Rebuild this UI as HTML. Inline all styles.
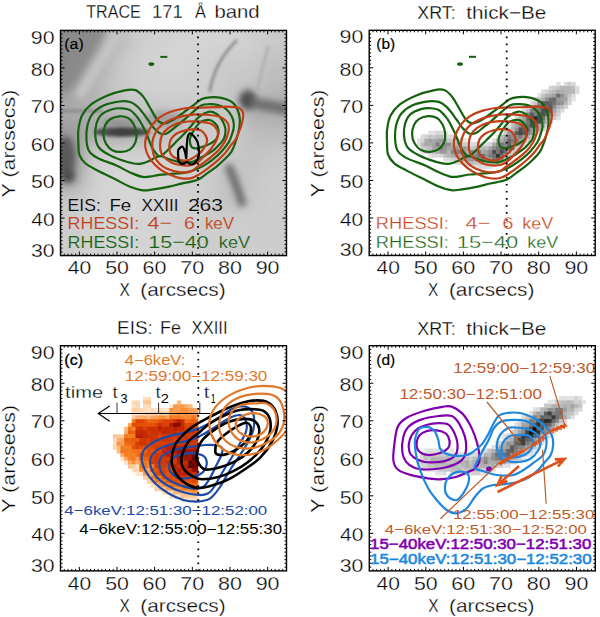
<!DOCTYPE html><html><head><meta charset="utf-8"><style>html,body{margin:0;padding:0;background:#fff;}svg{display:block;}text{font-family:"Liberation Sans",sans-serif;}</style></head><body>
<svg width="600" height="617" viewBox="0 0 600 617">
<defs><filter id="b1" x="-50%" y="-50%" width="200%" height="200%"><feGaussianBlur stdDeviation="1.5"/></filter><filter id="b3" x="-50%" y="-50%" width="200%" height="200%"><feGaussianBlur stdDeviation="3"/></filter><filter id="b6" x="-50%" y="-50%" width="200%" height="200%"><feGaussianBlur stdDeviation="6"/></filter><filter id="b12" x="-50%" y="-50%" width="200%" height="200%"><feGaussianBlur stdDeviation="12"/></filter></defs>
<defs><filter id="bgA" filterUnits="userSpaceOnUse" x="0" y="0" width="600" height="617"><feGaussianBlur stdDeviation="9"/></filter><filter id="fA3" filterUnits="userSpaceOnUse" x="0" y="0" width="600" height="617"><feGaussianBlur stdDeviation="3"/></filter><filter id="fA1" filterUnits="userSpaceOnUse" x="0" y="0" width="600" height="617"><feGaussianBlur stdDeviation="1.5"/></filter></defs>
<rect width="600" height="617" fill="#fff"/>
<text x="86.30" y="18.00" font-size="18.6" textLength="54.41" lengthAdjust="spacingAndGlyphs" fill="#000"  stroke="#fff" stroke-width="0.3">TRACE</text>
<text x="151.92" y="18.00" font-size="18.6" textLength="30.77" lengthAdjust="spacingAndGlyphs" fill="#000"  stroke="#fff" stroke-width="0.3">171</text>
<text x="194.92" y="18.00" font-size="18.6" textLength="10.92" lengthAdjust="spacingAndGlyphs" fill="#000"  stroke="#fff" stroke-width="0.3">Å</text>
<text x="214.48" y="18.00" font-size="18.6" textLength="45.13" lengthAdjust="spacingAndGlyphs" fill="#000"  stroke="#fff" stroke-width="0.3">band</text>
<text x="417.25" y="18.50" font-size="18.6" textLength="38.43" lengthAdjust="spacingAndGlyphs" fill="#000"  stroke="#fff" stroke-width="0.3">XRT:</text>
<text x="466.39" y="18.50" font-size="18.6" textLength="79.91" lengthAdjust="spacingAndGlyphs" fill="#000"  stroke="#fff" stroke-width="0.3">thick−Be</text>
<text x="117.09" y="334.00" font-size="18.6" textLength="35.70" lengthAdjust="spacingAndGlyphs" fill="#000"  stroke="#fff" stroke-width="0.3">EIS:</text>
<text x="159.97" y="334.00" font-size="18.6" textLength="20.87" lengthAdjust="spacingAndGlyphs" fill="#000"  stroke="#fff" stroke-width="0.3">Fe</text>
<text x="191.59" y="334.00" font-size="18.6" textLength="35.95" lengthAdjust="spacingAndGlyphs" fill="#000"  stroke="#fff" stroke-width="0.3">XXIII</text>
<text x="417.25" y="334.50" font-size="18.6" textLength="38.43" lengthAdjust="spacingAndGlyphs" fill="#000"  stroke="#fff" stroke-width="0.3">XRT:</text>
<text x="466.39" y="334.50" font-size="18.6" textLength="79.91" lengthAdjust="spacingAndGlyphs" fill="#000"  stroke="#fff" stroke-width="0.3">thick−Be</text>
<clipPath id="clipa"><rect x="60.50" y="30.40" width="226.0" height="225.2"/></clipPath>
<g clip-path="url(#clipa)">
<g filter="url(#bgA)">
<rect x="37.9" y="7.9" width="23.1" height="23.0" fill="#8c8c8c"/>
<rect x="60.5" y="7.9" width="23.1" height="23.0" fill="#8c8c8c"/>
<rect x="83.1" y="7.9" width="23.1" height="23.0" fill="#8c8c8c"/>
<rect x="105.7" y="7.9" width="23.1" height="23.0" fill="#b9b9b9"/>
<rect x="128.3" y="7.9" width="23.1" height="23.0" fill="#cdcdcd"/>
<rect x="150.9" y="7.9" width="23.1" height="23.0" fill="#d2d2d2"/>
<rect x="173.5" y="7.9" width="23.1" height="23.0" fill="#d4d4d4"/>
<rect x="196.1" y="7.9" width="23.1" height="23.0" fill="#d4d4d4"/>
<rect x="218.7" y="7.9" width="23.1" height="23.0" fill="#d4d4d4"/>
<rect x="241.3" y="7.9" width="23.1" height="23.0" fill="#d0d0d0"/>
<rect x="263.9" y="7.9" width="23.1" height="23.0" fill="#cacaca"/>
<rect x="286.5" y="7.9" width="23.1" height="23.0" fill="#cacaca"/>
<rect x="37.9" y="30.4" width="23.1" height="23.0" fill="#8c8c8c"/>
<rect x="60.5" y="30.4" width="23.1" height="23.0" fill="#8c8c8c"/>
<rect x="83.1" y="30.4" width="23.1" height="23.0" fill="#8c8c8c"/>
<rect x="105.7" y="30.4" width="23.1" height="23.0" fill="#b9b9b9"/>
<rect x="128.3" y="30.4" width="23.1" height="23.0" fill="#cdcdcd"/>
<rect x="150.9" y="30.4" width="23.1" height="23.0" fill="#d2d2d2"/>
<rect x="173.5" y="30.4" width="23.1" height="23.0" fill="#d4d4d4"/>
<rect x="196.1" y="30.4" width="23.1" height="23.0" fill="#d4d4d4"/>
<rect x="218.7" y="30.4" width="23.1" height="23.0" fill="#d4d4d4"/>
<rect x="241.3" y="30.4" width="23.1" height="23.0" fill="#d0d0d0"/>
<rect x="263.9" y="30.4" width="23.1" height="23.0" fill="#cacaca"/>
<rect x="286.5" y="30.4" width="23.1" height="23.0" fill="#cacaca"/>
<rect x="37.9" y="52.9" width="23.1" height="23.0" fill="#828282"/>
<rect x="60.5" y="52.9" width="23.1" height="23.0" fill="#828282"/>
<rect x="83.1" y="52.9" width="23.1" height="23.0" fill="#a0a0a0"/>
<rect x="105.7" y="52.9" width="23.1" height="23.0" fill="#c6c6c6"/>
<rect x="128.3" y="52.9" width="23.1" height="23.0" fill="#d2d2d2"/>
<rect x="150.9" y="52.9" width="23.1" height="23.0" fill="#d4d4d4"/>
<rect x="173.5" y="52.9" width="23.1" height="23.0" fill="#d4d4d4"/>
<rect x="196.1" y="52.9" width="23.1" height="23.0" fill="#d0d0d0"/>
<rect x="218.7" y="52.9" width="23.1" height="23.0" fill="#cacaca"/>
<rect x="241.3" y="52.9" width="23.1" height="23.0" fill="#cacaca"/>
<rect x="263.9" y="52.9" width="23.1" height="23.0" fill="#c0c0c0"/>
<rect x="286.5" y="52.9" width="23.1" height="23.0" fill="#c0c0c0"/>
<rect x="37.9" y="75.4" width="23.1" height="23.0" fill="#969696"/>
<rect x="60.5" y="75.4" width="23.1" height="23.0" fill="#969696"/>
<rect x="83.1" y="75.4" width="23.1" height="23.0" fill="#b6b6b6"/>
<rect x="105.7" y="75.4" width="23.1" height="23.0" fill="#c8c8c8"/>
<rect x="128.3" y="75.4" width="23.1" height="23.0" fill="#d0d0d0"/>
<rect x="150.9" y="75.4" width="23.1" height="23.0" fill="#d2d2d2"/>
<rect x="173.5" y="75.4" width="23.1" height="23.0" fill="#d2d2d2"/>
<rect x="196.1" y="75.4" width="23.1" height="23.0" fill="#d0d0d0"/>
<rect x="218.7" y="75.4" width="23.1" height="23.0" fill="#c6c6c6"/>
<rect x="241.3" y="75.4" width="23.1" height="23.0" fill="#c3c3c3"/>
<rect x="263.9" y="75.4" width="23.1" height="23.0" fill="#b9b9b9"/>
<rect x="286.5" y="75.4" width="23.1" height="23.0" fill="#b9b9b9"/>
<rect x="37.9" y="98.0" width="23.1" height="23.0" fill="#acacac"/>
<rect x="60.5" y="98.0" width="23.1" height="23.0" fill="#acacac"/>
<rect x="83.1" y="98.0" width="23.1" height="23.0" fill="#b4b4b4"/>
<rect x="105.7" y="98.0" width="23.1" height="23.0" fill="#bcbcbc"/>
<rect x="128.3" y="98.0" width="23.1" height="23.0" fill="#c6c6c6"/>
<rect x="150.9" y="98.0" width="23.1" height="23.0" fill="#c8c8c8"/>
<rect x="173.5" y="98.0" width="23.1" height="23.0" fill="#c8c8c8"/>
<rect x="196.1" y="98.0" width="23.1" height="23.0" fill="#c6c6c6"/>
<rect x="218.7" y="98.0" width="23.1" height="23.0" fill="#c6c6c6"/>
<rect x="241.3" y="98.0" width="23.1" height="23.0" fill="#aaaaaa"/>
<rect x="263.9" y="98.0" width="23.1" height="23.0" fill="#aaaaaa"/>
<rect x="286.5" y="98.0" width="23.1" height="23.0" fill="#aaaaaa"/>
<rect x="37.9" y="120.5" width="23.1" height="23.0" fill="#9b9b9b"/>
<rect x="60.5" y="120.5" width="23.1" height="23.0" fill="#9b9b9b"/>
<rect x="83.1" y="120.5" width="23.1" height="23.0" fill="#a8a8a8"/>
<rect x="105.7" y="120.5" width="23.1" height="23.0" fill="#a5a5a5"/>
<rect x="128.3" y="120.5" width="23.1" height="23.0" fill="#aaaaaa"/>
<rect x="150.9" y="120.5" width="23.1" height="23.0" fill="#bebebe"/>
<rect x="173.5" y="120.5" width="23.1" height="23.0" fill="#c8c8c8"/>
<rect x="196.1" y="120.5" width="23.1" height="23.0" fill="#cdcdcd"/>
<rect x="218.7" y="120.5" width="23.1" height="23.0" fill="#cdcdcd"/>
<rect x="241.3" y="120.5" width="23.1" height="23.0" fill="#bebebe"/>
<rect x="263.9" y="120.5" width="23.1" height="23.0" fill="#b9b9b9"/>
<rect x="286.5" y="120.5" width="23.1" height="23.0" fill="#b9b9b9"/>
<rect x="37.9" y="143.0" width="23.1" height="23.0" fill="#8c8c8c"/>
<rect x="60.5" y="143.0" width="23.1" height="23.0" fill="#8c8c8c"/>
<rect x="83.1" y="143.0" width="23.1" height="23.0" fill="#cdcdcd"/>
<rect x="105.7" y="143.0" width="23.1" height="23.0" fill="#d2d2d2"/>
<rect x="128.3" y="143.0" width="23.1" height="23.0" fill="#d2d2d2"/>
<rect x="150.9" y="143.0" width="23.1" height="23.0" fill="#d2d2d2"/>
<rect x="173.5" y="143.0" width="23.1" height="23.0" fill="#d2d2d2"/>
<rect x="196.1" y="143.0" width="23.1" height="23.0" fill="#cdcdcd"/>
<rect x="218.7" y="143.0" width="23.1" height="23.0" fill="#c8c8c8"/>
<rect x="241.3" y="143.0" width="23.1" height="23.0" fill="#c3c3c3"/>
<rect x="263.9" y="143.0" width="23.1" height="23.0" fill="#c8c8c8"/>
<rect x="286.5" y="143.0" width="23.1" height="23.0" fill="#c8c8c8"/>
<rect x="37.9" y="165.5" width="23.1" height="23.0" fill="#969696"/>
<rect x="60.5" y="165.5" width="23.1" height="23.0" fill="#969696"/>
<rect x="83.1" y="165.5" width="23.1" height="23.0" fill="#d2d2d2"/>
<rect x="105.7" y="165.5" width="23.1" height="23.0" fill="#d6d6d6"/>
<rect x="128.3" y="165.5" width="23.1" height="23.0" fill="#d6d6d6"/>
<rect x="150.9" y="165.5" width="23.1" height="23.0" fill="#d6d6d6"/>
<rect x="173.5" y="165.5" width="23.1" height="23.0" fill="#d2d2d2"/>
<rect x="196.1" y="165.5" width="23.1" height="23.0" fill="#cdcdcd"/>
<rect x="218.7" y="165.5" width="23.1" height="23.0" fill="#c0c0c0"/>
<rect x="241.3" y="165.5" width="23.1" height="23.0" fill="#c6c6c6"/>
<rect x="263.9" y="165.5" width="23.1" height="23.0" fill="#cdcdcd"/>
<rect x="286.5" y="165.5" width="23.1" height="23.0" fill="#cdcdcd"/>
<rect x="37.9" y="188.0" width="23.1" height="23.0" fill="#c8c8c8"/>
<rect x="60.5" y="188.0" width="23.1" height="23.0" fill="#c8c8c8"/>
<rect x="83.1" y="188.0" width="23.1" height="23.0" fill="#d2d2d2"/>
<rect x="105.7" y="188.0" width="23.1" height="23.0" fill="#d6d6d6"/>
<rect x="128.3" y="188.0" width="23.1" height="23.0" fill="#d6d6d6"/>
<rect x="150.9" y="188.0" width="23.1" height="23.0" fill="#d6d6d6"/>
<rect x="173.5" y="188.0" width="23.1" height="23.0" fill="#d2d2d2"/>
<rect x="196.1" y="188.0" width="23.1" height="23.0" fill="#cdcdcd"/>
<rect x="218.7" y="188.0" width="23.1" height="23.0" fill="#c0c0c0"/>
<rect x="241.3" y="188.0" width="23.1" height="23.0" fill="#c8c8c8"/>
<rect x="263.9" y="188.0" width="23.1" height="23.0" fill="#cdcdcd"/>
<rect x="286.5" y="188.0" width="23.1" height="23.0" fill="#cdcdcd"/>
<rect x="37.9" y="210.6" width="23.1" height="23.0" fill="#cdcdcd"/>
<rect x="60.5" y="210.6" width="23.1" height="23.0" fill="#cdcdcd"/>
<rect x="83.1" y="210.6" width="23.1" height="23.0" fill="#d2d2d2"/>
<rect x="105.7" y="210.6" width="23.1" height="23.0" fill="#d4d4d4"/>
<rect x="128.3" y="210.6" width="23.1" height="23.0" fill="#d4d4d4"/>
<rect x="150.9" y="210.6" width="23.1" height="23.0" fill="#d4d4d4"/>
<rect x="173.5" y="210.6" width="23.1" height="23.0" fill="#d2d2d2"/>
<rect x="196.1" y="210.6" width="23.1" height="23.0" fill="#cecece"/>
<rect x="218.7" y="210.6" width="23.1" height="23.0" fill="#cdcdcd"/>
<rect x="241.3" y="210.6" width="23.1" height="23.0" fill="#cdcdcd"/>
<rect x="263.9" y="210.6" width="23.1" height="23.0" fill="#cdcdcd"/>
<rect x="286.5" y="210.6" width="23.1" height="23.0" fill="#cdcdcd"/>
<rect x="37.9" y="233.1" width="23.1" height="23.0" fill="#cdcdcd"/>
<rect x="60.5" y="233.1" width="23.1" height="23.0" fill="#cdcdcd"/>
<rect x="83.1" y="233.1" width="23.1" height="23.0" fill="#d2d2d2"/>
<rect x="105.7" y="233.1" width="23.1" height="23.0" fill="#d4d4d4"/>
<rect x="128.3" y="233.1" width="23.1" height="23.0" fill="#d4d4d4"/>
<rect x="150.9" y="233.1" width="23.1" height="23.0" fill="#d4d4d4"/>
<rect x="173.5" y="233.1" width="23.1" height="23.0" fill="#d2d2d2"/>
<rect x="196.1" y="233.1" width="23.1" height="23.0" fill="#cecece"/>
<rect x="218.7" y="233.1" width="23.1" height="23.0" fill="#cdcdcd"/>
<rect x="241.3" y="233.1" width="23.1" height="23.0" fill="#cdcdcd"/>
<rect x="263.9" y="233.1" width="23.1" height="23.0" fill="#cdcdcd"/>
<rect x="286.5" y="233.1" width="23.1" height="23.0" fill="#cdcdcd"/>
<rect x="37.9" y="255.6" width="23.1" height="23.0" fill="#cdcdcd"/>
<rect x="60.5" y="255.6" width="23.1" height="23.0" fill="#cdcdcd"/>
<rect x="83.1" y="255.6" width="23.1" height="23.0" fill="#d2d2d2"/>
<rect x="105.7" y="255.6" width="23.1" height="23.0" fill="#d4d4d4"/>
<rect x="128.3" y="255.6" width="23.1" height="23.0" fill="#d4d4d4"/>
<rect x="150.9" y="255.6" width="23.1" height="23.0" fill="#d4d4d4"/>
<rect x="173.5" y="255.6" width="23.1" height="23.0" fill="#d2d2d2"/>
<rect x="196.1" y="255.6" width="23.1" height="23.0" fill="#cecece"/>
<rect x="218.7" y="255.6" width="23.1" height="23.0" fill="#cdcdcd"/>
<rect x="241.3" y="255.6" width="23.1" height="23.0" fill="#cdcdcd"/>
<rect x="263.9" y="255.6" width="23.1" height="23.0" fill="#cdcdcd"/>
<rect x="286.5" y="255.6" width="23.1" height="23.0" fill="#cdcdcd"/>
</g>
<g filter="url(#fA3)"><path d="M84 30 L104 30 L68 90 L60 90 L60 68Z" fill="#8a8a8a"/><path d="M112 30 L128 30 L84 98 L72 98Z" fill="#c4c4c4"/><ellipse cx="66" cy="158" rx="9" ry="22" fill="#5a5a5a"/><ellipse cx="68" cy="176" rx="7" ry="7" fill="#4a4a4a"/><ellipse cx="248" cy="100" rx="9" ry="10" fill="#505050"/><path d="M252 103 Q270 106 292 110" stroke="#6e6e6e" stroke-width="11" fill="none"/><path d="M228 165 L236 185 L243 206" stroke="#6a6a6a" stroke-width="8" fill="none"/><ellipse cx="120" cy="123" rx="18" ry="2.5" fill="#7a7a7a"/><ellipse cx="165" cy="119" rx="20" ry="8" fill="#a0a0a0"/></g>
<g filter="url(#fA1)"><ellipse cx="122" cy="132" rx="28" ry="5" fill="#505050"/><ellipse cx="124" cy="132" rx="16" ry="3.5" fill="#404040"/><path d="M60 111 L102 111" stroke="#8a8a8a" stroke-width="3"/><path d="M237 40 Q222 55 216 70 T210 92" stroke="#8e8e8e" stroke-width="3" fill="none"/><path d="M268 46 Q262 70 257 92" stroke="#b0b0b0" stroke-width="3" fill="none"/></g>
<path d="M135.5 90.1C138.6 91.1 140.8 93.8 143.2 96.6C145.5 99.4 147.2 103.0 149.6 107.0C152.0 111.0 155.3 117.7 157.8 120.4C160.3 123.1 162.0 123.5 164.6 123.4C167.3 123.3 170.7 121.3 173.7 119.6C176.7 117.9 179.6 115.5 182.8 113.1C186.1 110.7 190.1 107.6 193.2 105.3C196.3 103.0 198.6 100.5 201.3 99.2C204.0 97.9 206.8 97.6 209.6 97.3C212.4 97.0 215.2 97.0 218.0 97.3C220.8 97.6 223.8 98.3 226.3 99.2C228.8 100.1 231.2 101.3 233.0 102.9C234.8 104.5 236.0 106.4 237.1 108.8C238.2 111.2 239.2 114.3 239.6 117.1C240.0 119.9 239.9 122.6 239.6 125.4C239.3 128.2 238.7 131.0 238.0 133.8C237.3 136.6 236.6 139.1 235.5 142.1C234.4 145.1 233.1 148.9 231.3 151.8C229.5 154.7 227.1 156.8 224.6 159.3C222.1 161.8 219.2 164.4 216.3 166.8C213.4 169.1 210.0 171.3 207.1 173.4C204.2 175.5 201.4 177.9 198.8 179.3C196.2 180.7 194.2 180.9 191.3 181.6C188.4 182.3 185.0 182.8 181.3 183.6C177.6 184.4 173.8 185.7 169.1 186.7C164.4 187.7 157.7 188.8 153.3 189.4C148.9 190.0 146.5 190.8 142.6 190.3C138.7 189.8 134.6 188.5 130.1 186.7C125.7 184.9 121.3 182.3 115.9 179.6C110.6 176.9 103.0 173.4 98.0 170.7C93.0 168.0 88.7 166.2 85.6 163.5C82.5 160.8 80.5 157.9 79.3 154.6C78.1 151.3 78.6 148.1 78.4 143.9C78.3 139.8 77.8 134.4 78.4 129.7C79.0 124.9 79.9 119.6 82.0 115.4C84.1 111.2 86.7 108.0 90.9 104.7C95.1 101.4 101.4 98.2 107.0 95.8C112.6 93.4 120.1 91.3 124.8 90.4C129.6 89.4 132.4 89.1 135.5 90.1Z" fill="none" stroke="#15620f" stroke-width="2.2" stroke-linejoin="round"/>
<path d="M130.1 102.0C133.1 102.8 135.3 104.8 137.3 106.5C139.3 108.2 140.6 109.9 142.3 112.1C144.1 114.3 145.8 116.8 147.8 119.6C149.8 122.3 152.1 126.2 154.3 128.6C156.5 131.0 158.7 133.0 160.8 133.8C163.0 134.6 164.8 134.3 167.2 133.2C169.6 132.1 172.4 129.3 175.0 127.3C177.6 125.2 179.8 123.5 182.8 120.9C185.8 118.3 190.1 114.4 193.2 111.8C196.3 109.2 198.6 106.7 201.3 105.4C204.0 104.1 206.8 104.3 209.6 104.2C212.4 104.1 215.5 104.4 218.0 105.0C220.5 105.6 222.7 106.6 224.6 107.9C226.5 109.2 228.2 110.9 229.6 112.9C231.0 114.8 232.3 117.2 233.0 119.6C233.7 122.0 234.0 124.7 233.8 127.1C233.7 129.5 232.9 131.3 232.1 133.8C231.3 136.3 230.6 139.1 228.8 142.1C227.0 145.1 223.9 148.9 221.3 151.8C218.7 154.7 215.8 157.1 213.0 159.3C210.2 161.5 207.4 163.4 204.6 165.1C201.8 166.8 199.3 168.1 196.3 169.3C193.3 170.5 189.4 171.7 186.3 172.4C183.2 173.1 182.2 172.9 178.0 173.3C173.8 173.7 165.4 174.1 161.3 174.6C157.2 175.1 156.4 175.6 153.3 176.0C150.2 176.4 146.5 177.5 142.6 176.9C138.7 176.3 134.6 174.3 130.1 172.4C125.7 170.5 121.3 167.7 115.9 165.3C110.6 162.9 102.5 160.6 98.0 158.2C93.5 155.8 91.0 154.1 89.1 151.1C87.2 148.1 86.8 144.6 86.5 140.4C86.2 136.2 86.3 130.6 87.3 126.1C88.3 121.6 90.0 117.0 92.7 113.6C95.4 110.2 99.0 107.6 103.4 105.6C107.9 103.6 115.0 102.1 119.4 101.5C123.9 100.9 127.1 101.2 130.1 102.0Z" fill="none" stroke="#15620f" stroke-width="2.2" stroke-linejoin="round"/>
<path d="M121.2 108.3C124.2 108.5 127.4 108.6 130.1 110.1C132.8 111.6 135.4 115.0 137.3 117.2C139.2 119.4 139.8 120.6 141.3 123.4C142.8 126.2 144.8 129.9 146.5 133.8C148.2 137.7 150.0 143.3 151.7 146.8C153.4 150.3 155.4 153.0 156.9 154.6C158.4 156.2 158.7 157.2 160.8 156.1C163.0 155.0 167.0 150.7 169.8 148.1C172.6 145.5 175.0 142.9 177.6 140.3C180.2 137.7 183.0 135.1 185.4 132.5C187.9 129.9 190.0 127.2 192.3 124.6C194.6 121.9 196.4 118.8 199.3 116.6C202.2 114.4 206.8 112.2 209.6 111.7C212.4 111.2 214.3 112.6 216.3 113.8C218.3 115.0 219.9 116.9 221.3 118.8C222.7 120.7 223.9 123.3 224.6 125.4C225.3 127.5 225.6 129.1 225.5 131.3C225.4 133.5 224.8 136.7 223.8 138.8C222.8 140.9 221.3 142.3 219.8 144.1C218.3 145.8 216.7 147.6 214.6 149.3C212.5 151.0 210.1 152.5 207.1 154.3C204.0 156.1 199.3 158.8 196.3 160.1C193.3 161.4 192.4 162.2 189.3 162.4C186.2 162.7 181.3 162.2 177.6 161.6C173.9 161.0 170.1 159.5 167.3 158.6C164.5 157.7 162.8 156.3 160.8 156.1C158.8 155.9 157.2 156.8 155.3 157.6C153.4 158.4 151.4 160.1 149.1 161.1C146.8 162.1 143.9 163.3 141.3 163.7C138.7 164.1 137.0 164.1 133.7 163.5C130.3 162.9 125.4 161.5 121.2 160.0C117.0 158.5 112.4 156.7 108.7 154.6C105.0 152.5 101.1 150.5 98.9 147.5C96.7 144.5 95.8 140.7 95.4 136.8C95.0 132.9 95.3 128.0 96.3 124.3C97.3 120.6 98.9 117.0 101.6 114.5C104.3 112.0 109.0 110.2 112.3 109.2C115.6 108.2 118.2 108.1 121.2 108.3Z" fill="none" stroke="#15620f" stroke-width="2.2" stroke-linejoin="round"/>
<path d="M119.4 116.3C122.4 116.1 125.9 116.8 128.3 118.1C130.7 119.4 132.3 121.8 133.7 124.3C135.0 126.8 136.1 130.2 136.4 133.2C136.7 136.2 136.6 139.4 135.5 142.1C134.4 144.8 132.5 147.7 130.1 149.3C127.7 150.9 124.2 151.8 121.2 151.9C118.2 152.1 114.8 151.5 112.3 150.2C109.8 148.9 107.6 146.4 106.1 143.9C104.6 141.4 103.6 138.1 103.4 135.0C103.3 131.9 104.0 127.9 105.2 125.2C106.4 122.5 108.1 120.5 110.5 119.0C112.9 117.5 116.4 116.5 119.4 116.3Z" fill="none" stroke="#15620f" stroke-width="2.2" stroke-linejoin="round"/>
<path d="M189.9 139.0C190.2 136.6 191.7 134.2 192.8 132.1C193.9 130.0 194.9 128.3 196.3 126.6C197.7 124.8 199.1 122.7 201.3 121.6C203.5 120.5 207.4 119.8 209.6 120.0C211.8 120.2 213.2 121.6 214.6 122.9C216.0 124.2 217.4 126.1 218.0 127.9C218.6 129.7 218.8 131.8 218.4 133.8C218.0 135.7 217.2 138.0 215.8 139.6C214.5 141.2 212.2 142.5 210.3 143.6C208.4 144.7 206.9 145.3 204.6 146.1C202.3 146.9 198.5 148.3 196.3 148.4C194.1 148.5 192.4 148.2 191.3 146.6C190.2 145.0 189.7 141.4 189.9 139.0Z" fill="none" stroke="#15620f" stroke-width="2.2" stroke-linejoin="round"/>
<path d="M145.2 141.6C145.6 137.9 147.4 133.3 149.1 129.9C150.8 126.5 153.0 123.5 155.6 120.9C158.2 118.3 161.4 116.1 164.6 114.4C167.8 112.7 171.3 111.5 175.0 110.5C178.7 109.5 182.3 108.6 186.7 108.1C191.1 107.6 196.1 107.8 201.3 107.6C206.5 107.4 213.8 107.2 218.0 107.1C222.2 106.9 223.5 106.7 226.3 106.7C229.1 106.7 232.2 106.8 234.6 107.1C237.0 107.4 239.1 107.8 240.5 108.8C241.9 109.8 242.6 111.4 243.0 112.9C243.4 114.4 243.3 115.8 243.0 117.9C242.7 120.0 242.0 123.0 241.3 125.4C240.6 127.8 239.8 129.7 238.8 132.1C237.8 134.5 236.8 137.5 235.5 139.6C234.3 141.7 233.0 142.4 231.3 144.6C229.6 146.8 227.7 150.0 225.5 152.6C223.3 155.2 220.8 157.6 218.0 160.1C215.2 162.6 211.9 165.3 208.8 167.6C205.7 169.9 202.5 172.3 199.6 174.1C196.7 175.8 194.5 177.4 191.3 178.1C188.1 178.8 184.0 178.8 180.2 178.1C176.4 177.4 171.9 175.6 168.5 174.0C165.1 172.4 162.3 170.9 159.5 168.8C156.7 166.6 153.9 163.9 151.7 161.1C149.5 158.3 147.6 155.2 146.5 152.0C145.4 148.8 144.8 145.3 145.2 141.6Z" fill="none" stroke="#c23e16" stroke-width="2.2" stroke-linejoin="round"/>
<path d="M152.3 142.9C152.6 139.2 154.0 135.5 155.6 132.5C157.2 129.5 159.5 126.8 162.1 124.7C164.7 122.5 167.9 121.0 171.1 119.6C174.3 118.2 177.8 117.1 181.5 116.3C185.2 115.5 189.9 114.9 193.2 114.6C196.5 114.3 198.6 114.4 201.3 114.5C204.0 114.6 206.8 114.7 209.6 115.0C212.4 115.3 215.6 115.7 218.0 116.3C220.4 116.9 222.1 117.5 223.8 118.8C225.5 120.0 227.2 122.0 228.0 123.8C228.8 125.6 229.0 127.5 228.8 129.6C228.7 131.7 227.8 134.2 227.1 136.3C226.4 138.4 226.0 139.8 224.6 142.1C223.2 144.4 221.0 147.7 218.8 150.1C216.6 152.5 213.9 154.6 211.3 156.8C208.7 159.0 205.5 161.3 203.0 163.1C200.5 164.9 198.4 166.2 196.3 167.6C194.2 169.0 193.5 170.8 190.6 171.6C187.7 172.3 182.8 172.6 178.9 172.1C175.0 171.6 170.4 170.2 167.2 168.8C164.0 167.4 161.8 166.1 159.5 163.7C157.2 161.3 154.8 158.1 153.6 154.6C152.4 151.1 152.0 146.6 152.3 142.9Z" fill="none" stroke="#c23e16" stroke-width="2.2" stroke-linejoin="round"/>
<path d="M160.1 144.2C160.2 141.2 160.7 137.8 162.1 135.1C163.5 132.4 165.9 129.9 168.5 128.0C171.1 126.0 174.4 124.5 177.6 123.4C180.9 122.3 184.4 121.8 188.0 121.5C191.6 121.2 195.7 121.3 199.3 121.6C202.9 121.9 207.0 122.5 209.6 123.3C212.1 124.1 213.2 124.8 214.6 126.3C216.0 127.8 217.4 130.0 217.8 132.1C218.2 134.2 218.0 136.3 217.1 138.8C216.2 141.3 214.4 144.2 212.3 147.1C210.2 150.0 207.0 153.4 204.3 156.1C201.6 158.8 199.0 161.5 196.3 163.1C193.6 164.7 191.3 165.4 188.0 165.6C184.7 165.8 179.8 165.3 176.3 164.3C172.8 163.3 169.7 161.6 167.2 159.8C164.7 158.0 162.6 155.9 161.4 153.3C160.2 150.7 160.0 147.2 160.1 144.2Z" fill="none" stroke="#c23e16" stroke-width="2.2" stroke-linejoin="round"/>
<path d="M169.2 146.8C169.2 144.2 169.9 141.2 171.1 139.0C172.3 136.8 174.1 135.2 176.3 133.8C178.5 132.4 181.3 131.3 184.1 130.6C186.9 129.8 190.4 129.3 193.2 129.3C196.0 129.3 198.9 129.6 201.0 130.6C203.1 131.6 204.5 133.8 205.5 135.4C206.5 137.0 207.1 138.6 207.1 140.4C207.1 142.2 206.3 144.2 205.3 146.1C204.3 148.0 202.6 150.3 200.8 152.1C199.0 153.9 196.7 155.7 194.3 157.1C192.0 158.5 189.5 160.3 186.7 160.6C183.9 160.9 180.2 160.1 177.6 159.1C175.0 158.1 172.5 156.7 171.1 154.6C169.7 152.5 169.2 149.4 169.2 146.8Z" fill="none" stroke="#c23e16" stroke-width="2.2" stroke-linejoin="round"/>
<ellipse cx="151.3" cy="64.1" rx="3" ry="1.8" fill="#15620f"/>
<rect x="160.3" y="55.9" width="7" height="2" fill="#15620f"/>
<path d="M178.3 157.5C178.2 155.5 177.6 151.8 178.3 150.0C179.0 148.2 181.4 146.4 182.5 146.7C183.6 147.0 184.4 150.1 185.0 152.0C185.6 153.9 186.0 159.2 186.3 158.0C186.6 156.8 186.5 148.7 186.8 145.0C187.1 141.3 187.4 137.9 188.0 136.0C188.6 134.1 189.4 133.1 190.5 133.3C191.6 133.5 193.3 135.6 194.5 137.0C195.7 138.4 196.8 139.8 197.5 142.0C198.2 144.2 198.8 147.5 199.0 150.0C199.2 152.5 199.0 155.0 198.5 157.0C198.0 159.0 197.2 160.8 196.0 162.0C194.8 163.2 192.5 164.5 191.0 164.5C189.5 164.5 188.3 162.1 187.0 162.0C185.7 161.9 184.3 164.0 183.0 164.0C181.7 164.0 179.8 163.1 179.0 162.0C178.2 160.9 178.4 159.5 178.3 157.5Z" fill="none" stroke="#000" stroke-width="2.2" stroke-linejoin="round"/>
<line x1="198.00" y1="36.57" x2="198.00" y2="255.60" stroke="#000" stroke-width="1.8" stroke-dasharray="1.7 5.32"/>
</g>
<text x="64.35" y="48.80" font-size="15.3" textLength="19.33" lengthAdjust="spacingAndGlyphs" fill="#000"  stroke="#000" stroke-width="0.2">(a)</text>
<text x="67.60" y="211.00" font-size="17.2" textLength="33.17" lengthAdjust="spacingAndGlyphs" fill="#000"  stroke="#cbcbcb" stroke-width="0.2">EIS:</text>
<text x="109.41" y="211.00" font-size="17.2" textLength="21.77" lengthAdjust="spacingAndGlyphs" fill="#000"  stroke="#cbcbcb" stroke-width="0.2">Fe</text>
<text x="141.57" y="211.00" font-size="17.2" textLength="37.01" lengthAdjust="spacingAndGlyphs" fill="#000"  stroke="#cbcbcb" stroke-width="0.2">XXIII</text>
<text x="187.95" y="211.00" font-size="17.2" textLength="35.07" lengthAdjust="spacingAndGlyphs" fill="#000"  stroke="#cbcbcb" stroke-width="0.2">263</text>
<text x="67.57" y="229.00" font-size="17.2" textLength="71.56" lengthAdjust="spacingAndGlyphs" fill="#c23e16"  stroke="#cbcbcb" stroke-width="0.2">RHESSI:</text>
<text x="147.46" y="229.00" font-size="17.2" textLength="24.62" lengthAdjust="spacingAndGlyphs" fill="#c23e16"  stroke="#cbcbcb" stroke-width="0.2">4−</text>
<text x="184.02" y="229.00" font-size="17.2" textLength="10.88" lengthAdjust="spacingAndGlyphs" fill="#c23e16"  stroke="#cbcbcb" stroke-width="0.2">6</text>
<text x="204.90" y="229.00" font-size="17.2" textLength="29.24" lengthAdjust="spacingAndGlyphs" fill="#c23e16"  stroke="#cbcbcb" stroke-width="0.2">keV</text>
<text x="67.57" y="248.00" font-size="17.2" textLength="71.56" lengthAdjust="spacingAndGlyphs" fill="#15620f"  stroke="#cbcbcb" stroke-width="0.2">RHESSI:</text>
<text x="148.39" y="248.00" font-size="17.2" textLength="60.45" lengthAdjust="spacingAndGlyphs" fill="#15620f"  stroke="#cbcbcb" stroke-width="0.2">15−40</text>
<text x="218.82" y="248.00" font-size="17.2" textLength="31.33" lengthAdjust="spacingAndGlyphs" fill="#15620f"  stroke="#cbcbcb" stroke-width="0.2">keV</text>
<clipPath id="clipb"><rect x="369.20" y="30.30" width="226.0" height="225.2"/></clipPath>
<g clip-path="url(#clipb)">
<rect x="416.92" y="141.96" width="4.37" height="4.35" fill="#dfdfdf"/>
<rect x="416.92" y="138.21" width="4.37" height="4.35" fill="#e0e0e0"/>
<rect x="420.69" y="149.47" width="4.37" height="4.35" fill="#e5e5e5"/>
<rect x="420.69" y="145.72" width="4.37" height="4.35" fill="#cacaca"/>
<rect x="420.69" y="141.96" width="4.37" height="4.35" fill="#bbbbbb"/>
<rect x="420.69" y="138.21" width="4.37" height="4.35" fill="#d3d3d3"/>
<rect x="420.69" y="134.45" width="4.37" height="4.35" fill="#d8d8d8"/>
<rect x="424.46" y="149.47" width="4.37" height="4.35" fill="#cdcdcd"/>
<rect x="424.46" y="145.72" width="4.37" height="4.35" fill="#c7c7c7"/>
<rect x="424.46" y="141.96" width="4.37" height="4.35" fill="#a7a7a7"/>
<rect x="424.46" y="138.21" width="4.37" height="4.35" fill="#acacac"/>
<rect x="424.46" y="134.45" width="4.37" height="4.35" fill="#d4d4d4"/>
<rect x="428.22" y="153.22" width="4.37" height="4.35" fill="#e3e3e3"/>
<rect x="428.22" y="149.47" width="4.37" height="4.35" fill="#c4c4c4"/>
<rect x="428.22" y="145.72" width="4.37" height="4.35" fill="#bcbcbc"/>
<rect x="428.22" y="141.96" width="4.37" height="4.35" fill="#acacac"/>
<rect x="428.22" y="138.21" width="4.37" height="4.35" fill="#a1a1a1"/>
<rect x="428.22" y="134.45" width="4.37" height="4.35" fill="#c5c5c5"/>
<rect x="428.22" y="130.70" width="4.37" height="4.35" fill="#e0e0e0"/>
<rect x="431.99" y="153.22" width="4.37" height="4.35" fill="#d9d9d9"/>
<rect x="431.99" y="149.47" width="4.37" height="4.35" fill="#bfbfbf"/>
<rect x="431.99" y="145.72" width="4.37" height="4.35" fill="#a5a5a5"/>
<rect x="431.99" y="141.96" width="4.37" height="4.35" fill="#a3a3a3"/>
<rect x="431.99" y="138.21" width="4.37" height="4.35" fill="#ababab"/>
<rect x="431.99" y="134.45" width="4.37" height="4.35" fill="#c9c9c9"/>
<rect x="431.99" y="130.70" width="4.37" height="4.35" fill="#e3e3e3"/>
<rect x="435.76" y="153.22" width="4.37" height="4.35" fill="#dadada"/>
<rect x="435.76" y="149.47" width="4.37" height="4.35" fill="#ababab"/>
<rect x="435.76" y="145.72" width="4.37" height="4.35" fill="#9c9c9c"/>
<rect x="435.76" y="141.96" width="4.37" height="4.35" fill="#7e7e7e"/>
<rect x="435.76" y="138.21" width="4.37" height="4.35" fill="#a0a0a0"/>
<rect x="435.76" y="134.45" width="4.37" height="4.35" fill="#c0c0c0"/>
<rect x="435.76" y="130.70" width="4.37" height="4.35" fill="#d4d4d4"/>
<rect x="439.52" y="153.22" width="4.37" height="4.35" fill="#d6d6d6"/>
<rect x="439.52" y="149.47" width="4.37" height="4.35" fill="#9a9a9a"/>
<rect x="439.52" y="145.72" width="4.37" height="4.35" fill="#838383"/>
<rect x="439.52" y="141.96" width="4.37" height="4.35" fill="#a5a5a5"/>
<rect x="439.52" y="138.21" width="4.37" height="4.35" fill="#9c9c9c"/>
<rect x="439.52" y="134.45" width="4.37" height="4.35" fill="#bebebe"/>
<rect x="439.52" y="130.70" width="4.37" height="4.35" fill="#dadada"/>
<rect x="443.29" y="156.97" width="4.37" height="4.35" fill="#dedede"/>
<rect x="443.29" y="153.22" width="4.37" height="4.35" fill="#c0c0c0"/>
<rect x="443.29" y="149.47" width="4.37" height="4.35" fill="#9b9b9b"/>
<rect x="443.29" y="145.72" width="4.37" height="4.35" fill="#969696"/>
<rect x="443.29" y="141.96" width="4.37" height="4.35" fill="#8a8a8a"/>
<rect x="443.29" y="138.21" width="4.37" height="4.35" fill="#aaaaaa"/>
<rect x="443.29" y="134.45" width="4.37" height="4.35" fill="#cccccc"/>
<rect x="443.29" y="130.70" width="4.37" height="4.35" fill="#dfdfdf"/>
<rect x="447.06" y="156.97" width="4.37" height="4.35" fill="#dbdbdb"/>
<rect x="447.06" y="153.22" width="4.37" height="4.35" fill="#b3b3b3"/>
<rect x="447.06" y="149.47" width="4.37" height="4.35" fill="#b4b4b4"/>
<rect x="447.06" y="145.72" width="4.37" height="4.35" fill="#a5a5a5"/>
<rect x="447.06" y="141.96" width="4.37" height="4.35" fill="#8f8f8f"/>
<rect x="447.06" y="138.21" width="4.37" height="4.35" fill="#c5c5c5"/>
<rect x="447.06" y="134.45" width="4.37" height="4.35" fill="#dadada"/>
<rect x="450.82" y="156.97" width="4.37" height="4.35" fill="#cfcfcf"/>
<rect x="450.82" y="153.22" width="4.37" height="4.35" fill="#aaaaaa"/>
<rect x="450.82" y="149.47" width="4.37" height="4.35" fill="#878787"/>
<rect x="450.82" y="145.72" width="4.37" height="4.35" fill="#a3a3a3"/>
<rect x="450.82" y="141.96" width="4.37" height="4.35" fill="#b4b4b4"/>
<rect x="450.82" y="138.21" width="4.37" height="4.35" fill="#c9c9c9"/>
<rect x="450.82" y="134.45" width="4.37" height="4.35" fill="#dadada"/>
<rect x="454.59" y="160.73" width="4.37" height="4.35" fill="#e4e4e4"/>
<rect x="454.59" y="156.97" width="4.37" height="4.35" fill="#cecece"/>
<rect x="454.59" y="153.22" width="4.37" height="4.35" fill="#9a9a9a"/>
<rect x="454.59" y="149.47" width="4.37" height="4.35" fill="#7f7f7f"/>
<rect x="454.59" y="145.72" width="4.37" height="4.35" fill="#999999"/>
<rect x="454.59" y="141.96" width="4.37" height="4.35" fill="#b3b3b3"/>
<rect x="454.59" y="138.21" width="4.37" height="4.35" fill="#c9c9c9"/>
<rect x="458.36" y="160.73" width="4.37" height="4.35" fill="#dbdbdb"/>
<rect x="458.36" y="156.97" width="4.37" height="4.35" fill="#b0b0b0"/>
<rect x="458.36" y="153.22" width="4.37" height="4.35" fill="#aeaeae"/>
<rect x="458.36" y="149.47" width="4.37" height="4.35" fill="#7b7b7b"/>
<rect x="458.36" y="145.72" width="4.37" height="4.35" fill="#a2a2a2"/>
<rect x="458.36" y="141.96" width="4.37" height="4.35" fill="#b9b9b9"/>
<rect x="458.36" y="138.21" width="4.37" height="4.35" fill="#d9d9d9"/>
<rect x="462.12" y="160.73" width="4.37" height="4.35" fill="#cbcbcb"/>
<rect x="462.12" y="156.97" width="4.37" height="4.35" fill="#a2a2a2"/>
<rect x="462.12" y="153.22" width="4.37" height="4.35" fill="#858585"/>
<rect x="462.12" y="149.47" width="4.37" height="4.35" fill="#a2a2a2"/>
<rect x="462.12" y="145.72" width="4.37" height="4.35" fill="#9b9b9b"/>
<rect x="462.12" y="141.96" width="4.37" height="4.35" fill="#cccccc"/>
<rect x="462.12" y="138.21" width="4.37" height="4.35" fill="#e3e3e3"/>
<rect x="465.89" y="164.48" width="4.37" height="4.35" fill="#e2e2e2"/>
<rect x="465.89" y="160.73" width="4.37" height="4.35" fill="#d2d2d2"/>
<rect x="465.89" y="156.97" width="4.37" height="4.35" fill="#979797"/>
<rect x="465.89" y="153.22" width="4.37" height="4.35" fill="#808080"/>
<rect x="465.89" y="149.47" width="4.37" height="4.35" fill="#aeaeae"/>
<rect x="465.89" y="145.72" width="4.37" height="4.35" fill="#a5a5a5"/>
<rect x="465.89" y="141.96" width="4.37" height="4.35" fill="#d6d6d6"/>
<rect x="469.66" y="160.73" width="4.37" height="4.35" fill="#b8b8b8"/>
<rect x="469.66" y="156.97" width="4.37" height="4.35" fill="#9a9a9a"/>
<rect x="469.66" y="153.22" width="4.37" height="4.35" fill="#a5a5a5"/>
<rect x="469.66" y="149.47" width="4.37" height="4.35" fill="#888888"/>
<rect x="469.66" y="145.72" width="4.37" height="4.35" fill="#c8c8c8"/>
<rect x="469.66" y="141.96" width="4.37" height="4.35" fill="#e0e0e0"/>
<rect x="473.42" y="164.48" width="4.37" height="4.35" fill="#e2e2e2"/>
<rect x="473.42" y="160.73" width="4.37" height="4.35" fill="#c4c4c4"/>
<rect x="473.42" y="156.97" width="4.37" height="4.35" fill="#a0a0a0"/>
<rect x="473.42" y="153.22" width="4.37" height="4.35" fill="#898989"/>
<rect x="473.42" y="149.47" width="4.37" height="4.35" fill="#8d8d8d"/>
<rect x="473.42" y="145.72" width="4.37" height="4.35" fill="#c2c2c2"/>
<rect x="473.42" y="141.96" width="4.37" height="4.35" fill="#d9d9d9"/>
<rect x="477.19" y="164.48" width="4.37" height="4.35" fill="#d9d9d9"/>
<rect x="477.19" y="160.73" width="4.37" height="4.35" fill="#cacaca"/>
<rect x="477.19" y="156.97" width="4.37" height="4.35" fill="#868686"/>
<rect x="477.19" y="153.22" width="4.37" height="4.35" fill="#707070"/>
<rect x="477.19" y="149.47" width="4.37" height="4.35" fill="#838383"/>
<rect x="477.19" y="145.72" width="4.37" height="4.35" fill="#c2c2c2"/>
<rect x="477.19" y="141.96" width="4.37" height="4.35" fill="#e0e0e0"/>
<rect x="480.96" y="164.48" width="4.37" height="4.35" fill="#dcdcdc"/>
<rect x="480.96" y="160.73" width="4.37" height="4.35" fill="#b3b3b3"/>
<rect x="480.96" y="156.97" width="4.37" height="4.35" fill="#767676"/>
<rect x="480.96" y="153.22" width="4.37" height="4.35" fill="#6a6a6a"/>
<rect x="480.96" y="149.47" width="4.37" height="4.35" fill="#aaaaaa"/>
<rect x="480.96" y="145.72" width="4.37" height="4.35" fill="#b7b7b7"/>
<rect x="480.96" y="141.96" width="4.37" height="4.35" fill="#e1e1e1"/>
<rect x="484.72" y="164.48" width="4.37" height="4.35" fill="#d8d8d8"/>
<rect x="484.72" y="160.73" width="4.37" height="4.35" fill="#b6b6b6"/>
<rect x="484.72" y="156.97" width="4.37" height="4.35" fill="#a0a0a0"/>
<rect x="484.72" y="153.22" width="4.37" height="4.35" fill="#949494"/>
<rect x="484.72" y="149.47" width="4.37" height="4.35" fill="#9f9f9f"/>
<rect x="484.72" y="145.72" width="4.37" height="4.35" fill="#bcbcbc"/>
<rect x="484.72" y="141.96" width="4.37" height="4.35" fill="#dfdfdf"/>
<rect x="488.49" y="164.48" width="4.37" height="4.35" fill="#e5e5e5"/>
<rect x="488.49" y="160.73" width="4.37" height="4.35" fill="#b9b9b9"/>
<rect x="488.49" y="156.97" width="4.37" height="4.35" fill="#989898"/>
<rect x="488.49" y="153.22" width="4.37" height="4.35" fill="#7d7d7d"/>
<rect x="488.49" y="149.47" width="4.37" height="4.35" fill="#898989"/>
<rect x="488.49" y="145.72" width="4.37" height="4.35" fill="#a3a3a3"/>
<rect x="488.49" y="141.96" width="4.37" height="4.35" fill="#d6d6d6"/>
<rect x="492.26" y="160.73" width="4.37" height="4.35" fill="#c9c9c9"/>
<rect x="492.26" y="156.97" width="4.37" height="4.35" fill="#777777"/>
<rect x="492.26" y="153.22" width="4.37" height="4.35" fill="#6f6f6f"/>
<rect x="492.26" y="149.47" width="4.37" height="4.35" fill="#4a4a4a"/>
<rect x="492.26" y="145.72" width="4.37" height="4.35" fill="#8c8c8c"/>
<rect x="492.26" y="141.96" width="4.37" height="4.35" fill="#a8a8a8"/>
<rect x="492.26" y="138.21" width="4.37" height="4.35" fill="#dddddd"/>
<rect x="496.02" y="160.73" width="4.37" height="4.35" fill="#b4b4b4"/>
<rect x="496.02" y="156.97" width="4.37" height="4.35" fill="#6c6c6c"/>
<rect x="496.02" y="153.22" width="4.37" height="4.35" fill="#323232"/>
<rect x="496.02" y="149.47" width="4.37" height="4.35" fill="#787878"/>
<rect x="496.02" y="145.72" width="4.37" height="4.35" fill="#787878"/>
<rect x="496.02" y="141.96" width="4.37" height="4.35" fill="#8e8e8e"/>
<rect x="496.02" y="138.21" width="4.37" height="4.35" fill="#b0b0b0"/>
<rect x="496.02" y="134.45" width="4.37" height="4.35" fill="#e4e4e4"/>
<rect x="499.79" y="160.73" width="4.37" height="4.35" fill="#d2d2d2"/>
<rect x="499.79" y="156.97" width="4.37" height="4.35" fill="#919191"/>
<rect x="499.79" y="153.22" width="4.37" height="4.35" fill="#6c6c6c"/>
<rect x="499.79" y="149.47" width="4.37" height="4.35" fill="#4a4a4a"/>
<rect x="499.79" y="145.72" width="4.37" height="4.35" fill="#646464"/>
<rect x="499.79" y="141.96" width="4.37" height="4.35" fill="#767676"/>
<rect x="499.79" y="138.21" width="4.37" height="4.35" fill="#adadad"/>
<rect x="499.79" y="134.45" width="4.37" height="4.35" fill="#bebebe"/>
<rect x="503.56" y="160.73" width="4.37" height="4.35" fill="#dedede"/>
<rect x="503.56" y="156.97" width="4.37" height="4.35" fill="#cdcdcd"/>
<rect x="503.56" y="153.22" width="4.37" height="4.35" fill="#b0b0b0"/>
<rect x="503.56" y="149.47" width="4.37" height="4.35" fill="#6e6e6e"/>
<rect x="503.56" y="145.72" width="4.37" height="4.35" fill="#767676"/>
<rect x="503.56" y="141.96" width="4.37" height="4.35" fill="#878787"/>
<rect x="503.56" y="138.21" width="4.37" height="4.35" fill="#959595"/>
<rect x="503.56" y="134.45" width="4.37" height="4.35" fill="#a0a0a0"/>
<rect x="503.56" y="130.70" width="4.37" height="4.35" fill="#c8c8c8"/>
<rect x="507.32" y="156.97" width="4.37" height="4.35" fill="#e5e5e5"/>
<rect x="507.32" y="153.22" width="4.37" height="4.35" fill="#c4c4c4"/>
<rect x="507.32" y="149.47" width="4.37" height="4.35" fill="#acacac"/>
<rect x="507.32" y="145.72" width="4.37" height="4.35" fill="#696969"/>
<rect x="507.32" y="141.96" width="4.37" height="4.35" fill="#636363"/>
<rect x="507.32" y="138.21" width="4.37" height="4.35" fill="#676767"/>
<rect x="507.32" y="134.45" width="4.37" height="4.35" fill="#7c7c7c"/>
<rect x="507.32" y="130.70" width="4.37" height="4.35" fill="#9b9b9b"/>
<rect x="507.32" y="126.95" width="4.37" height="4.35" fill="#cdcdcd"/>
<rect x="507.32" y="123.19" width="4.37" height="4.35" fill="#e0e0e0"/>
<rect x="511.09" y="153.22" width="4.37" height="4.35" fill="#e4e4e4"/>
<rect x="511.09" y="149.47" width="4.37" height="4.35" fill="#c8c8c8"/>
<rect x="511.09" y="145.72" width="4.37" height="4.35" fill="#8c8c8c"/>
<rect x="511.09" y="141.96" width="4.37" height="4.35" fill="#8d8d8d"/>
<rect x="511.09" y="138.21" width="4.37" height="4.35" fill="#797979"/>
<rect x="511.09" y="134.45" width="4.37" height="4.35" fill="#8f8f8f"/>
<rect x="511.09" y="130.70" width="4.37" height="4.35" fill="#979797"/>
<rect x="511.09" y="126.95" width="4.37" height="4.35" fill="#b5b5b5"/>
<rect x="511.09" y="123.19" width="4.37" height="4.35" fill="#bbbbbb"/>
<rect x="511.09" y="119.44" width="4.37" height="4.35" fill="#dcdcdc"/>
<rect x="514.86" y="149.47" width="4.37" height="4.35" fill="#dcdcdc"/>
<rect x="514.86" y="145.72" width="4.37" height="4.35" fill="#cbcbcb"/>
<rect x="514.86" y="141.96" width="4.37" height="4.35" fill="#a5a5a5"/>
<rect x="514.86" y="138.21" width="4.37" height="4.35" fill="#7a7a7a"/>
<rect x="514.86" y="134.45" width="4.37" height="4.35" fill="#8d8d8d"/>
<rect x="514.86" y="130.70" width="4.37" height="4.35" fill="#5c5c5c"/>
<rect x="514.86" y="126.95" width="4.37" height="4.35" fill="#909090"/>
<rect x="514.86" y="123.19" width="4.37" height="4.35" fill="#a7a7a7"/>
<rect x="514.86" y="119.44" width="4.37" height="4.35" fill="#c9c9c9"/>
<rect x="514.86" y="115.69" width="4.37" height="4.35" fill="#dadada"/>
<rect x="518.62" y="145.72" width="4.37" height="4.35" fill="#e2e2e2"/>
<rect x="518.62" y="141.96" width="4.37" height="4.35" fill="#b8b8b8"/>
<rect x="518.62" y="138.21" width="4.37" height="4.35" fill="#a6a6a6"/>
<rect x="518.62" y="134.45" width="4.37" height="4.35" fill="#7b7b7b"/>
<rect x="518.62" y="130.70" width="4.37" height="4.35" fill="#484848"/>
<rect x="518.62" y="126.95" width="4.37" height="4.35" fill="#515151"/>
<rect x="518.62" y="123.19" width="4.37" height="4.35" fill="#8b8b8b"/>
<rect x="518.62" y="119.44" width="4.37" height="4.35" fill="#acacac"/>
<rect x="518.62" y="115.69" width="4.37" height="4.35" fill="#b9b9b9"/>
<rect x="518.62" y="111.93" width="4.37" height="4.35" fill="#e5e5e5"/>
<rect x="522.39" y="141.96" width="4.37" height="4.35" fill="#e1e1e1"/>
<rect x="522.39" y="138.21" width="4.37" height="4.35" fill="#c0c0c0"/>
<rect x="522.39" y="134.45" width="4.37" height="4.35" fill="#a0a0a0"/>
<rect x="522.39" y="130.70" width="4.37" height="4.35" fill="#5b5b5b"/>
<rect x="522.39" y="126.95" width="4.37" height="4.35" fill="#636363"/>
<rect x="522.39" y="123.19" width="4.37" height="4.35" fill="#737373"/>
<rect x="522.39" y="119.44" width="4.37" height="4.35" fill="#979797"/>
<rect x="522.39" y="115.69" width="4.37" height="4.35" fill="#a1a1a1"/>
<rect x="522.39" y="111.93" width="4.37" height="4.35" fill="#bcbcbc"/>
<rect x="522.39" y="108.18" width="4.37" height="4.35" fill="#d8d8d8"/>
<rect x="526.16" y="138.21" width="4.37" height="4.35" fill="#cecece"/>
<rect x="526.16" y="134.45" width="4.37" height="4.35" fill="#aeaeae"/>
<rect x="526.16" y="130.70" width="4.37" height="4.35" fill="#8e8e8e"/>
<rect x="526.16" y="126.95" width="4.37" height="4.35" fill="#656565"/>
<rect x="526.16" y="123.19" width="4.37" height="4.35" fill="#707070"/>
<rect x="526.16" y="119.44" width="4.37" height="4.35" fill="#747474"/>
<rect x="526.16" y="115.69" width="4.37" height="4.35" fill="#6a6a6a"/>
<rect x="526.16" y="111.93" width="4.37" height="4.35" fill="#838383"/>
<rect x="526.16" y="108.18" width="4.37" height="4.35" fill="#bcbcbc"/>
<rect x="526.16" y="104.43" width="4.37" height="4.35" fill="#dbdbdb"/>
<rect x="529.92" y="134.45" width="4.37" height="4.35" fill="#c8c8c8"/>
<rect x="529.92" y="130.70" width="4.37" height="4.35" fill="#979797"/>
<rect x="529.92" y="126.95" width="4.37" height="4.35" fill="#979797"/>
<rect x="529.92" y="123.19" width="4.37" height="4.35" fill="#4f4f4f"/>
<rect x="529.92" y="119.44" width="4.37" height="4.35" fill="#585858"/>
<rect x="529.92" y="115.69" width="4.37" height="4.35" fill="#555555"/>
<rect x="529.92" y="111.93" width="4.37" height="4.35" fill="#585858"/>
<rect x="529.92" y="108.18" width="4.37" height="4.35" fill="#828282"/>
<rect x="529.92" y="104.43" width="4.37" height="4.35" fill="#b8b8b8"/>
<rect x="529.92" y="100.67" width="4.37" height="4.35" fill="#dddddd"/>
<rect x="533.69" y="130.70" width="4.37" height="4.35" fill="#c5c5c5"/>
<rect x="533.69" y="126.95" width="4.37" height="4.35" fill="#949494"/>
<rect x="533.69" y="123.19" width="4.37" height="4.35" fill="#5e5e5e"/>
<rect x="533.69" y="119.44" width="4.37" height="4.35" fill="#494949"/>
<rect x="533.69" y="115.69" width="4.37" height="4.35" fill="#2c2c2c"/>
<rect x="533.69" y="111.93" width="4.37" height="4.35" fill="#7d7d7d"/>
<rect x="533.69" y="108.18" width="4.37" height="4.35" fill="#828282"/>
<rect x="533.69" y="104.43" width="4.37" height="4.35" fill="#818181"/>
<rect x="533.69" y="100.67" width="4.37" height="4.35" fill="#c9c9c9"/>
<rect x="533.69" y="96.92" width="4.37" height="4.35" fill="#dbdbdb"/>
<rect x="537.46" y="130.70" width="4.37" height="4.35" fill="#d8d8d8"/>
<rect x="537.46" y="126.95" width="4.37" height="4.35" fill="#b3b3b3"/>
<rect x="537.46" y="123.19" width="4.37" height="4.35" fill="#acacac"/>
<rect x="537.46" y="119.44" width="4.37" height="4.35" fill="#4d4d4d"/>
<rect x="537.46" y="115.69" width="4.37" height="4.35" fill="#4f4f4f"/>
<rect x="537.46" y="111.93" width="4.37" height="4.35" fill="#545454"/>
<rect x="537.46" y="108.18" width="4.37" height="4.35" fill="#767676"/>
<rect x="537.46" y="104.43" width="4.37" height="4.35" fill="#7b7b7b"/>
<rect x="537.46" y="100.67" width="4.37" height="4.35" fill="#7f7f7f"/>
<rect x="537.46" y="96.92" width="4.37" height="4.35" fill="#c1c1c1"/>
<rect x="537.46" y="93.17" width="4.37" height="4.35" fill="#e1e1e1"/>
<rect x="541.22" y="126.95" width="4.37" height="4.35" fill="#d3d3d3"/>
<rect x="541.22" y="123.19" width="4.37" height="4.35" fill="#afafaf"/>
<rect x="541.22" y="119.44" width="4.37" height="4.35" fill="#8f8f8f"/>
<rect x="541.22" y="115.69" width="4.37" height="4.35" fill="#707070"/>
<rect x="541.22" y="111.93" width="4.37" height="4.35" fill="#505050"/>
<rect x="541.22" y="108.18" width="4.37" height="4.35" fill="#505050"/>
<rect x="541.22" y="104.43" width="4.37" height="4.35" fill="#555555"/>
<rect x="541.22" y="100.67" width="4.37" height="4.35" fill="#5f5f5f"/>
<rect x="541.22" y="96.92" width="4.37" height="4.35" fill="#aeaeae"/>
<rect x="541.22" y="93.17" width="4.37" height="4.35" fill="#c4c4c4"/>
<rect x="541.22" y="89.41" width="4.37" height="4.35" fill="#dcdcdc"/>
<rect x="544.99" y="123.19" width="4.37" height="4.35" fill="#d5d5d5"/>
<rect x="544.99" y="119.44" width="4.37" height="4.35" fill="#aeaeae"/>
<rect x="544.99" y="115.69" width="4.37" height="4.35" fill="#a7a7a7"/>
<rect x="544.99" y="111.93" width="4.37" height="4.35" fill="#6b6b6b"/>
<rect x="544.99" y="108.18" width="4.37" height="4.35" fill="#595959"/>
<rect x="544.99" y="104.43" width="4.37" height="4.35" fill="#6c6c6c"/>
<rect x="544.99" y="100.67" width="4.37" height="4.35" fill="#5d5d5d"/>
<rect x="544.99" y="96.92" width="4.37" height="4.35" fill="#929292"/>
<rect x="544.99" y="93.17" width="4.37" height="4.35" fill="#afafaf"/>
<rect x="544.99" y="89.41" width="4.37" height="4.35" fill="#d4d4d4"/>
<rect x="548.76" y="119.44" width="4.37" height="4.35" fill="#d4d4d4"/>
<rect x="548.76" y="115.69" width="4.37" height="4.35" fill="#b4b4b4"/>
<rect x="548.76" y="111.93" width="4.37" height="4.35" fill="#7d7d7d"/>
<rect x="548.76" y="108.18" width="4.37" height="4.35" fill="#4e4e4e"/>
<rect x="548.76" y="104.43" width="4.37" height="4.35" fill="#5c5c5c"/>
<rect x="548.76" y="100.67" width="4.37" height="4.35" fill="#646464"/>
<rect x="548.76" y="96.92" width="4.37" height="4.35" fill="#6e6e6e"/>
<rect x="548.76" y="93.17" width="4.37" height="4.35" fill="#aeaeae"/>
<rect x="548.76" y="89.41" width="4.37" height="4.35" fill="#c0c0c0"/>
<rect x="548.76" y="85.66" width="4.37" height="4.35" fill="#d5d5d5"/>
<rect x="552.52" y="115.69" width="4.37" height="4.35" fill="#cacaca"/>
<rect x="552.52" y="111.93" width="4.37" height="4.35" fill="#b2b2b2"/>
<rect x="552.52" y="108.18" width="4.37" height="4.35" fill="#a8a8a8"/>
<rect x="552.52" y="104.43" width="4.37" height="4.35" fill="#8c8c8c"/>
<rect x="552.52" y="100.67" width="4.37" height="4.35" fill="#757575"/>
<rect x="552.52" y="96.92" width="4.37" height="4.35" fill="#696969"/>
<rect x="552.52" y="93.17" width="4.37" height="4.35" fill="#9c9c9c"/>
<rect x="552.52" y="89.41" width="4.37" height="4.35" fill="#bababa"/>
<rect x="552.52" y="85.66" width="4.37" height="4.35" fill="#cdcdcd"/>
<rect x="556.29" y="115.69" width="4.37" height="4.35" fill="#e3e3e3"/>
<rect x="556.29" y="111.93" width="4.37" height="4.35" fill="#d2d2d2"/>
<rect x="556.29" y="108.18" width="4.37" height="4.35" fill="#c7c7c7"/>
<rect x="556.29" y="104.43" width="4.37" height="4.35" fill="#b3b3b3"/>
<rect x="556.29" y="100.67" width="4.37" height="4.35" fill="#8d8d8d"/>
<rect x="556.29" y="96.92" width="4.37" height="4.35" fill="#999999"/>
<rect x="556.29" y="93.17" width="4.37" height="4.35" fill="#6d6d6d"/>
<rect x="556.29" y="89.41" width="4.37" height="4.35" fill="#a7a7a7"/>
<rect x="556.29" y="85.66" width="4.37" height="4.35" fill="#c3c3c3"/>
<rect x="556.29" y="81.91" width="4.37" height="4.35" fill="#dfdfdf"/>
<rect x="560.06" y="108.18" width="4.37" height="4.35" fill="#d8d8d8"/>
<rect x="560.06" y="104.43" width="4.37" height="4.35" fill="#bbbbbb"/>
<rect x="560.06" y="100.67" width="4.37" height="4.35" fill="#939393"/>
<rect x="560.06" y="96.92" width="4.37" height="4.35" fill="#9f9f9f"/>
<rect x="560.06" y="93.17" width="4.37" height="4.35" fill="#8e8e8e"/>
<rect x="560.06" y="89.41" width="4.37" height="4.35" fill="#adadad"/>
<rect x="560.06" y="85.66" width="4.37" height="4.35" fill="#b5b5b5"/>
<rect x="563.82" y="104.43" width="4.37" height="4.35" fill="#d1d1d1"/>
<rect x="563.82" y="100.67" width="4.37" height="4.35" fill="#b7b7b7"/>
<rect x="563.82" y="96.92" width="4.37" height="4.35" fill="#a2a2a2"/>
<rect x="563.82" y="93.17" width="4.37" height="4.35" fill="#acacac"/>
<rect x="563.82" y="89.41" width="4.37" height="4.35" fill="#b2b2b2"/>
<rect x="563.82" y="85.66" width="4.37" height="4.35" fill="#b6b6b6"/>
<rect x="563.82" y="81.91" width="4.37" height="4.35" fill="#dbdbdb"/>
<rect x="567.59" y="100.67" width="4.37" height="4.35" fill="#d8d8d8"/>
<rect x="567.59" y="96.92" width="4.37" height="4.35" fill="#d2d2d2"/>
<rect x="567.59" y="93.17" width="4.37" height="4.35" fill="#c7c7c7"/>
<rect x="567.59" y="89.41" width="4.37" height="4.35" fill="#b7b7b7"/>
<rect x="567.59" y="85.66" width="4.37" height="4.35" fill="#b6b6b6"/>
<rect x="567.59" y="81.91" width="4.37" height="4.35" fill="#cccccc"/>
<rect x="571.36" y="96.92" width="4.37" height="4.35" fill="#e4e4e4"/>
<rect x="571.36" y="93.17" width="4.37" height="4.35" fill="#dcdcdc"/>
<rect x="571.36" y="89.41" width="4.37" height="4.35" fill="#b6b6b6"/>
<rect x="571.36" y="85.66" width="4.37" height="4.35" fill="#bcbcbc"/>
<rect x="571.36" y="81.91" width="4.37" height="4.35" fill="#d8d8d8"/>
<rect x="575.12" y="89.41" width="4.37" height="4.35" fill="#dbdbdb"/>
<rect x="575.12" y="85.66" width="4.37" height="4.35" fill="#dedede"/>
<path d="M444.2 90.0C447.3 91.0 449.5 93.7 451.9 96.5C454.2 99.3 455.9 102.9 458.3 106.9C460.7 110.9 464.0 117.6 466.5 120.3C469.0 123.0 470.7 123.4 473.3 123.3C475.9 123.2 479.4 121.2 482.4 119.5C485.4 117.8 488.2 115.4 491.5 113.0C494.8 110.6 498.8 107.5 501.9 105.2C505.0 102.9 507.3 100.4 510.0 99.1C512.7 97.8 515.5 97.5 518.3 97.2C521.1 96.9 523.9 96.9 526.7 97.2C529.5 97.5 532.5 98.2 535.0 99.1C537.5 100.0 539.9 101.2 541.7 102.8C543.5 104.4 544.7 106.3 545.8 108.7C546.9 111.1 547.9 114.2 548.3 117.0C548.7 119.8 548.6 122.5 548.3 125.3C548.0 128.1 547.4 130.9 546.7 133.7C546.0 136.5 545.3 139.0 544.2 142.0C543.1 145.0 541.8 148.8 540.0 151.7C538.2 154.6 535.8 156.7 533.3 159.2C530.8 161.7 527.9 164.3 525.0 166.7C522.1 169.0 518.7 171.2 515.8 173.3C512.9 175.4 510.1 177.8 507.5 179.2C504.9 180.6 502.9 180.8 500.0 181.5C497.1 182.2 493.7 182.7 490.0 183.5C486.3 184.3 482.5 185.6 477.8 186.6C473.1 187.6 466.4 188.7 462.0 189.3C457.6 189.9 455.2 190.6 451.3 190.2C447.4 189.8 443.2 188.4 438.8 186.6C434.4 184.8 430.0 182.2 424.6 179.5C419.2 176.8 411.8 173.3 406.7 170.6C401.6 167.9 397.4 166.1 394.3 163.4C391.2 160.7 389.2 157.8 388.0 154.5C386.8 151.2 387.2 148.0 387.1 143.8C387.0 139.7 386.5 134.3 387.1 129.6C387.7 124.8 388.6 119.5 390.7 115.3C392.8 111.1 395.4 107.9 399.6 104.6C403.8 101.3 410.1 98.1 415.7 95.7C421.3 93.3 428.8 91.2 433.5 90.3C438.2 89.3 441.1 89.0 444.2 90.0Z" fill="none" stroke="#15620f" stroke-width="2.2" stroke-linejoin="round"/>
<path d="M438.8 101.9C441.8 102.7 444.0 104.7 446.0 106.4C448.0 108.1 449.2 109.8 451.0 112.0C452.8 114.2 454.5 116.8 456.5 119.5C458.5 122.2 460.8 126.1 463.0 128.5C465.2 130.9 467.4 132.9 469.5 133.7C471.6 134.5 473.5 134.2 475.9 133.1C478.3 132.0 481.1 129.2 483.7 127.2C486.3 125.2 488.5 123.4 491.5 120.8C494.5 118.2 498.8 114.3 501.9 111.7C505.0 109.1 507.3 106.6 510.0 105.3C512.7 104.0 515.5 104.2 518.3 104.1C521.1 104.0 524.2 104.3 526.7 104.9C529.2 105.5 531.4 106.5 533.3 107.8C535.2 109.1 536.9 110.8 538.3 112.8C539.7 114.8 541.0 117.1 541.7 119.5C542.4 121.9 542.6 124.6 542.5 127.0C542.4 129.4 541.6 131.2 540.8 133.7C540.0 136.2 539.3 139.0 537.5 142.0C535.7 145.0 532.6 148.8 530.0 151.7C527.4 154.6 524.5 157.0 521.7 159.2C518.9 161.4 516.1 163.3 513.3 165.0C510.5 166.7 508.1 168.0 505.0 169.2C501.9 170.4 498.1 171.6 495.0 172.3C491.9 173.0 490.9 172.8 486.7 173.2C482.5 173.6 474.1 174.1 470.0 174.5C465.9 174.9 465.1 175.5 462.0 175.9C458.9 176.3 455.2 177.4 451.3 176.8C447.4 176.2 443.2 174.2 438.8 172.3C434.4 170.4 430.0 167.6 424.6 165.2C419.2 162.8 411.2 160.5 406.7 158.1C402.2 155.7 399.7 154.0 397.8 151.0C395.9 148.0 395.5 144.5 395.2 140.3C394.9 136.1 395.0 130.5 396.0 126.0C397.0 121.5 398.7 116.9 401.4 113.5C404.1 110.1 407.7 107.5 412.1 105.5C416.6 103.5 423.7 102.0 428.1 101.4C432.6 100.8 435.8 101.1 438.8 101.9Z" fill="none" stroke="#15620f" stroke-width="2.2" stroke-linejoin="round"/>
<path d="M429.9 108.2C432.9 108.4 436.1 108.5 438.8 110.0C441.5 111.5 444.1 114.9 446.0 117.1C447.9 119.3 448.5 120.5 450.0 123.3C451.5 126.1 453.5 129.8 455.2 133.7C456.9 137.6 458.7 143.2 460.4 146.7C462.1 150.2 464.1 152.9 465.6 154.5C467.1 156.1 467.4 157.1 469.5 156.0C471.6 154.9 475.7 150.6 478.5 148.0C481.3 145.4 483.7 142.8 486.3 140.2C488.9 137.6 491.7 135.0 494.1 132.4C496.6 129.8 498.7 127.2 501.0 124.5C503.3 121.8 505.1 118.7 508.0 116.5C510.9 114.3 515.5 112.1 518.3 111.6C521.1 111.1 523.0 112.5 525.0 113.7C527.0 114.9 528.6 116.8 530.0 118.7C531.4 120.6 532.6 123.2 533.3 125.3C534.0 127.4 534.3 129.0 534.2 131.2C534.1 133.4 533.5 136.6 532.5 138.7C531.5 140.8 530.0 142.2 528.5 144.0C527.0 145.8 525.4 147.5 523.3 149.2C521.2 150.9 518.8 152.4 515.8 154.2C512.8 156.0 508.0 158.7 505.0 160.0C502.0 161.3 501.1 162.1 498.0 162.3C494.9 162.6 490.0 162.1 486.3 161.5C482.6 160.9 478.8 159.4 476.0 158.5C473.2 157.6 471.5 156.2 469.5 156.0C467.5 155.8 465.9 156.7 464.0 157.5C462.1 158.3 460.1 160.0 457.8 161.0C455.5 162.0 452.6 163.2 450.0 163.6C447.4 164.0 445.8 164.0 442.4 163.4C439.0 162.8 434.1 161.4 429.9 159.9C425.7 158.4 421.1 156.6 417.4 154.5C413.7 152.4 409.8 150.4 407.6 147.4C405.4 144.4 404.5 140.6 404.1 136.7C403.7 132.8 404.0 127.9 405.0 124.2C406.0 120.5 407.6 116.9 410.3 114.4C413.0 111.9 417.7 110.1 421.0 109.1C424.3 108.1 426.9 108.0 429.9 108.2Z" fill="none" stroke="#15620f" stroke-width="2.2" stroke-linejoin="round"/>
<path d="M428.1 116.2C431.1 116.0 434.6 116.7 437.0 118.0C439.4 119.3 441.0 121.7 442.4 124.2C443.8 126.7 444.8 130.1 445.1 133.1C445.4 136.1 445.2 139.3 444.2 142.0C443.1 144.7 441.2 147.6 438.8 149.2C436.4 150.8 432.9 151.7 429.9 151.8C426.9 152.0 423.5 151.4 421.0 150.1C418.5 148.8 416.3 146.3 414.8 143.8C413.3 141.3 412.2 138.0 412.1 134.9C412.0 131.8 412.7 127.8 413.9 125.1C415.1 122.4 416.8 120.4 419.2 118.9C421.6 117.4 425.1 116.4 428.1 116.2Z" fill="none" stroke="#15620f" stroke-width="2.2" stroke-linejoin="round"/>
<path d="M498.6 138.9C498.9 136.5 500.4 134.1 501.5 132.0C502.6 129.9 503.6 128.2 505.0 126.5C506.4 124.8 507.8 122.6 510.0 121.5C512.2 120.4 516.1 119.7 518.3 119.9C520.5 120.1 521.9 121.5 523.3 122.8C524.7 124.1 526.1 126.0 526.7 127.8C527.3 129.6 527.5 131.8 527.1 133.7C526.7 135.6 525.9 137.9 524.5 139.5C523.1 141.1 520.9 142.4 519.0 143.5C517.1 144.6 515.6 145.2 513.3 146.0C511.0 146.8 507.2 148.2 505.0 148.3C502.8 148.4 501.1 148.1 500.0 146.5C498.9 144.9 498.4 141.3 498.6 138.9Z" fill="none" stroke="#15620f" stroke-width="2.2" stroke-linejoin="round"/>
<path d="M453.9 141.5C454.3 137.8 456.1 133.2 457.8 129.8C459.5 126.4 461.7 123.4 464.3 120.8C466.9 118.2 470.1 116.0 473.3 114.3C476.5 112.6 480.0 111.5 483.7 110.4C487.4 109.4 491.0 108.5 495.4 108.0C499.8 107.5 504.8 107.7 510.0 107.5C515.2 107.3 522.5 107.2 526.7 107.0C530.9 106.8 532.2 106.6 535.0 106.6C537.8 106.6 540.9 106.7 543.3 107.0C545.7 107.3 547.8 107.7 549.2 108.7C550.6 109.7 551.3 111.3 551.7 112.8C552.1 114.3 552.0 115.7 551.7 117.8C551.4 119.9 550.7 122.9 550.0 125.3C549.3 127.7 548.5 129.6 547.5 132.0C546.5 134.4 545.5 137.4 544.2 139.5C543.0 141.6 541.7 142.3 540.0 144.5C538.3 146.7 536.4 149.9 534.2 152.5C532.0 155.1 529.5 157.5 526.7 160.0C523.9 162.5 520.6 165.2 517.5 167.5C514.4 169.8 511.2 172.2 508.3 174.0C505.4 175.8 503.2 177.3 500.0 178.0C496.8 178.7 492.7 178.7 488.9 178.0C485.1 177.3 480.6 175.5 477.2 173.9C473.8 172.3 471.0 170.8 468.2 168.7C465.4 166.5 462.6 163.8 460.4 161.0C458.2 158.2 456.3 155.2 455.2 151.9C454.1 148.7 453.5 145.2 453.9 141.5Z" fill="none" stroke="#c23e16" stroke-width="2.2" stroke-linejoin="round"/>
<path d="M461.0 142.8C461.3 139.1 462.7 135.4 464.3 132.4C465.9 129.4 468.2 126.8 470.8 124.6C473.4 122.4 476.6 120.9 479.8 119.5C483.0 118.1 486.5 117.0 490.2 116.2C493.9 115.4 498.6 114.8 501.9 114.5C505.2 114.2 507.3 114.3 510.0 114.4C512.7 114.5 515.5 114.6 518.3 114.9C521.1 115.2 524.3 115.6 526.7 116.2C529.1 116.8 530.8 117.5 532.5 118.7C534.2 120.0 535.9 121.9 536.7 123.7C537.5 125.5 537.6 127.4 537.5 129.5C537.4 131.6 536.5 134.1 535.8 136.2C535.1 138.3 534.7 139.7 533.3 142.0C531.9 144.3 529.7 147.6 527.5 150.0C525.3 152.4 522.6 154.5 520.0 156.7C517.4 158.9 514.2 161.2 511.7 163.0C509.2 164.8 507.1 166.1 505.0 167.5C502.9 168.9 502.2 170.8 499.3 171.5C496.4 172.2 491.5 172.5 487.6 172.0C483.7 171.5 479.1 170.1 475.9 168.7C472.7 167.3 470.5 166.0 468.2 163.6C465.9 161.2 463.5 158.0 462.3 154.5C461.1 151.0 460.7 146.5 461.0 142.8Z" fill="none" stroke="#c23e16" stroke-width="2.2" stroke-linejoin="round"/>
<path d="M468.8 144.1C468.9 141.1 469.4 137.7 470.8 135.0C472.2 132.3 474.6 129.8 477.2 127.9C479.8 126.0 483.1 124.4 486.3 123.3C489.6 122.2 493.1 121.7 496.7 121.4C500.3 121.1 504.4 121.2 508.0 121.5C511.6 121.8 515.8 122.4 518.3 123.2C520.8 124.0 521.9 124.7 523.3 126.2C524.7 127.7 526.1 129.9 526.5 132.0C526.9 134.1 526.7 136.2 525.8 138.7C524.9 141.2 523.1 144.1 521.0 147.0C518.9 149.9 515.7 153.3 513.0 156.0C510.3 158.7 507.7 161.4 505.0 163.0C502.3 164.6 500.0 165.3 496.7 165.5C493.4 165.7 488.5 165.2 485.0 164.2C481.5 163.2 478.4 161.5 475.9 159.7C473.4 157.9 471.3 155.8 470.1 153.2C468.9 150.6 468.7 147.1 468.8 144.1Z" fill="none" stroke="#c23e16" stroke-width="2.2" stroke-linejoin="round"/>
<path d="M477.9 146.7C477.9 144.1 478.6 141.1 479.8 138.9C481.0 136.7 482.8 135.1 485.0 133.7C487.2 132.3 490.0 131.2 492.8 130.5C495.6 129.8 499.1 129.2 501.9 129.2C504.7 129.2 507.6 129.5 509.7 130.5C511.8 131.5 513.2 133.7 514.2 135.3C515.2 136.9 515.8 138.5 515.8 140.3C515.8 142.1 515.0 144.1 514.0 146.0C513.0 147.9 511.3 150.2 509.5 152.0C507.7 153.8 505.4 155.6 503.0 157.0C500.6 158.4 498.2 160.2 495.4 160.5C492.6 160.8 488.9 160.0 486.3 159.0C483.7 158.0 481.2 156.6 479.8 154.5C478.4 152.4 477.9 149.3 477.9 146.7Z" fill="none" stroke="#c23e16" stroke-width="2.2" stroke-linejoin="round"/>
<ellipse cx="460.0" cy="64.0" rx="3" ry="1.8" fill="#15620f"/>
<rect x="469.0" y="55.8" width="7" height="2" fill="#15620f"/>
<line x1="506.70" y1="36.47" x2="506.70" y2="255.50" stroke="#000" stroke-width="1.8" stroke-dasharray="1.7 5.32"/>
</g>
<text x="376.37" y="48.80" font-size="15.3" textLength="18.89" lengthAdjust="spacingAndGlyphs" fill="#000"  stroke="#000" stroke-width="0.2">(b)</text>
<text x="375.84" y="228.80" font-size="17.2" textLength="73.13" lengthAdjust="spacingAndGlyphs" fill="#c23e16"  stroke="#fff" stroke-width="0.3">RHESSI:</text>
<text x="465.45" y="228.80" font-size="17.2" textLength="25.05" lengthAdjust="spacingAndGlyphs" fill="#c23e16"  stroke="#fff" stroke-width="0.3">4−</text>
<text x="502.29" y="228.80" font-size="17.2" textLength="11.24" lengthAdjust="spacingAndGlyphs" fill="#c23e16"  stroke="#fff" stroke-width="0.3">6</text>
<text x="522.23" y="228.80" font-size="17.2" textLength="31.02" lengthAdjust="spacingAndGlyphs" fill="#c23e16"  stroke="#fff" stroke-width="0.3">keV</text>
<text x="375.84" y="247.60" font-size="17.2" textLength="73.13" lengthAdjust="spacingAndGlyphs" fill="#15620f"  stroke="#fff" stroke-width="0.3">RHESSI:</text>
<text x="456.76" y="247.60" font-size="17.2" textLength="61.49" lengthAdjust="spacingAndGlyphs" fill="#15620f"  stroke="#fff" stroke-width="0.3">15−40</text>
<text x="527.23" y="247.60" font-size="17.2" textLength="31.02" lengthAdjust="spacingAndGlyphs" fill="#15620f"  stroke="#fff" stroke-width="0.3">keV</text>
<clipPath id="clipc"><rect x="60.50" y="345.70" width="226.0" height="225.2"/></clipPath>
<g clip-path="url(#clipc)">
<rect x="142.99" y="396.75" width="4.37" height="4.35" fill="#fddebe"/>
<rect x="146.76" y="396.75" width="4.37" height="4.35" fill="#fddbb9"/>
<rect x="131.69" y="400.50" width="4.37" height="4.35" fill="#fddab7"/>
<rect x="135.46" y="400.50" width="4.37" height="4.35" fill="#fcd7b1"/>
<rect x="142.99" y="400.50" width="4.37" height="4.35" fill="#fbc492"/>
<rect x="146.76" y="400.50" width="4.37" height="4.35" fill="#fbc08b"/>
<rect x="176.89" y="400.50" width="4.37" height="4.35" fill="#fbba81"/>
<rect x="131.69" y="404.25" width="4.37" height="4.35" fill="#fde1c4"/>
<rect x="135.46" y="404.25" width="4.37" height="4.35" fill="#fcd7b1"/>
<rect x="142.99" y="404.25" width="4.37" height="4.35" fill="#fddebd"/>
<rect x="146.76" y="404.25" width="4.37" height="4.35" fill="#fcd8b3"/>
<rect x="169.36" y="404.25" width="4.37" height="4.35" fill="#fde6ce"/>
<rect x="173.12" y="404.25" width="4.37" height="4.35" fill="#f8984a"/>
<rect x="176.89" y="404.25" width="4.37" height="4.35" fill="#f89e52"/>
<rect x="180.66" y="404.25" width="4.37" height="4.35" fill="#f89747"/>
<rect x="184.42" y="404.25" width="4.37" height="4.35" fill="#faad6b"/>
<rect x="188.19" y="404.25" width="4.37" height="4.35" fill="#fbba81"/>
<rect x="131.69" y="408.01" width="4.37" height="4.35" fill="#fcd0a7"/>
<rect x="135.46" y="408.01" width="4.37" height="4.35" fill="#fccfa4"/>
<rect x="139.22" y="408.01" width="4.37" height="4.35" fill="#fcd7b2"/>
<rect x="142.99" y="408.01" width="4.37" height="4.35" fill="#fddbb8"/>
<rect x="146.76" y="408.01" width="4.37" height="4.35" fill="#fde6cd"/>
<rect x="150.52" y="408.01" width="4.37" height="4.35" fill="#fddab7"/>
<rect x="154.29" y="408.01" width="4.37" height="4.35" fill="#fde6cd"/>
<rect x="158.06" y="408.01" width="4.37" height="4.35" fill="#fddebe"/>
<rect x="161.82" y="408.01" width="4.37" height="4.35" fill="#fde6cd"/>
<rect x="165.59" y="408.01" width="4.37" height="4.35" fill="#fde8d1"/>
<rect x="169.36" y="408.01" width="4.37" height="4.35" fill="#f78f3b"/>
<rect x="173.12" y="408.01" width="4.37" height="4.35" fill="#f89e54"/>
<rect x="176.89" y="408.01" width="4.37" height="4.35" fill="#f89e53"/>
<rect x="180.66" y="408.01" width="4.37" height="4.35" fill="#f78c37"/>
<rect x="184.42" y="408.01" width="4.37" height="4.35" fill="#f78f3b"/>
<rect x="188.19" y="408.01" width="4.37" height="4.35" fill="#f89d51"/>
<rect x="191.96" y="408.01" width="4.37" height="4.35" fill="#f9a45d"/>
<rect x="195.72" y="408.01" width="2.58" height="4.35" fill="#faae6d"/>
<rect x="131.69" y="411.76" width="4.37" height="4.35" fill="#fdddbc"/>
<rect x="135.46" y="411.76" width="4.37" height="4.35" fill="#fde5cb"/>
<rect x="139.22" y="411.76" width="4.37" height="4.35" fill="#fcd7b2"/>
<rect x="142.99" y="411.76" width="4.37" height="4.35" fill="#fdddbb"/>
<rect x="146.76" y="411.76" width="4.37" height="4.35" fill="#fcd6b0"/>
<rect x="150.52" y="411.76" width="4.37" height="4.35" fill="#fcd8b3"/>
<rect x="154.29" y="411.76" width="4.37" height="4.35" fill="#fccea3"/>
<rect x="158.06" y="411.76" width="4.37" height="4.35" fill="#fccda1"/>
<rect x="161.82" y="411.76" width="4.37" height="4.35" fill="#fcd1a9"/>
<rect x="165.59" y="411.76" width="4.37" height="4.35" fill="#fcd2a9"/>
<rect x="169.36" y="411.76" width="4.37" height="4.35" fill="#f9a259"/>
<rect x="173.12" y="411.76" width="4.37" height="4.35" fill="#f89c50"/>
<rect x="176.89" y="411.76" width="4.37" height="4.35" fill="#f79545"/>
<rect x="180.66" y="411.76" width="4.37" height="4.35" fill="#f9a35b"/>
<rect x="184.42" y="411.76" width="4.37" height="4.35" fill="#f79442"/>
<rect x="188.19" y="411.76" width="4.37" height="4.35" fill="#f89b4f"/>
<rect x="191.96" y="411.76" width="4.37" height="4.35" fill="#f89c50"/>
<rect x="195.72" y="411.76" width="2.58" height="4.35" fill="#f7903d"/>
<rect x="131.69" y="415.51" width="4.37" height="4.35" fill="#fcca9c"/>
<rect x="135.46" y="415.51" width="4.37" height="4.35" fill="#fab375"/>
<rect x="139.22" y="415.51" width="4.37" height="4.35" fill="#faaf6f"/>
<rect x="142.99" y="415.51" width="4.37" height="4.35" fill="#faaa66"/>
<rect x="146.76" y="415.51" width="4.37" height="4.35" fill="#fbb980"/>
<rect x="150.52" y="415.51" width="4.37" height="4.35" fill="#f9a45c"/>
<rect x="154.29" y="415.51" width="4.37" height="4.35" fill="#f9a35a"/>
<rect x="158.06" y="415.51" width="4.37" height="4.35" fill="#f7923f"/>
<rect x="161.82" y="415.51" width="4.37" height="4.35" fill="#f7903c"/>
<rect x="165.59" y="415.51" width="4.37" height="4.35" fill="#f9a35b"/>
<rect x="169.36" y="415.51" width="4.37" height="4.35" fill="#f2761b"/>
<rect x="173.12" y="415.51" width="4.37" height="4.35" fill="#f58023"/>
<rect x="176.89" y="415.51" width="4.37" height="4.35" fill="#f47b1d"/>
<rect x="180.66" y="415.51" width="4.37" height="4.35" fill="#f68830"/>
<rect x="184.42" y="415.51" width="4.37" height="4.35" fill="#f6882f"/>
<rect x="188.19" y="415.51" width="4.37" height="4.35" fill="#f6842a"/>
<rect x="191.96" y="415.51" width="4.37" height="4.35" fill="#f17219"/>
<rect x="195.72" y="415.51" width="2.58" height="4.35" fill="#f89f54"/>
<rect x="131.69" y="419.27" width="4.37" height="4.35" fill="#f3771b"/>
<rect x="135.46" y="419.27" width="4.37" height="4.35" fill="#d94204"/>
<rect x="139.22" y="419.27" width="4.37" height="4.35" fill="#d94204"/>
<rect x="142.99" y="419.27" width="4.37" height="4.35" fill="#e24f07"/>
<rect x="146.76" y="419.27" width="4.37" height="4.35" fill="#ed6914"/>
<rect x="150.52" y="419.27" width="4.37" height="4.35" fill="#eb6512"/>
<rect x="154.29" y="419.27" width="4.37" height="4.35" fill="#e95f0f"/>
<rect x="158.06" y="419.27" width="4.37" height="4.35" fill="#e5540a"/>
<rect x="161.82" y="419.27" width="4.37" height="4.35" fill="#dc4604"/>
<rect x="165.59" y="419.27" width="4.37" height="4.35" fill="#db4504"/>
<rect x="169.36" y="419.27" width="4.37" height="4.35" fill="#da4304"/>
<rect x="173.12" y="419.27" width="4.37" height="4.35" fill="#c72e02"/>
<rect x="176.89" y="419.27" width="4.37" height="4.35" fill="#b41c00"/>
<rect x="180.66" y="419.27" width="4.37" height="4.35" fill="#c62d02"/>
<rect x="184.42" y="419.27" width="4.37" height="4.35" fill="#ed6914"/>
<rect x="188.19" y="419.27" width="4.37" height="4.35" fill="#eb6311"/>
<rect x="191.96" y="419.27" width="4.37" height="4.35" fill="#e85c0d"/>
<rect x="195.72" y="419.27" width="2.58" height="4.35" fill="#ed6914"/>
<rect x="127.92" y="423.02" width="4.37" height="4.35" fill="#f9a55e"/>
<rect x="131.69" y="423.02" width="4.37" height="4.35" fill="#e04a05"/>
<rect x="135.46" y="423.02" width="4.37" height="4.35" fill="#e34f07"/>
<rect x="139.22" y="423.02" width="4.37" height="4.35" fill="#e34f07"/>
<rect x="142.99" y="423.02" width="4.37" height="4.35" fill="#e45309"/>
<rect x="146.76" y="423.02" width="4.37" height="4.35" fill="#e5550a"/>
<rect x="150.52" y="423.02" width="4.37" height="4.35" fill="#e45309"/>
<rect x="154.29" y="423.02" width="4.37" height="4.35" fill="#dd4705"/>
<rect x="158.06" y="423.02" width="4.37" height="4.35" fill="#c82f02"/>
<rect x="161.82" y="423.02" width="4.37" height="4.35" fill="#d74004"/>
<rect x="165.59" y="423.02" width="4.37" height="4.35" fill="#d94204"/>
<rect x="169.36" y="423.02" width="4.37" height="4.35" fill="#b31c00"/>
<rect x="173.12" y="423.02" width="4.37" height="4.35" fill="#850b00"/>
<rect x="176.89" y="423.02" width="4.37" height="4.35" fill="#890d00"/>
<rect x="180.66" y="423.02" width="4.37" height="4.35" fill="#c32a01"/>
<rect x="184.42" y="423.02" width="4.37" height="4.35" fill="#df4905"/>
<rect x="188.19" y="423.02" width="4.37" height="4.35" fill="#db4404"/>
<rect x="191.96" y="423.02" width="4.37" height="4.35" fill="#e14c06"/>
<rect x="195.72" y="423.02" width="2.58" height="4.35" fill="#e24d06"/>
<rect x="124.16" y="426.77" width="4.37" height="4.35" fill="#fbb980"/>
<rect x="127.92" y="426.77" width="4.37" height="4.35" fill="#f17319"/>
<rect x="131.69" y="426.77" width="4.37" height="4.35" fill="#f6882f"/>
<rect x="135.46" y="426.77" width="4.37" height="4.35" fill="#d13903"/>
<rect x="139.22" y="426.77" width="4.37" height="4.35" fill="#cb3202"/>
<rect x="142.99" y="426.77" width="4.37" height="4.35" fill="#d84104"/>
<rect x="146.76" y="426.77" width="4.37" height="4.35" fill="#cd3402"/>
<rect x="150.52" y="426.77" width="4.37" height="4.35" fill="#c93002"/>
<rect x="154.29" y="426.77" width="4.37" height="4.35" fill="#cf3603"/>
<rect x="158.06" y="426.77" width="4.37" height="4.35" fill="#b91e00"/>
<rect x="161.82" y="426.77" width="4.37" height="4.35" fill="#c62c02"/>
<rect x="165.59" y="426.77" width="4.37" height="4.35" fill="#c02501"/>
<rect x="169.36" y="426.77" width="4.37" height="4.35" fill="#c52b01"/>
<rect x="173.12" y="426.77" width="4.37" height="4.35" fill="#b71d00"/>
<rect x="176.89" y="426.77" width="4.37" height="4.35" fill="#c22801"/>
<rect x="180.66" y="426.77" width="4.37" height="4.35" fill="#bf2501"/>
<rect x="184.42" y="426.77" width="4.37" height="4.35" fill="#d84104"/>
<rect x="188.19" y="426.77" width="4.37" height="4.35" fill="#da4404"/>
<rect x="191.96" y="426.77" width="4.37" height="4.35" fill="#d84104"/>
<rect x="195.72" y="426.77" width="2.58" height="4.35" fill="#e14c06"/>
<rect x="124.16" y="430.53" width="4.37" height="4.35" fill="#faaf6e"/>
<rect x="127.92" y="430.53" width="4.37" height="4.35" fill="#ea6010"/>
<rect x="131.69" y="430.53" width="4.37" height="4.35" fill="#ec6613"/>
<rect x="135.46" y="430.53" width="4.37" height="4.35" fill="#c22801"/>
<rect x="139.22" y="430.53" width="4.37" height="4.35" fill="#c02601"/>
<rect x="142.99" y="430.53" width="4.37" height="4.35" fill="#c52b01"/>
<rect x="146.76" y="430.53" width="4.37" height="4.35" fill="#d33c03"/>
<rect x="150.52" y="430.53" width="4.37" height="4.35" fill="#c82f02"/>
<rect x="154.29" y="430.53" width="4.37" height="4.35" fill="#c82f02"/>
<rect x="158.06" y="430.53" width="4.37" height="4.35" fill="#cf3603"/>
<rect x="161.82" y="430.53" width="4.37" height="4.35" fill="#be2401"/>
<rect x="165.59" y="430.53" width="4.37" height="4.35" fill="#c12701"/>
<rect x="169.36" y="430.53" width="4.37" height="4.35" fill="#c62d02"/>
<rect x="173.12" y="430.53" width="4.37" height="4.35" fill="#c32901"/>
<rect x="176.89" y="430.53" width="4.37" height="4.35" fill="#cc3302"/>
<rect x="180.66" y="430.53" width="4.37" height="4.35" fill="#ca3102"/>
<rect x="184.42" y="430.53" width="4.37" height="4.35" fill="#d43c03"/>
<rect x="188.19" y="430.53" width="4.37" height="4.35" fill="#cc3302"/>
<rect x="191.96" y="430.53" width="4.37" height="4.35" fill="#cc3302"/>
<rect x="195.72" y="430.53" width="2.58" height="4.35" fill="#cd3503"/>
<rect x="112.86" y="434.28" width="4.37" height="4.35" fill="#fbc695"/>
<rect x="116.62" y="434.28" width="4.37" height="4.35" fill="#fbc491"/>
<rect x="120.39" y="434.28" width="4.37" height="4.35" fill="#fccda1"/>
<rect x="124.16" y="434.28" width="4.37" height="4.35" fill="#f3781c"/>
<rect x="127.92" y="434.28" width="4.37" height="4.35" fill="#f68226"/>
<rect x="131.69" y="434.28" width="4.37" height="4.35" fill="#f57d1f"/>
<rect x="135.46" y="434.28" width="4.37" height="4.35" fill="#b91e00"/>
<rect x="139.22" y="434.28" width="4.37" height="4.35" fill="#bb2000"/>
<rect x="142.99" y="434.28" width="4.37" height="4.35" fill="#c22801"/>
<rect x="146.76" y="434.28" width="4.37" height="4.35" fill="#c93002"/>
<rect x="150.52" y="434.28" width="4.37" height="4.35" fill="#ce3603"/>
<rect x="154.29" y="434.28" width="4.37" height="4.35" fill="#cf3703"/>
<rect x="158.06" y="434.28" width="4.37" height="4.35" fill="#da4304"/>
<rect x="161.82" y="434.28" width="4.37" height="4.35" fill="#d03803"/>
<rect x="165.59" y="434.28" width="4.37" height="4.35" fill="#d63e04"/>
<rect x="169.36" y="434.28" width="4.37" height="4.35" fill="#ce3503"/>
<rect x="173.12" y="434.28" width="4.37" height="4.35" fill="#d23a03"/>
<rect x="176.89" y="434.28" width="4.37" height="4.35" fill="#cb3202"/>
<rect x="180.66" y="434.28" width="4.37" height="4.35" fill="#ce3603"/>
<rect x="184.42" y="434.28" width="4.37" height="4.35" fill="#cb3302"/>
<rect x="188.19" y="434.28" width="4.37" height="4.35" fill="#d43c03"/>
<rect x="191.96" y="434.28" width="4.37" height="4.35" fill="#ce3603"/>
<rect x="195.72" y="434.28" width="2.58" height="4.35" fill="#cd3402"/>
<rect x="112.86" y="438.03" width="4.37" height="4.35" fill="#fdd9b6"/>
<rect x="116.62" y="438.03" width="4.37" height="4.35" fill="#fab274"/>
<rect x="120.39" y="438.03" width="4.37" height="4.35" fill="#f9a761"/>
<rect x="124.16" y="438.03" width="4.37" height="4.35" fill="#e85d0e"/>
<rect x="127.92" y="438.03" width="4.37" height="4.35" fill="#ea6110"/>
<rect x="131.69" y="438.03" width="4.37" height="4.35" fill="#e75b0d"/>
<rect x="135.46" y="438.03" width="4.37" height="4.35" fill="#e75b0d"/>
<rect x="139.22" y="438.03" width="4.37" height="4.35" fill="#d13903"/>
<rect x="142.99" y="438.03" width="4.37" height="4.35" fill="#d03803"/>
<rect x="146.76" y="438.03" width="4.37" height="4.35" fill="#d74004"/>
<rect x="150.52" y="438.03" width="4.37" height="4.35" fill="#cb3202"/>
<rect x="154.29" y="438.03" width="4.37" height="4.35" fill="#c93002"/>
<rect x="158.06" y="438.03" width="4.37" height="4.35" fill="#d13903"/>
<rect x="161.82" y="438.03" width="4.37" height="4.35" fill="#cd3503"/>
<rect x="165.59" y="438.03" width="4.37" height="4.35" fill="#cd3402"/>
<rect x="169.36" y="438.03" width="4.37" height="4.35" fill="#cd3402"/>
<rect x="173.12" y="438.03" width="4.37" height="4.35" fill="#d74004"/>
<rect x="176.89" y="438.03" width="4.37" height="4.35" fill="#cc3302"/>
<rect x="180.66" y="438.03" width="4.37" height="4.35" fill="#cf3703"/>
<rect x="184.42" y="438.03" width="4.37" height="4.35" fill="#ce3603"/>
<rect x="188.19" y="438.03" width="4.37" height="4.35" fill="#d23b03"/>
<rect x="191.96" y="438.03" width="4.37" height="4.35" fill="#cf3603"/>
<rect x="195.72" y="438.03" width="2.58" height="4.35" fill="#cc3302"/>
<rect x="112.86" y="441.79" width="4.37" height="4.35" fill="#fddebe"/>
<rect x="116.62" y="441.79" width="4.37" height="4.35" fill="#f79340"/>
<rect x="120.39" y="441.79" width="4.37" height="4.35" fill="#f9a35a"/>
<rect x="124.16" y="441.79" width="4.37" height="4.35" fill="#ef6e16"/>
<rect x="127.92" y="441.79" width="4.37" height="4.35" fill="#ec6713"/>
<rect x="131.69" y="441.79" width="4.37" height="4.35" fill="#ea6211"/>
<rect x="135.46" y="441.79" width="4.37" height="4.35" fill="#d63f04"/>
<rect x="139.22" y="441.79" width="4.37" height="4.35" fill="#ce3503"/>
<rect x="142.99" y="441.79" width="4.37" height="4.35" fill="#cf3603"/>
<rect x="146.76" y="441.79" width="4.37" height="4.35" fill="#da4304"/>
<rect x="150.52" y="441.79" width="4.37" height="4.35" fill="#d23a03"/>
<rect x="154.29" y="441.79" width="4.37" height="4.35" fill="#d63f04"/>
<rect x="158.06" y="441.79" width="4.37" height="4.35" fill="#d94204"/>
<rect x="161.82" y="441.79" width="4.37" height="4.35" fill="#d84104"/>
<rect x="165.59" y="441.79" width="4.37" height="4.35" fill="#d43d03"/>
<rect x="169.36" y="441.79" width="4.37" height="4.35" fill="#d74004"/>
<rect x="173.12" y="441.79" width="4.37" height="4.35" fill="#d73f04"/>
<rect x="176.89" y="441.79" width="4.37" height="4.35" fill="#da4304"/>
<rect x="180.66" y="441.79" width="4.37" height="4.35" fill="#d23a03"/>
<rect x="184.42" y="441.79" width="4.37" height="4.35" fill="#d33c03"/>
<rect x="188.19" y="441.79" width="4.37" height="4.35" fill="#cf3703"/>
<rect x="191.96" y="441.79" width="4.37" height="4.35" fill="#cf3703"/>
<rect x="195.72" y="441.79" width="2.58" height="4.35" fill="#d63f04"/>
<rect x="112.86" y="445.54" width="4.37" height="4.35" fill="#fcd8b3"/>
<rect x="116.62" y="445.54" width="4.37" height="4.35" fill="#fbbb82"/>
<rect x="120.39" y="445.54" width="4.37" height="4.35" fill="#f57f22"/>
<rect x="124.16" y="445.54" width="4.37" height="4.35" fill="#f68226"/>
<rect x="127.92" y="445.54" width="4.37" height="4.35" fill="#f57f21"/>
<rect x="131.69" y="445.54" width="4.37" height="4.35" fill="#e55409"/>
<rect x="135.46" y="445.54" width="4.37" height="4.35" fill="#db4404"/>
<rect x="139.22" y="445.54" width="4.37" height="4.35" fill="#e24e06"/>
<rect x="142.99" y="445.54" width="4.37" height="4.35" fill="#e5560a"/>
<rect x="146.76" y="445.54" width="4.37" height="4.35" fill="#df4905"/>
<rect x="150.52" y="445.54" width="4.37" height="4.35" fill="#d94204"/>
<rect x="154.29" y="445.54" width="4.37" height="4.35" fill="#d03803"/>
<rect x="158.06" y="445.54" width="4.37" height="4.35" fill="#d43c03"/>
<rect x="161.82" y="445.54" width="4.37" height="4.35" fill="#cf3703"/>
<rect x="165.59" y="445.54" width="4.37" height="4.35" fill="#b41c00"/>
<rect x="169.36" y="445.54" width="4.37" height="4.35" fill="#b81e00"/>
<rect x="173.12" y="445.54" width="4.37" height="4.35" fill="#c02601"/>
<rect x="176.89" y="445.54" width="4.37" height="4.35" fill="#b81e00"/>
<rect x="180.66" y="445.54" width="4.37" height="4.35" fill="#bc2100"/>
<rect x="184.42" y="445.54" width="4.37" height="4.35" fill="#c12701"/>
<rect x="188.19" y="445.54" width="4.37" height="4.35" fill="#c52c02"/>
<rect x="191.96" y="445.54" width="4.37" height="4.35" fill="#bd2200"/>
<rect x="195.72" y="445.54" width="2.58" height="4.35" fill="#bd2301"/>
<rect x="116.62" y="449.29" width="4.37" height="4.35" fill="#fbbf89"/>
<rect x="120.39" y="449.29" width="4.37" height="4.35" fill="#f17219"/>
<rect x="124.16" y="449.29" width="4.37" height="4.35" fill="#f47a1d"/>
<rect x="127.92" y="449.29" width="4.37" height="4.35" fill="#f58024"/>
<rect x="131.69" y="449.29" width="4.37" height="4.35" fill="#f17419"/>
<rect x="135.46" y="449.29" width="4.37" height="4.35" fill="#f07118"/>
<rect x="139.22" y="449.29" width="4.37" height="4.35" fill="#ef6f17"/>
<rect x="142.99" y="449.29" width="4.37" height="4.35" fill="#eb6412"/>
<rect x="146.76" y="449.29" width="4.37" height="4.35" fill="#df4905"/>
<rect x="150.52" y="449.29" width="4.37" height="4.35" fill="#e45309"/>
<rect x="154.29" y="449.29" width="4.37" height="4.35" fill="#df4805"/>
<rect x="158.06" y="449.29" width="4.37" height="4.35" fill="#da4304"/>
<rect x="161.82" y="449.29" width="4.37" height="4.35" fill="#c12701"/>
<rect x="165.59" y="449.29" width="4.37" height="4.35" fill="#c02501"/>
<rect x="169.36" y="449.29" width="4.37" height="4.35" fill="#ac1900"/>
<rect x="173.12" y="449.29" width="4.37" height="4.35" fill="#aa1900"/>
<rect x="176.89" y="449.29" width="4.37" height="4.35" fill="#961100"/>
<rect x="180.66" y="449.29" width="4.37" height="4.35" fill="#a71800"/>
<rect x="184.42" y="449.29" width="4.37" height="4.35" fill="#961100"/>
<rect x="188.19" y="449.29" width="4.37" height="4.35" fill="#981200"/>
<rect x="191.96" y="449.29" width="4.37" height="4.35" fill="#a11500"/>
<rect x="195.72" y="449.29" width="2.58" height="4.35" fill="#ab1900"/>
<rect x="120.39" y="453.05" width="4.37" height="4.35" fill="#f9a45c"/>
<rect x="124.16" y="453.05" width="4.37" height="4.35" fill="#f57d1e"/>
<rect x="127.92" y="453.05" width="4.37" height="4.35" fill="#f57f21"/>
<rect x="131.69" y="453.05" width="4.37" height="4.35" fill="#f58125"/>
<rect x="135.46" y="453.05" width="4.37" height="4.35" fill="#f07218"/>
<rect x="139.22" y="453.05" width="4.37" height="4.35" fill="#e14b05"/>
<rect x="142.99" y="453.05" width="4.37" height="4.35" fill="#e35007"/>
<rect x="146.76" y="453.05" width="4.37" height="4.35" fill="#e14c05"/>
<rect x="150.52" y="453.05" width="4.37" height="4.35" fill="#d84104"/>
<rect x="154.29" y="453.05" width="4.37" height="4.35" fill="#cf3603"/>
<rect x="158.06" y="453.05" width="4.37" height="4.35" fill="#d23a03"/>
<rect x="161.82" y="453.05" width="4.37" height="4.35" fill="#d53d03"/>
<rect x="165.59" y="453.05" width="4.37" height="4.35" fill="#b91e00"/>
<rect x="169.36" y="453.05" width="4.37" height="4.35" fill="#b81e00"/>
<rect x="173.12" y="453.05" width="4.37" height="4.35" fill="#c72e02"/>
<rect x="176.89" y="453.05" width="4.37" height="4.35" fill="#a31600"/>
<rect x="180.66" y="453.05" width="4.37" height="4.35" fill="#ab1900"/>
<rect x="184.42" y="453.05" width="4.37" height="4.35" fill="#971200"/>
<rect x="188.19" y="453.05" width="4.37" height="4.35" fill="#9b1300"/>
<rect x="191.96" y="453.05" width="4.37" height="4.35" fill="#750800"/>
<rect x="195.72" y="453.05" width="2.58" height="4.35" fill="#740800"/>
<rect x="120.39" y="456.80" width="4.37" height="4.35" fill="#fde6cd"/>
<rect x="124.16" y="456.80" width="4.37" height="4.35" fill="#f9a45c"/>
<rect x="127.92" y="456.80" width="4.37" height="4.35" fill="#f58226"/>
<rect x="131.69" y="456.80" width="4.37" height="4.35" fill="#f47a1d"/>
<rect x="135.46" y="456.80" width="4.37" height="4.35" fill="#f8984a"/>
<rect x="139.22" y="456.80" width="4.37" height="4.35" fill="#ea6211"/>
<rect x="142.99" y="456.80" width="4.37" height="4.35" fill="#eb6311"/>
<rect x="146.76" y="456.80" width="4.37" height="4.35" fill="#e9600f"/>
<rect x="150.52" y="456.80" width="4.37" height="4.35" fill="#d84104"/>
<rect x="154.29" y="456.80" width="4.37" height="4.35" fill="#cc3402"/>
<rect x="158.06" y="456.80" width="4.37" height="4.35" fill="#d53d03"/>
<rect x="161.82" y="456.80" width="4.37" height="4.35" fill="#d03803"/>
<rect x="165.59" y="456.80" width="4.37" height="4.35" fill="#d43c03"/>
<rect x="169.36" y="456.80" width="4.37" height="4.35" fill="#d53d03"/>
<rect x="173.12" y="456.80" width="4.37" height="4.35" fill="#d03803"/>
<rect x="176.89" y="456.80" width="4.37" height="4.35" fill="#a51700"/>
<rect x="180.66" y="456.80" width="4.37" height="4.35" fill="#a81800"/>
<rect x="184.42" y="456.80" width="4.37" height="4.35" fill="#9d1400"/>
<rect x="188.19" y="456.80" width="4.37" height="4.35" fill="#a11500"/>
<rect x="191.96" y="456.80" width="4.37" height="4.35" fill="#5b0400"/>
<rect x="195.72" y="456.80" width="2.58" height="4.35" fill="#520300"/>
<rect x="124.16" y="460.55" width="4.37" height="4.35" fill="#fde2c4"/>
<rect x="127.92" y="460.55" width="4.37" height="4.35" fill="#f9a55e"/>
<rect x="131.69" y="460.55" width="4.37" height="4.35" fill="#f78f3a"/>
<rect x="135.46" y="460.55" width="4.37" height="4.35" fill="#faae6c"/>
<rect x="139.22" y="460.55" width="4.37" height="4.35" fill="#f68830"/>
<rect x="142.99" y="460.55" width="4.37" height="4.35" fill="#f2771b"/>
<rect x="146.76" y="460.55" width="4.37" height="4.35" fill="#f57f21"/>
<rect x="150.52" y="460.55" width="4.37" height="4.35" fill="#d03703"/>
<rect x="154.29" y="460.55" width="4.37" height="4.35" fill="#cd3503"/>
<rect x="158.06" y="460.55" width="4.37" height="4.35" fill="#cf3603"/>
<rect x="161.82" y="460.55" width="4.37" height="4.35" fill="#d13903"/>
<rect x="165.59" y="460.55" width="4.37" height="4.35" fill="#c93002"/>
<rect x="169.36" y="460.55" width="4.37" height="4.35" fill="#d33b03"/>
<rect x="173.12" y="460.55" width="4.37" height="4.35" fill="#d33b03"/>
<rect x="176.89" y="460.55" width="4.37" height="4.35" fill="#b71d00"/>
<rect x="180.66" y="460.55" width="4.37" height="4.35" fill="#c42a01"/>
<rect x="184.42" y="460.55" width="4.37" height="4.35" fill="#c22801"/>
<rect x="188.19" y="460.55" width="4.37" height="4.35" fill="#5d0500"/>
<rect x="191.96" y="460.55" width="4.37" height="4.35" fill="#7c0900"/>
<rect x="195.72" y="460.55" width="2.58" height="4.35" fill="#5d0500"/>
<rect x="127.92" y="464.31" width="4.37" height="4.35" fill="#fbc594"/>
<rect x="131.69" y="464.31" width="4.37" height="4.35" fill="#fccb9e"/>
<rect x="135.46" y="464.31" width="4.37" height="4.35" fill="#fde4c9"/>
<rect x="139.22" y="464.31" width="4.37" height="4.35" fill="#f2761b"/>
<rect x="142.99" y="464.31" width="4.37" height="4.35" fill="#f17319"/>
<rect x="146.76" y="464.31" width="4.37" height="4.35" fill="#f6852b"/>
<rect x="150.52" y="464.31" width="4.37" height="4.35" fill="#f57e1f"/>
<rect x="154.29" y="464.31" width="4.37" height="4.35" fill="#d03803"/>
<rect x="158.06" y="464.31" width="4.37" height="4.35" fill="#d13903"/>
<rect x="161.82" y="464.31" width="4.37" height="4.35" fill="#d43d03"/>
<rect x="165.59" y="464.31" width="4.37" height="4.35" fill="#d74004"/>
<rect x="169.36" y="464.31" width="4.37" height="4.35" fill="#cf3703"/>
<rect x="173.12" y="464.31" width="4.37" height="4.35" fill="#b81e00"/>
<rect x="176.89" y="464.31" width="4.37" height="4.35" fill="#c62d02"/>
<rect x="180.66" y="464.31" width="4.37" height="4.35" fill="#c32a01"/>
<rect x="184.42" y="464.31" width="4.37" height="4.35" fill="#b81e00"/>
<rect x="188.19" y="464.31" width="4.37" height="4.35" fill="#5f0500"/>
<rect x="191.96" y="464.31" width="4.37" height="4.35" fill="#640600"/>
<rect x="195.72" y="464.31" width="2.58" height="4.35" fill="#7e0900"/>
<rect x="131.69" y="468.06" width="4.37" height="4.35" fill="#fddcba"/>
<rect x="135.46" y="468.06" width="4.37" height="4.35" fill="#fcd6b0"/>
<rect x="139.22" y="468.06" width="4.37" height="4.35" fill="#f78c36"/>
<rect x="142.99" y="468.06" width="4.37" height="4.35" fill="#f79341"/>
<rect x="146.76" y="468.06" width="4.37" height="4.35" fill="#f9a25a"/>
<rect x="150.52" y="468.06" width="4.37" height="4.35" fill="#db4404"/>
<rect x="154.29" y="468.06" width="4.37" height="4.35" fill="#e45208"/>
<rect x="158.06" y="468.06" width="4.37" height="4.35" fill="#de4805"/>
<rect x="161.82" y="468.06" width="4.37" height="4.35" fill="#d94204"/>
<rect x="165.59" y="468.06" width="4.37" height="4.35" fill="#dd4705"/>
<rect x="169.36" y="468.06" width="4.37" height="4.35" fill="#e45409"/>
<rect x="173.12" y="468.06" width="4.37" height="4.35" fill="#c22801"/>
<rect x="176.89" y="468.06" width="4.37" height="4.35" fill="#b51d00"/>
<rect x="180.66" y="468.06" width="4.37" height="4.35" fill="#c52b01"/>
<rect x="184.42" y="468.06" width="4.37" height="4.35" fill="#bc2200"/>
<rect x="188.19" y="468.06" width="4.37" height="4.35" fill="#c02601"/>
<rect x="191.96" y="468.06" width="4.37" height="4.35" fill="#900f00"/>
<rect x="195.72" y="468.06" width="2.58" height="4.35" fill="#830a00"/>
<rect x="135.46" y="471.81" width="4.37" height="4.35" fill="#fde7d0"/>
<rect x="139.22" y="471.81" width="4.37" height="4.35" fill="#fde6ce"/>
<rect x="142.99" y="471.81" width="4.37" height="4.35" fill="#f89a4d"/>
<rect x="146.76" y="471.81" width="4.37" height="4.35" fill="#f9a259"/>
<rect x="150.52" y="471.81" width="4.37" height="4.35" fill="#f9a259"/>
<rect x="154.29" y="471.81" width="4.37" height="4.35" fill="#e04905"/>
<rect x="158.06" y="471.81" width="4.37" height="4.35" fill="#dc4604"/>
<rect x="161.82" y="471.81" width="4.37" height="4.35" fill="#da4304"/>
<rect x="165.59" y="471.81" width="4.37" height="4.35" fill="#e45409"/>
<rect x="169.36" y="471.81" width="4.37" height="4.35" fill="#e24d06"/>
<rect x="173.12" y="471.81" width="4.37" height="4.35" fill="#c22801"/>
<rect x="176.89" y="471.81" width="4.37" height="4.35" fill="#bc2200"/>
<rect x="180.66" y="471.81" width="4.37" height="4.35" fill="#bf2401"/>
<rect x="184.42" y="471.81" width="4.37" height="4.35" fill="#b41c00"/>
<rect x="188.19" y="471.81" width="4.37" height="4.35" fill="#c12701"/>
<rect x="191.96" y="471.81" width="4.37" height="4.35" fill="#c72d02"/>
<rect x="195.72" y="471.81" width="2.58" height="4.35" fill="#bb2000"/>
<rect x="142.99" y="475.57" width="4.37" height="4.35" fill="#fcd2a9"/>
<rect x="146.76" y="475.57" width="4.37" height="4.35" fill="#fbc796"/>
<rect x="150.52" y="475.57" width="4.37" height="4.35" fill="#f57d1e"/>
<rect x="154.29" y="475.57" width="4.37" height="4.35" fill="#f17319"/>
<rect x="158.06" y="475.57" width="4.37" height="4.35" fill="#f47c1d"/>
<rect x="161.82" y="475.57" width="4.37" height="4.35" fill="#df4805"/>
<rect x="165.59" y="475.57" width="4.37" height="4.35" fill="#e35108"/>
<rect x="169.36" y="475.57" width="4.37" height="4.35" fill="#e04a05"/>
<rect x="173.12" y="475.57" width="4.37" height="4.35" fill="#e35108"/>
<rect x="176.89" y="475.57" width="4.37" height="4.35" fill="#cc3402"/>
<rect x="180.66" y="475.57" width="4.37" height="4.35" fill="#d13903"/>
<rect x="184.42" y="475.57" width="4.37" height="4.35" fill="#d84104"/>
<rect x="188.19" y="475.57" width="4.37" height="4.35" fill="#d63f04"/>
<rect x="191.96" y="475.57" width="4.37" height="4.35" fill="#d33c03"/>
<rect x="195.72" y="475.57" width="2.58" height="4.35" fill="#cd3402"/>
<rect x="146.76" y="479.32" width="4.37" height="4.35" fill="#fcd1a8"/>
<rect x="150.52" y="479.32" width="4.37" height="4.35" fill="#fbc593"/>
<rect x="154.29" y="479.32" width="4.37" height="4.35" fill="#f4791c"/>
<rect x="158.06" y="479.32" width="4.37" height="4.35" fill="#f6872d"/>
<rect x="161.82" y="479.32" width="4.37" height="4.35" fill="#f3791c"/>
<rect x="165.59" y="479.32" width="4.37" height="4.35" fill="#e5550a"/>
<rect x="169.36" y="479.32" width="4.37" height="4.35" fill="#e55409"/>
<rect x="173.12" y="479.32" width="4.37" height="4.35" fill="#df4905"/>
<rect x="176.89" y="479.32" width="4.37" height="4.35" fill="#e35108"/>
<rect x="180.66" y="479.32" width="4.37" height="4.35" fill="#da4304"/>
<rect x="184.42" y="479.32" width="4.37" height="4.35" fill="#e14b05"/>
<rect x="188.19" y="479.32" width="4.37" height="4.35" fill="#e34f07"/>
<rect x="191.96" y="479.32" width="4.37" height="4.35" fill="#db4504"/>
<rect x="195.72" y="479.32" width="2.58" height="4.35" fill="#e5560a"/>
<rect x="150.52" y="483.07" width="4.37" height="4.35" fill="#fddcba"/>
<rect x="154.29" y="483.07" width="4.37" height="4.35" fill="#fde7cf"/>
<rect x="158.06" y="483.07" width="4.37" height="4.35" fill="#f8a056"/>
<rect x="161.82" y="483.07" width="4.37" height="4.35" fill="#f78d38"/>
<rect x="165.59" y="483.07" width="4.37" height="4.35" fill="#f79342"/>
<rect x="169.36" y="483.07" width="4.37" height="4.35" fill="#ee6c16"/>
<rect x="173.12" y="483.07" width="4.37" height="4.35" fill="#ef6f17"/>
<rect x="176.89" y="483.07" width="4.37" height="4.35" fill="#e75b0d"/>
<rect x="180.66" y="483.07" width="4.37" height="4.35" fill="#ea6210"/>
<rect x="184.42" y="483.07" width="4.37" height="4.35" fill="#e95e0f"/>
<rect x="188.19" y="483.07" width="4.37" height="4.35" fill="#ef6e17"/>
<rect x="191.96" y="483.07" width="4.37" height="4.35" fill="#eb6311"/>
<rect x="195.72" y="483.07" width="2.58" height="4.35" fill="#ed6914"/>
<rect x="154.29" y="486.83" width="4.37" height="4.35" fill="#fcd0a6"/>
<rect x="158.06" y="486.83" width="4.37" height="4.35" fill="#fccea2"/>
<rect x="161.82" y="486.83" width="4.37" height="4.35" fill="#fbc797"/>
<rect x="165.59" y="486.83" width="4.37" height="4.35" fill="#f89b4e"/>
<rect x="169.36" y="486.83" width="4.37" height="4.35" fill="#f89a4d"/>
<rect x="173.12" y="486.83" width="4.37" height="4.35" fill="#f9a056"/>
<rect x="176.89" y="486.83" width="4.37" height="4.35" fill="#f7903c"/>
<rect x="180.66" y="486.83" width="4.37" height="4.35" fill="#f47a1c"/>
<rect x="184.42" y="486.83" width="4.37" height="4.35" fill="#f2761a"/>
<rect x="188.19" y="486.83" width="4.37" height="4.35" fill="#f57f20"/>
<rect x="191.96" y="486.83" width="4.37" height="4.35" fill="#f2751a"/>
<rect x="195.72" y="486.83" width="2.58" height="4.35" fill="#f57d1e"/>
<rect x="161.82" y="490.58" width="4.37" height="4.35" fill="#fddfbf"/>
<rect x="165.59" y="490.58" width="4.37" height="4.35" fill="#fddfc0"/>
<rect x="169.36" y="490.58" width="4.37" height="4.35" fill="#fddbb9"/>
<rect x="173.12" y="490.58" width="4.37" height="4.35" fill="#fab172"/>
<rect x="176.89" y="490.58" width="4.37" height="4.35" fill="#fbb87e"/>
<rect x="180.66" y="490.58" width="4.37" height="4.35" fill="#fbba81"/>
<rect x="184.42" y="490.58" width="4.37" height="4.35" fill="#fab67a"/>
<rect x="188.19" y="490.58" width="4.37" height="4.35" fill="#f9a25a"/>
<rect x="191.96" y="490.58" width="4.37" height="4.35" fill="#f78f3a"/>
<rect x="195.72" y="490.58" width="2.58" height="4.35" fill="#f89849"/>
<rect x="169.36" y="494.33" width="4.37" height="4.35" fill="#fddbb9"/>
<rect x="173.12" y="494.33" width="4.37" height="4.35" fill="#fde8d1"/>
<rect x="176.89" y="494.33" width="4.37" height="4.35" fill="#fde1c4"/>
<rect x="180.66" y="494.33" width="4.37" height="4.35" fill="#fbc18c"/>
<rect x="184.42" y="494.33" width="4.37" height="4.35" fill="#fbc797"/>
<rect x="188.19" y="494.33" width="4.37" height="4.35" fill="#fccb9e"/>
<rect x="191.96" y="494.33" width="4.37" height="4.35" fill="#fcca9d"/>
<rect x="195.72" y="494.33" width="2.58" height="4.35" fill="#fcd3ab"/>
<rect x="180.66" y="498.09" width="4.37" height="4.35" fill="#fde6cd"/>
<rect x="184.42" y="498.09" width="4.37" height="4.35" fill="#fde6cd"/>
<rect x="188.19" y="498.09" width="4.37" height="4.35" fill="#fde3c7"/>
<rect x="191.96" y="498.09" width="4.37" height="4.35" fill="#fde3c6"/>
<rect x="195.72" y="498.09" width="2.58" height="4.35" fill="#fcd8b4"/>
<path d="M141.7 456.7C142.0 452.8 143.6 449.6 146.7 446.7C149.8 443.8 155.6 441.1 160.0 439.2C164.4 437.2 169.1 436.1 173.3 435.0C177.5 433.9 180.6 433.7 185.0 432.5C189.4 431.3 195.0 430.1 200.0 428.0C205.0 425.9 209.7 423.1 215.0 420.0C220.3 416.9 227.5 411.4 231.7 409.2C235.9 406.9 237.3 406.8 240.0 406.5C242.7 406.2 245.8 406.4 248.0 407.5C250.2 408.6 252.0 410.9 253.0 413.0C254.0 415.1 254.1 417.2 254.2 420.0C254.2 422.8 254.3 426.4 253.3 430.0C252.3 433.6 250.5 437.5 248.3 441.7C246.1 445.9 243.1 450.3 240.0 455.0C236.9 459.7 233.3 464.7 230.0 470.0C226.7 475.3 223.0 482.5 220.0 487.0C217.0 491.5 214.2 494.8 212.0 497.0C209.8 499.2 209.2 499.2 206.7 500.0C204.1 500.8 200.6 501.7 196.7 501.7C192.8 501.7 188.0 501.4 183.3 500.0C178.6 498.6 173.0 496.1 168.3 493.3C163.6 490.5 158.9 487.2 155.0 483.3C151.1 479.4 147.2 474.4 145.0 470.0C142.8 465.6 141.4 460.6 141.7 456.7Z" fill="none" stroke="#1c4aa8" stroke-width="2.2" stroke-linejoin="round"/>
<path d="M150.0 461.7C150.0 457.8 151.9 454.5 155.0 451.7C158.1 448.9 163.6 446.7 168.3 445.0C173.0 443.3 178.4 443.0 183.3 441.7C188.2 440.4 193.2 439.1 198.0 437.0C202.8 434.9 207.3 431.8 212.0 429.0C216.7 426.2 222.0 422.2 226.0 420.0C230.0 417.8 233.2 416.2 236.0 415.5C238.8 414.8 240.7 414.4 242.5 415.8C244.3 417.2 246.1 421.4 246.7 424.2C247.2 427.0 246.9 429.3 245.8 432.5C244.7 435.7 242.3 439.2 240.0 443.3C237.7 447.4 235.0 452.1 232.0 457.0C229.0 461.9 225.0 468.0 222.0 473.0C219.0 478.0 216.3 483.6 214.0 487.0C211.7 490.4 210.9 492.0 208.3 493.3C205.7 494.6 202.7 495.3 198.3 495.0C193.9 494.7 187.0 493.4 181.7 491.7C176.4 490.0 171.1 487.8 166.7 485.0C162.2 482.2 157.8 478.9 155.0 475.0C152.2 471.1 150.0 465.6 150.0 461.7Z" fill="none" stroke="#1c4aa8" stroke-width="2.2" stroke-linejoin="round"/>
<path d="M159.2 463.3C159.2 460.0 160.4 457.4 163.3 455.0C166.2 452.6 172.0 450.6 176.7 449.2C181.4 447.8 187.0 447.4 191.7 446.7C196.4 446.0 200.6 445.2 205.0 445.0C209.4 444.8 215.1 444.8 218.0 445.5C220.9 446.2 222.0 447.2 222.5 449.0C223.0 450.8 222.1 453.2 221.0 456.0C219.9 458.8 217.8 462.3 216.0 466.0C214.2 469.7 212.2 474.5 210.0 478.0C207.8 481.5 206.1 485.3 203.0 487.0C199.9 488.7 196.4 488.9 191.7 488.3C187.0 487.7 179.7 485.5 175.0 483.3C170.3 481.1 165.9 478.3 163.3 475.0C160.7 471.7 159.2 466.6 159.2 463.3Z" fill="none" stroke="#1c4aa8" stroke-width="2.2" stroke-linejoin="round"/>
<path d="M169.2 465.0C169.8 462.2 171.8 458.6 175.0 456.7C178.2 454.8 183.9 453.6 188.3 453.3C192.8 453.0 198.6 453.6 201.7 455.0C204.8 456.4 206.4 458.9 206.7 461.7C207.0 464.5 205.5 469.2 203.3 471.7C201.1 474.2 197.2 475.6 193.3 476.7C189.4 477.8 183.6 478.9 180.0 478.3C176.4 477.7 173.5 475.5 171.7 473.3C169.9 471.1 168.6 467.8 169.2 465.0Z" fill="none" stroke="#1c4aa8" stroke-width="2.2" stroke-linejoin="round"/>
<path d="M171.7 461.7C171.4 456.7 172.8 449.8 175.0 445.0C177.2 440.2 181.5 436.4 185.0 433.0C188.5 429.6 191.7 427.4 195.8 424.7C199.9 422.0 204.6 419.6 209.5 417.0C214.4 414.4 219.8 411.5 225.0 409.2C230.2 406.9 235.4 404.8 240.6 403.3C245.8 401.8 251.6 400.5 256.1 400.4C260.6 400.2 264.6 400.6 267.8 402.4C271.1 404.2 274.0 407.4 275.6 411.1C277.2 414.8 278.1 419.5 277.5 424.7C276.9 429.9 274.6 436.8 271.7 442.3C268.8 447.8 264.5 453.3 260.0 457.8C255.5 462.3 249.7 465.9 244.5 469.5C239.3 473.1 234.1 476.6 228.9 479.2C223.7 481.8 218.1 483.6 213.3 485.1C208.5 486.6 204.2 488.0 200.0 488.0C195.8 488.0 192.2 487.2 188.3 485.0C184.4 482.8 179.5 478.9 176.7 475.0C173.9 471.1 172.0 466.7 171.7 461.7Z" fill="none" stroke="#000" stroke-width="2.6" stroke-linejoin="round"/>
<path d="M181.7 456.7C182.5 452.3 185.6 445.6 188.3 441.7C191.0 437.8 194.5 436.5 198.0 433.5C201.5 430.5 205.3 426.7 209.5 423.8C213.7 420.9 218.2 418.3 223.1 416.0C227.9 413.7 233.4 411.3 238.6 410.2C243.8 409.1 250.0 409.0 254.2 409.2C258.4 409.4 261.3 409.5 263.9 411.1C266.5 412.7 268.8 415.3 269.8 418.9C270.8 422.5 271.1 427.6 269.8 432.5C268.5 437.4 265.6 443.2 262.0 448.1C258.4 453.0 253.3 457.8 248.4 461.7C243.5 465.6 238.0 468.8 232.8 471.4C227.6 474.0 222.4 476.0 217.2 477.3C212.0 478.6 205.7 479.3 201.7 479.2C197.7 479.1 196.4 478.5 193.3 476.7C190.2 474.9 185.2 471.6 183.3 468.3C181.4 465.0 180.9 461.1 181.7 456.7Z" fill="none" stroke="#000" stroke-width="2.6" stroke-linejoin="round"/>
<path d="M196.7 455.0C197.1 451.2 198.9 445.1 201.7 441.0C204.5 436.9 208.8 433.8 213.3 430.6C217.8 427.4 223.7 423.8 228.9 421.8C234.1 419.9 240.3 419.0 244.5 418.9C248.7 418.8 251.8 419.3 254.2 420.9C256.6 422.5 258.6 425.4 259.1 428.6C259.6 431.8 258.9 436.4 257.1 440.3C255.3 444.2 252.1 448.4 248.4 452.0C244.7 455.6 239.6 459.1 234.7 461.7C229.8 464.3 224.0 466.2 219.2 467.5C214.3 468.8 209.0 470.1 205.6 469.5C202.2 468.9 200.5 466.4 199.0 464.0C197.5 461.6 196.2 458.8 196.7 455.0Z" fill="none" stroke="#000" stroke-width="2.6" stroke-linejoin="round"/>
<path d="M215.3 452.0C215.0 449.9 215.6 445.2 217.2 442.3C218.8 439.4 221.8 437.1 225.0 434.5C228.2 431.9 233.1 428.6 236.7 426.7C240.3 424.8 244.0 422.6 246.4 422.8C248.8 423.0 250.7 425.4 251.0 428.0C251.3 430.6 250.5 435.0 248.4 438.4C246.3 441.8 242.2 445.5 238.6 448.1C235.0 450.7 230.2 452.8 227.0 453.9C223.8 455.0 221.1 455.2 219.2 454.9C217.2 454.6 215.6 454.1 215.3 452.0Z" fill="none" stroke="#000" stroke-width="2.6" stroke-linejoin="round"/>
<path d="M209.5 420.9C210.2 416.3 212.1 411.4 215.3 407.2C218.5 403.0 223.4 398.8 228.9 395.6C234.4 392.4 242.6 389.4 248.4 387.8C254.2 386.2 258.7 385.8 263.9 385.8C269.1 385.8 275.1 386.3 279.5 387.8C283.9 389.3 287.8 391.3 290.0 395.0C292.2 398.7 293.0 405.0 293.0 410.0C293.0 415.0 292.6 419.9 290.0 425.0C287.4 430.1 281.9 436.1 277.5 440.3C273.1 444.5 268.8 447.6 263.9 450.0C259.0 452.4 253.6 454.2 248.4 454.9C243.2 455.5 237.7 455.4 232.8 453.9C227.9 452.4 222.8 449.3 219.2 446.1C215.6 442.9 213.0 438.7 211.4 434.5C209.8 430.3 208.8 425.4 209.5 420.9Z" fill="none" stroke="#e07828" stroke-width="2.2" stroke-linejoin="round"/>
<path d="M219.2 428.6C218.5 424.4 219.5 419.2 221.1 415.0C222.7 410.8 225.0 406.5 228.9 403.3C232.8 400.1 239.0 397.2 244.5 395.6C250.0 394.0 257.1 393.6 262.0 393.6C266.9 393.6 270.5 394.0 273.7 395.6C276.9 397.2 279.6 399.4 281.4 403.3C283.2 407.2 284.7 414.0 284.4 418.9C284.1 423.8 282.3 428.6 279.5 432.5C276.7 436.4 272.3 439.7 267.8 442.3C263.3 444.9 257.5 447.3 252.3 448.1C247.1 448.9 241.2 448.4 236.7 447.1C232.1 445.8 227.9 443.4 225.0 440.3C222.1 437.2 219.8 432.8 219.2 428.6Z" fill="none" stroke="#e07828" stroke-width="2.2" stroke-linejoin="round"/>
<path d="M228.9 424.7C228.3 420.8 229.0 416.3 230.9 413.1C232.8 409.9 236.4 406.9 240.6 405.3C244.8 403.7 251.9 403.6 256.1 403.3C260.3 403.0 263.0 402.3 265.9 403.3C268.8 404.3 271.9 406.3 273.7 409.2C275.5 412.1 276.9 417.0 276.6 420.9C276.3 424.8 274.5 429.3 271.7 432.5C268.9 435.7 264.2 438.7 260.0 440.3C255.8 441.9 250.6 443.0 246.4 442.3C242.2 441.6 237.6 439.3 234.7 436.4C231.8 433.5 229.5 428.6 228.9 424.7Z" fill="none" stroke="#e07828" stroke-width="2.2" stroke-linejoin="round"/>
<path d="M236.7 420.9C238.0 418.6 241.6 416.3 244.5 415.0C247.4 413.7 251.0 412.9 254.2 413.1C257.4 413.3 261.6 414.4 263.9 416.0C266.2 417.6 267.8 420.2 267.8 422.8C267.8 425.4 266.2 429.3 263.9 431.6C261.6 433.9 257.8 435.9 254.2 436.4C250.6 436.9 245.4 435.8 242.5 434.5C239.6 433.2 237.7 430.9 236.7 428.6C235.7 426.3 235.4 423.2 236.7 420.9Z" fill="none" stroke="#e07828" stroke-width="2.2" stroke-linejoin="round"/>
<line x1="198.30" y1="351.87" x2="198.30" y2="570.90" stroke="#000" stroke-width="1.8" stroke-dasharray="1.7 5.32"/>
</g>
<path d="M98.3 413.5H210.2M109.7 406L98.3 413.5L109.7 421.3" stroke="#000" stroke-width="1.2" fill="none"/>
<path d="M117 402.7V413.5M158.6 402.7V413.5M199.8 402.9V413.5" stroke="#333" stroke-width="1"/>
<text x="64.34" y="365.40" font-size="15.3" textLength="18.64" lengthAdjust="spacingAndGlyphs" fill="#000"  stroke="#000" stroke-width="0.35">(c)</text>
<text x="124.79" y="365.10" font-size="14.2" textLength="60.59" lengthAdjust="spacingAndGlyphs" fill="#e07828" >4−6keV:</text>
<text x="124.82" y="380.50" font-size="14.2" textLength="142.55" lengthAdjust="spacingAndGlyphs" fill="#e07828" >12:59:00−12:59:30</text>
<text x="65.10" y="398.30" font-size="17.2" textLength="37.99" lengthAdjust="spacingAndGlyphs" fill="#000"  stroke="#fff" stroke-width="0.3">time</text>
<text x="112.42" y="398.30" font-size="17.2" textLength="5.23" lengthAdjust="spacingAndGlyphs" fill="#000"  stroke="#fff" stroke-width="0.3">t</text>
<text x="120.49" y="402.50" font-size="12" textLength="7.10" lengthAdjust="spacingAndGlyphs" fill="#000" >3</text>
<text x="155.52" y="398.30" font-size="17.2" textLength="5.23" lengthAdjust="spacingAndGlyphs" fill="#000"  stroke="#fff" stroke-width="0.3">t</text>
<text x="160.86" y="402.50" font-size="12" textLength="8.19" lengthAdjust="spacingAndGlyphs" fill="#000" >2</text>
<text x="203.79" y="398.30" font-size="17.2" textLength="5.67" lengthAdjust="spacingAndGlyphs" fill="#000"  stroke="#fff" stroke-width="0.3">t</text>
<text x="210.84" y="402.50" font-size="12" textLength="4.92" lengthAdjust="spacingAndGlyphs" fill="#000" >1</text>
<text x="64.28" y="515.30" font-size="13.4" textLength="202.99" lengthAdjust="spacingAndGlyphs" fill="#1c4aa8" >4−6keV:12:51:30−12:52:00</text>
<text x="79.28" y="533.60" font-size="13.8" textLength="202.79" lengthAdjust="spacingAndGlyphs" fill="#000" >4−6keV:12:55:00−12:55:30</text>
<clipPath id="clipd"><rect x="369.30" y="345.70" width="226.0" height="225.2"/></clipPath>
<g clip-path="url(#clipd)">
<rect x="416.01" y="459.80" width="4.37" height="4.35" fill="#dfdfdf"/>
<rect x="419.77" y="463.55" width="4.37" height="4.35" fill="#d9d9d9"/>
<rect x="419.77" y="459.80" width="4.37" height="4.35" fill="#cecece"/>
<rect x="419.77" y="456.05" width="4.37" height="4.35" fill="#dcdcdc"/>
<rect x="419.77" y="452.29" width="4.37" height="4.35" fill="#d7d7d7"/>
<rect x="423.54" y="467.31" width="4.37" height="4.35" fill="#e4e4e4"/>
<rect x="423.54" y="463.55" width="4.37" height="4.35" fill="#d2d2d2"/>
<rect x="423.54" y="459.80" width="4.37" height="4.35" fill="#cecece"/>
<rect x="423.54" y="456.05" width="4.37" height="4.35" fill="#bbbbbb"/>
<rect x="423.54" y="452.29" width="4.37" height="4.35" fill="#c8c8c8"/>
<rect x="423.54" y="448.54" width="4.37" height="4.35" fill="#e5e5e5"/>
<rect x="427.31" y="467.31" width="4.37" height="4.35" fill="#dddddd"/>
<rect x="427.31" y="463.55" width="4.37" height="4.35" fill="#c4c4c4"/>
<rect x="427.31" y="459.80" width="4.37" height="4.35" fill="#c4c4c4"/>
<rect x="427.31" y="456.05" width="4.37" height="4.35" fill="#c9c9c9"/>
<rect x="427.31" y="452.29" width="4.37" height="4.35" fill="#c9c9c9"/>
<rect x="427.31" y="448.54" width="4.37" height="4.35" fill="#dddddd"/>
<rect x="431.07" y="467.31" width="4.37" height="4.35" fill="#dfdfdf"/>
<rect x="431.07" y="463.55" width="4.37" height="4.35" fill="#c3c3c3"/>
<rect x="431.07" y="459.80" width="4.37" height="4.35" fill="#aeaeae"/>
<rect x="431.07" y="456.05" width="4.37" height="4.35" fill="#b3b3b3"/>
<rect x="431.07" y="452.29" width="4.37" height="4.35" fill="#cecece"/>
<rect x="431.07" y="448.54" width="4.37" height="4.35" fill="#dfdfdf"/>
<rect x="434.84" y="471.06" width="4.37" height="4.35" fill="#e4e4e4"/>
<rect x="434.84" y="467.31" width="4.37" height="4.35" fill="#dcdcdc"/>
<rect x="434.84" y="463.55" width="4.37" height="4.35" fill="#b8b8b8"/>
<rect x="434.84" y="459.80" width="4.37" height="4.35" fill="#a6a6a6"/>
<rect x="434.84" y="456.05" width="4.37" height="4.35" fill="#b6b6b6"/>
<rect x="434.84" y="452.29" width="4.37" height="4.35" fill="#cfcfcf"/>
<rect x="434.84" y="448.54" width="4.37" height="4.35" fill="#dfdfdf"/>
<rect x="438.61" y="471.06" width="4.37" height="4.35" fill="#e3e3e3"/>
<rect x="438.61" y="467.31" width="4.37" height="4.35" fill="#c8c8c8"/>
<rect x="438.61" y="463.55" width="4.37" height="4.35" fill="#c0c0c0"/>
<rect x="438.61" y="459.80" width="4.37" height="4.35" fill="#a4a4a4"/>
<rect x="438.61" y="456.05" width="4.37" height="4.35" fill="#b7b7b7"/>
<rect x="438.61" y="452.29" width="4.37" height="4.35" fill="#c7c7c7"/>
<rect x="438.61" y="448.54" width="4.37" height="4.35" fill="#dddddd"/>
<rect x="442.37" y="471.06" width="4.37" height="4.35" fill="#dfdfdf"/>
<rect x="442.37" y="467.31" width="4.37" height="4.35" fill="#c4c4c4"/>
<rect x="442.37" y="463.55" width="4.37" height="4.35" fill="#bdbdbd"/>
<rect x="442.37" y="459.80" width="4.37" height="4.35" fill="#aeaeae"/>
<rect x="442.37" y="456.05" width="4.37" height="4.35" fill="#b9b9b9"/>
<rect x="442.37" y="452.29" width="4.37" height="4.35" fill="#cbcbcb"/>
<rect x="442.37" y="448.54" width="4.37" height="4.35" fill="#dddddd"/>
<rect x="446.14" y="467.31" width="4.37" height="4.35" fill="#c6c6c6"/>
<rect x="446.14" y="463.55" width="4.37" height="4.35" fill="#b3b3b3"/>
<rect x="446.14" y="459.80" width="4.37" height="4.35" fill="#c0c0c0"/>
<rect x="446.14" y="456.05" width="4.37" height="4.35" fill="#b0b0b0"/>
<rect x="446.14" y="452.29" width="4.37" height="4.35" fill="#c5c5c5"/>
<rect x="449.91" y="471.06" width="4.37" height="4.35" fill="#d7d7d7"/>
<rect x="449.91" y="467.31" width="4.37" height="4.35" fill="#c1c1c1"/>
<rect x="449.91" y="463.55" width="4.37" height="4.35" fill="#a7a7a7"/>
<rect x="449.91" y="459.80" width="4.37" height="4.35" fill="#c1c1c1"/>
<rect x="449.91" y="456.05" width="4.37" height="4.35" fill="#c6c6c6"/>
<rect x="449.91" y="452.29" width="4.37" height="4.35" fill="#dddddd"/>
<rect x="449.91" y="448.54" width="4.37" height="4.35" fill="#e4e4e4"/>
<rect x="453.67" y="471.06" width="4.37" height="4.35" fill="#e3e3e3"/>
<rect x="453.67" y="467.31" width="4.37" height="4.35" fill="#bcbcbc"/>
<rect x="453.67" y="463.55" width="4.37" height="4.35" fill="#b7b7b7"/>
<rect x="453.67" y="459.80" width="4.37" height="4.35" fill="#bababa"/>
<rect x="453.67" y="456.05" width="4.37" height="4.35" fill="#c1c1c1"/>
<rect x="453.67" y="452.29" width="4.37" height="4.35" fill="#d0d0d0"/>
<rect x="457.44" y="471.06" width="4.37" height="4.35" fill="#dadada"/>
<rect x="457.44" y="467.31" width="4.37" height="4.35" fill="#b7b7b7"/>
<rect x="457.44" y="463.55" width="4.37" height="4.35" fill="#c2c2c2"/>
<rect x="457.44" y="459.80" width="4.37" height="4.35" fill="#aaaaaa"/>
<rect x="457.44" y="456.05" width="4.37" height="4.35" fill="#c8c8c8"/>
<rect x="457.44" y="452.29" width="4.37" height="4.35" fill="#dddddd"/>
<rect x="461.21" y="471.06" width="4.37" height="4.35" fill="#dedede"/>
<rect x="461.21" y="467.31" width="4.37" height="4.35" fill="#c9c9c9"/>
<rect x="461.21" y="463.55" width="4.37" height="4.35" fill="#b9b9b9"/>
<rect x="461.21" y="459.80" width="4.37" height="4.35" fill="#b5b5b5"/>
<rect x="461.21" y="456.05" width="4.37" height="4.35" fill="#d0d0d0"/>
<rect x="461.21" y="452.29" width="4.37" height="4.35" fill="#dfdfdf"/>
<rect x="464.97" y="471.06" width="4.37" height="4.35" fill="#dedede"/>
<rect x="464.97" y="467.31" width="4.37" height="4.35" fill="#bebebe"/>
<rect x="464.97" y="463.55" width="4.37" height="4.35" fill="#aeaeae"/>
<rect x="464.97" y="459.80" width="4.37" height="4.35" fill="#a8a8a8"/>
<rect x="464.97" y="456.05" width="4.37" height="4.35" fill="#c1c1c1"/>
<rect x="464.97" y="452.29" width="4.37" height="4.35" fill="#dbdbdb"/>
<rect x="468.74" y="471.06" width="4.37" height="4.35" fill="#d6d6d6"/>
<rect x="468.74" y="467.31" width="4.37" height="4.35" fill="#b9b9b9"/>
<rect x="468.74" y="463.55" width="4.37" height="4.35" fill="#b8b8b8"/>
<rect x="468.74" y="459.80" width="4.37" height="4.35" fill="#c1c1c1"/>
<rect x="468.74" y="456.05" width="4.37" height="4.35" fill="#cfcfcf"/>
<rect x="468.74" y="452.29" width="4.37" height="4.35" fill="#e1e1e1"/>
<rect x="472.51" y="471.06" width="4.37" height="4.35" fill="#d1d1d1"/>
<rect x="472.51" y="467.31" width="4.37" height="4.35" fill="#bebebe"/>
<rect x="472.51" y="463.55" width="4.37" height="4.35" fill="#afafaf"/>
<rect x="472.51" y="459.80" width="4.37" height="4.35" fill="#aeaeae"/>
<rect x="472.51" y="456.05" width="4.37" height="4.35" fill="#bebebe"/>
<rect x="472.51" y="452.29" width="4.37" height="4.35" fill="#dbdbdb"/>
<rect x="476.27" y="471.06" width="4.37" height="4.35" fill="#d2d2d2"/>
<rect x="476.27" y="467.31" width="4.37" height="4.35" fill="#afafaf"/>
<rect x="476.27" y="463.55" width="4.37" height="4.35" fill="#bcbcbc"/>
<rect x="476.27" y="459.80" width="4.37" height="4.35" fill="#acacac"/>
<rect x="476.27" y="456.05" width="4.37" height="4.35" fill="#b5b5b5"/>
<rect x="476.27" y="452.29" width="4.37" height="4.35" fill="#d2d2d2"/>
<rect x="480.04" y="471.06" width="4.37" height="4.35" fill="#e2e2e2"/>
<rect x="480.04" y="467.31" width="4.37" height="4.35" fill="#cdcdcd"/>
<rect x="480.04" y="463.55" width="4.37" height="4.35" fill="#afafaf"/>
<rect x="480.04" y="459.80" width="4.37" height="4.35" fill="#a9a9a9"/>
<rect x="480.04" y="456.05" width="4.37" height="4.35" fill="#a3a3a3"/>
<rect x="480.04" y="452.29" width="4.37" height="4.35" fill="#d9d9d9"/>
<rect x="480.04" y="448.54" width="4.37" height="4.35" fill="#e4e4e4"/>
<rect x="483.81" y="471.06" width="4.37" height="4.35" fill="#e5e5e5"/>
<rect x="483.81" y="467.31" width="4.37" height="4.35" fill="#d2d2d2"/>
<rect x="483.81" y="463.55" width="4.37" height="4.35" fill="#b0b0b0"/>
<rect x="483.81" y="459.80" width="4.37" height="4.35" fill="#848484"/>
<rect x="483.81" y="456.05" width="4.37" height="4.35" fill="#919191"/>
<rect x="483.81" y="452.29" width="4.37" height="4.35" fill="#b4b4b4"/>
<rect x="483.81" y="448.54" width="4.37" height="4.35" fill="#dadada"/>
<rect x="487.57" y="467.31" width="4.37" height="4.35" fill="#d1d1d1"/>
<rect x="487.57" y="463.55" width="4.37" height="4.35" fill="#b5b5b5"/>
<rect x="487.57" y="459.80" width="4.37" height="4.35" fill="#a8a8a8"/>
<rect x="487.57" y="456.05" width="4.37" height="4.35" fill="#a7a7a7"/>
<rect x="487.57" y="452.29" width="4.37" height="4.35" fill="#b9b9b9"/>
<rect x="487.57" y="448.54" width="4.37" height="4.35" fill="#c5c5c5"/>
<rect x="491.34" y="467.31" width="4.37" height="4.35" fill="#dfdfdf"/>
<rect x="491.34" y="463.55" width="4.37" height="4.35" fill="#ababab"/>
<rect x="491.34" y="459.80" width="4.37" height="4.35" fill="#acacac"/>
<rect x="491.34" y="456.05" width="4.37" height="4.35" fill="#8c8c8c"/>
<rect x="491.34" y="452.29" width="4.37" height="4.35" fill="#959595"/>
<rect x="491.34" y="448.54" width="4.37" height="4.35" fill="#aeaeae"/>
<rect x="491.34" y="444.79" width="4.37" height="4.35" fill="#dedede"/>
<rect x="495.11" y="463.55" width="4.37" height="4.35" fill="#cfcfcf"/>
<rect x="495.11" y="459.80" width="4.37" height="4.35" fill="#a0a0a0"/>
<rect x="495.11" y="456.05" width="4.37" height="4.35" fill="#7f7f7f"/>
<rect x="495.11" y="452.29" width="4.37" height="4.35" fill="#727272"/>
<rect x="495.11" y="448.54" width="4.37" height="4.35" fill="#9a9a9a"/>
<rect x="495.11" y="444.79" width="4.37" height="4.35" fill="#c1c1c1"/>
<rect x="495.11" y="441.03" width="4.37" height="4.35" fill="#dddddd"/>
<rect x="498.87" y="463.55" width="4.37" height="4.35" fill="#d6d6d6"/>
<rect x="498.87" y="459.80" width="4.37" height="4.35" fill="#aeaeae"/>
<rect x="498.87" y="456.05" width="4.37" height="4.35" fill="#737373"/>
<rect x="498.87" y="452.29" width="4.37" height="4.35" fill="#777777"/>
<rect x="498.87" y="448.54" width="4.37" height="4.35" fill="#7a7a7a"/>
<rect x="498.87" y="444.79" width="4.37" height="4.35" fill="#afafaf"/>
<rect x="498.87" y="441.03" width="4.37" height="4.35" fill="#d5d5d5"/>
<rect x="502.64" y="463.55" width="4.37" height="4.35" fill="#e1e1e1"/>
<rect x="502.64" y="459.80" width="4.37" height="4.35" fill="#ababab"/>
<rect x="502.64" y="456.05" width="4.37" height="4.35" fill="#9e9e9e"/>
<rect x="502.64" y="452.29" width="4.37" height="4.35" fill="#686868"/>
<rect x="502.64" y="448.54" width="4.37" height="4.35" fill="#8f8f8f"/>
<rect x="502.64" y="444.79" width="4.37" height="4.35" fill="#a5a5a5"/>
<rect x="502.64" y="441.03" width="4.37" height="4.35" fill="#adadad"/>
<rect x="502.64" y="437.28" width="4.37" height="4.35" fill="#d6d6d6"/>
<rect x="502.64" y="433.53" width="4.37" height="4.35" fill="#e1e1e1"/>
<rect x="506.41" y="463.55" width="4.37" height="4.35" fill="#e0e0e0"/>
<rect x="506.41" y="459.80" width="4.37" height="4.35" fill="#cccccc"/>
<rect x="506.41" y="456.05" width="4.37" height="4.35" fill="#afafaf"/>
<rect x="506.41" y="452.29" width="4.37" height="4.35" fill="#656565"/>
<rect x="506.41" y="448.54" width="4.37" height="4.35" fill="#636363"/>
<rect x="506.41" y="444.79" width="4.37" height="4.35" fill="#9a9a9a"/>
<rect x="506.41" y="441.03" width="4.37" height="4.35" fill="#8f8f8f"/>
<rect x="506.41" y="437.28" width="4.37" height="4.35" fill="#bbbbbb"/>
<rect x="506.41" y="433.53" width="4.37" height="4.35" fill="#d5d5d5"/>
<rect x="510.17" y="459.80" width="4.37" height="4.35" fill="#cacaca"/>
<rect x="510.17" y="456.05" width="4.37" height="4.35" fill="#c0c0c0"/>
<rect x="510.17" y="452.29" width="4.37" height="4.35" fill="#909090"/>
<rect x="510.17" y="448.54" width="4.37" height="4.35" fill="#5b5b5b"/>
<rect x="510.17" y="444.79" width="4.37" height="4.35" fill="#575757"/>
<rect x="510.17" y="441.03" width="4.37" height="4.35" fill="#979797"/>
<rect x="510.17" y="437.28" width="4.37" height="4.35" fill="#aeaeae"/>
<rect x="510.17" y="433.53" width="4.37" height="4.35" fill="#c6c6c6"/>
<rect x="510.17" y="429.77" width="4.37" height="4.35" fill="#cbcbcb"/>
<rect x="513.94" y="459.80" width="4.37" height="4.35" fill="#e0e0e0"/>
<rect x="513.94" y="456.05" width="4.37" height="4.35" fill="#b6b6b6"/>
<rect x="513.94" y="452.29" width="4.37" height="4.35" fill="#888888"/>
<rect x="513.94" y="448.54" width="4.37" height="4.35" fill="#818181"/>
<rect x="513.94" y="444.79" width="4.37" height="4.35" fill="#767676"/>
<rect x="513.94" y="441.03" width="4.37" height="4.35" fill="#686868"/>
<rect x="513.94" y="437.28" width="4.37" height="4.35" fill="#777777"/>
<rect x="513.94" y="433.53" width="4.37" height="4.35" fill="#818181"/>
<rect x="513.94" y="429.77" width="4.37" height="4.35" fill="#c2c2c2"/>
<rect x="513.94" y="426.02" width="4.37" height="4.35" fill="#cbcbcb"/>
<rect x="513.94" y="422.27" width="4.37" height="4.35" fill="#e3e3e3"/>
<rect x="517.71" y="456.05" width="4.37" height="4.35" fill="#cbcbcb"/>
<rect x="517.71" y="452.29" width="4.37" height="4.35" fill="#bcbcbc"/>
<rect x="517.71" y="448.54" width="4.37" height="4.35" fill="#a2a2a2"/>
<rect x="517.71" y="444.79" width="4.37" height="4.35" fill="#868686"/>
<rect x="517.71" y="441.03" width="4.37" height="4.35" fill="#585858"/>
<rect x="517.71" y="437.28" width="4.37" height="4.35" fill="#4c4c4c"/>
<rect x="517.71" y="433.53" width="4.37" height="4.35" fill="#787878"/>
<rect x="517.71" y="429.77" width="4.37" height="4.35" fill="#a1a1a1"/>
<rect x="517.71" y="426.02" width="4.37" height="4.35" fill="#b7b7b7"/>
<rect x="517.71" y="422.27" width="4.37" height="4.35" fill="#cdcdcd"/>
<rect x="517.71" y="418.51" width="4.37" height="4.35" fill="#e2e2e2"/>
<rect x="521.47" y="456.05" width="4.37" height="4.35" fill="#e5e5e5"/>
<rect x="521.47" y="452.29" width="4.37" height="4.35" fill="#bababa"/>
<rect x="521.47" y="448.54" width="4.37" height="4.35" fill="#a1a1a1"/>
<rect x="521.47" y="444.79" width="4.37" height="4.35" fill="#8a8a8a"/>
<rect x="521.47" y="441.03" width="4.37" height="4.35" fill="#404040"/>
<rect x="521.47" y="437.28" width="4.37" height="4.35" fill="#404040"/>
<rect x="521.47" y="433.53" width="4.37" height="4.35" fill="#2e2e2e"/>
<rect x="521.47" y="429.77" width="4.37" height="4.35" fill="#8a8a8a"/>
<rect x="521.47" y="426.02" width="4.37" height="4.35" fill="#919191"/>
<rect x="521.47" y="422.27" width="4.37" height="4.35" fill="#a5a5a5"/>
<rect x="521.47" y="418.51" width="4.37" height="4.35" fill="#c6c6c6"/>
<rect x="521.47" y="414.76" width="4.37" height="4.35" fill="#dedede"/>
<rect x="525.24" y="452.29" width="4.37" height="4.35" fill="#dedede"/>
<rect x="525.24" y="448.54" width="4.37" height="4.35" fill="#bcbcbc"/>
<rect x="525.24" y="444.79" width="4.37" height="4.35" fill="#a1a1a1"/>
<rect x="525.24" y="441.03" width="4.37" height="4.35" fill="#7d7d7d"/>
<rect x="525.24" y="437.28" width="4.37" height="4.35" fill="#646464"/>
<rect x="525.24" y="433.53" width="4.37" height="4.35" fill="#3d3d3d"/>
<rect x="525.24" y="429.77" width="4.37" height="4.35" fill="#424242"/>
<rect x="525.24" y="426.02" width="4.37" height="4.35" fill="#7e7e7e"/>
<rect x="525.24" y="422.27" width="4.37" height="4.35" fill="#a6a6a6"/>
<rect x="525.24" y="418.51" width="4.37" height="4.35" fill="#b5b5b5"/>
<rect x="525.24" y="414.76" width="4.37" height="4.35" fill="#c8c8c8"/>
<rect x="529.01" y="452.29" width="4.37" height="4.35" fill="#e0e0e0"/>
<rect x="529.01" y="448.54" width="4.37" height="4.35" fill="#d0d0d0"/>
<rect x="529.01" y="444.79" width="4.37" height="4.35" fill="#a8a8a8"/>
<rect x="529.01" y="441.03" width="4.37" height="4.35" fill="#8e8e8e"/>
<rect x="529.01" y="437.28" width="4.37" height="4.35" fill="#686868"/>
<rect x="529.01" y="433.53" width="4.37" height="4.35" fill="#282828"/>
<rect x="529.01" y="429.77" width="4.37" height="4.35" fill="#101010"/>
<rect x="529.01" y="426.02" width="4.37" height="4.35" fill="#545454"/>
<rect x="529.01" y="422.27" width="4.37" height="4.35" fill="#7a7a7a"/>
<rect x="529.01" y="418.51" width="4.37" height="4.35" fill="#7a7a7a"/>
<rect x="529.01" y="414.76" width="4.37" height="4.35" fill="#bcbcbc"/>
<rect x="529.01" y="411.01" width="4.37" height="4.35" fill="#e0e0e0"/>
<rect x="532.77" y="448.54" width="4.37" height="4.35" fill="#e3e3e3"/>
<rect x="532.77" y="444.79" width="4.37" height="4.35" fill="#c7c7c7"/>
<rect x="532.77" y="441.03" width="4.37" height="4.35" fill="#959595"/>
<rect x="532.77" y="437.28" width="4.37" height="4.35" fill="#989898"/>
<rect x="532.77" y="433.53" width="4.37" height="4.35" fill="#5c5c5c"/>
<rect x="532.77" y="429.77" width="4.37" height="4.35" fill="#252525"/>
<rect x="532.77" y="426.02" width="4.37" height="4.35" fill="#0a0a0a"/>
<rect x="532.77" y="422.27" width="4.37" height="4.35" fill="#5d5d5d"/>
<rect x="532.77" y="418.51" width="4.37" height="4.35" fill="#838383"/>
<rect x="532.77" y="414.76" width="4.37" height="4.35" fill="#828282"/>
<rect x="532.77" y="411.01" width="4.37" height="4.35" fill="#b6b6b6"/>
<rect x="532.77" y="407.25" width="4.37" height="4.35" fill="#e2e2e2"/>
<rect x="536.54" y="444.79" width="4.37" height="4.35" fill="#e0e0e0"/>
<rect x="536.54" y="441.03" width="4.37" height="4.35" fill="#d0d0d0"/>
<rect x="536.54" y="437.28" width="4.37" height="4.35" fill="#afafaf"/>
<rect x="536.54" y="433.53" width="4.37" height="4.35" fill="#6e6e6e"/>
<rect x="536.54" y="429.77" width="4.37" height="4.35" fill="#353535"/>
<rect x="536.54" y="426.02" width="4.37" height="4.35" fill="#656565"/>
<rect x="536.54" y="422.27" width="4.37" height="4.35" fill="#323232"/>
<rect x="536.54" y="418.51" width="4.37" height="4.35" fill="#3b3b3b"/>
<rect x="536.54" y="414.76" width="4.37" height="4.35" fill="#999999"/>
<rect x="536.54" y="411.01" width="4.37" height="4.35" fill="#9e9e9e"/>
<rect x="536.54" y="407.25" width="4.37" height="4.35" fill="#dbdbdb"/>
<rect x="540.31" y="441.03" width="4.37" height="4.35" fill="#e2e2e2"/>
<rect x="540.31" y="437.28" width="4.37" height="4.35" fill="#c4c4c4"/>
<rect x="540.31" y="433.53" width="4.37" height="4.35" fill="#b2b2b2"/>
<rect x="540.31" y="429.77" width="4.37" height="4.35" fill="#8f8f8f"/>
<rect x="540.31" y="426.02" width="4.37" height="4.35" fill="#575757"/>
<rect x="540.31" y="422.27" width="4.37" height="4.35" fill="#626262"/>
<rect x="540.31" y="418.51" width="4.37" height="4.35" fill="#474747"/>
<rect x="540.31" y="414.76" width="4.37" height="4.35" fill="#616161"/>
<rect x="540.31" y="411.01" width="4.37" height="4.35" fill="#a9a9a9"/>
<rect x="540.31" y="407.25" width="4.37" height="4.35" fill="#bababa"/>
<rect x="544.07" y="437.28" width="4.37" height="4.35" fill="#e1e1e1"/>
<rect x="544.07" y="433.53" width="4.37" height="4.35" fill="#b8b8b8"/>
<rect x="544.07" y="429.77" width="4.37" height="4.35" fill="#888888"/>
<rect x="544.07" y="426.02" width="4.37" height="4.35" fill="#8f8f8f"/>
<rect x="544.07" y="422.27" width="4.37" height="4.35" fill="#5c5c5c"/>
<rect x="544.07" y="418.51" width="4.37" height="4.35" fill="#292929"/>
<rect x="544.07" y="414.76" width="4.37" height="4.35" fill="#6c6c6c"/>
<rect x="544.07" y="411.01" width="4.37" height="4.35" fill="#5b5b5b"/>
<rect x="544.07" y="407.25" width="4.37" height="4.35" fill="#aeaeae"/>
<rect x="544.07" y="403.50" width="4.37" height="4.35" fill="#c8c8c8"/>
<rect x="547.84" y="433.53" width="4.37" height="4.35" fill="#dddddd"/>
<rect x="547.84" y="429.77" width="4.37" height="4.35" fill="#b2b2b2"/>
<rect x="547.84" y="426.02" width="4.37" height="4.35" fill="#949494"/>
<rect x="547.84" y="422.27" width="4.37" height="4.35" fill="#686868"/>
<rect x="547.84" y="418.51" width="4.37" height="4.35" fill="#2e2e2e"/>
<rect x="547.84" y="414.76" width="4.37" height="4.35" fill="#6b6b6b"/>
<rect x="547.84" y="411.01" width="4.37" height="4.35" fill="#3c3c3c"/>
<rect x="547.84" y="407.25" width="4.37" height="4.35" fill="#8f8f8f"/>
<rect x="547.84" y="403.50" width="4.37" height="4.35" fill="#c8c8c8"/>
<rect x="547.84" y="399.75" width="4.37" height="4.35" fill="#e3e3e3"/>
<rect x="551.61" y="429.77" width="4.37" height="4.35" fill="#dfdfdf"/>
<rect x="551.61" y="426.02" width="4.37" height="4.35" fill="#b6b6b6"/>
<rect x="551.61" y="422.27" width="4.37" height="4.35" fill="#959595"/>
<rect x="551.61" y="418.51" width="4.37" height="4.35" fill="#686868"/>
<rect x="551.61" y="414.76" width="4.37" height="4.35" fill="#393939"/>
<rect x="551.61" y="411.01" width="4.37" height="4.35" fill="#7f7f7f"/>
<rect x="551.61" y="407.25" width="4.37" height="4.35" fill="#999999"/>
<rect x="551.61" y="403.50" width="4.37" height="4.35" fill="#b3b3b3"/>
<rect x="551.61" y="399.75" width="4.37" height="4.35" fill="#e5e5e5"/>
<rect x="555.37" y="426.02" width="4.37" height="4.35" fill="#dadada"/>
<rect x="555.37" y="422.27" width="4.37" height="4.35" fill="#c6c6c6"/>
<rect x="555.37" y="418.51" width="4.37" height="4.35" fill="#898989"/>
<rect x="555.37" y="414.76" width="4.37" height="4.35" fill="#6f6f6f"/>
<rect x="555.37" y="411.01" width="4.37" height="4.35" fill="#777777"/>
<rect x="555.37" y="407.25" width="4.37" height="4.35" fill="#7b7b7b"/>
<rect x="555.37" y="403.50" width="4.37" height="4.35" fill="#afafaf"/>
<rect x="555.37" y="399.75" width="4.37" height="4.35" fill="#cbcbcb"/>
<rect x="559.14" y="422.27" width="4.37" height="4.35" fill="#d8d8d8"/>
<rect x="559.14" y="418.51" width="4.37" height="4.35" fill="#c4c4c4"/>
<rect x="559.14" y="414.76" width="4.37" height="4.35" fill="#7f7f7f"/>
<rect x="559.14" y="411.01" width="4.37" height="4.35" fill="#6f6f6f"/>
<rect x="559.14" y="407.25" width="4.37" height="4.35" fill="#7a7a7a"/>
<rect x="559.14" y="403.50" width="4.37" height="4.35" fill="#bababa"/>
<rect x="559.14" y="399.75" width="4.37" height="4.35" fill="#bfbfbf"/>
<rect x="559.14" y="395.99" width="4.37" height="4.35" fill="#e3e3e3"/>
<rect x="562.91" y="422.27" width="4.37" height="4.35" fill="#e3e3e3"/>
<rect x="562.91" y="418.51" width="4.37" height="4.35" fill="#d8d8d8"/>
<rect x="562.91" y="414.76" width="4.37" height="4.35" fill="#a6a6a6"/>
<rect x="562.91" y="411.01" width="4.37" height="4.35" fill="#b2b2b2"/>
<rect x="562.91" y="407.25" width="4.37" height="4.35" fill="#9c9c9c"/>
<rect x="562.91" y="403.50" width="4.37" height="4.35" fill="#aeaeae"/>
<rect x="562.91" y="399.75" width="4.37" height="4.35" fill="#bfbfbf"/>
<rect x="562.91" y="395.99" width="4.37" height="4.35" fill="#e0e0e0"/>
<rect x="566.67" y="414.76" width="4.37" height="4.35" fill="#c5c5c5"/>
<rect x="566.67" y="411.01" width="4.37" height="4.35" fill="#c1c1c1"/>
<rect x="566.67" y="407.25" width="4.37" height="4.35" fill="#b7b7b7"/>
<rect x="566.67" y="403.50" width="4.37" height="4.35" fill="#b7b7b7"/>
<rect x="566.67" y="399.75" width="4.37" height="4.35" fill="#b6b6b6"/>
<rect x="566.67" y="395.99" width="4.37" height="4.35" fill="#e4e4e4"/>
<rect x="570.44" y="414.76" width="4.37" height="4.35" fill="#dfdfdf"/>
<rect x="570.44" y="411.01" width="4.37" height="4.35" fill="#c5c5c5"/>
<rect x="570.44" y="407.25" width="4.37" height="4.35" fill="#b1b1b1"/>
<rect x="570.44" y="403.50" width="4.37" height="4.35" fill="#a3a3a3"/>
<rect x="570.44" y="399.75" width="4.37" height="4.35" fill="#bebebe"/>
<rect x="570.44" y="395.99" width="4.37" height="4.35" fill="#e2e2e2"/>
<rect x="574.21" y="411.01" width="4.37" height="4.35" fill="#e0e0e0"/>
<rect x="574.21" y="407.25" width="4.37" height="4.35" fill="#d2d2d2"/>
<rect x="574.21" y="403.50" width="4.37" height="4.35" fill="#b2b2b2"/>
<rect x="574.21" y="399.75" width="4.37" height="4.35" fill="#d0d0d0"/>
<rect x="574.21" y="395.99" width="4.37" height="4.35" fill="#d5d5d5"/>
<rect x="577.97" y="407.25" width="4.37" height="4.35" fill="#d9d9d9"/>
<rect x="577.97" y="403.50" width="4.37" height="4.35" fill="#c5c5c5"/>
<rect x="577.97" y="399.75" width="4.37" height="4.35" fill="#cbcbcb"/>
<rect x="577.97" y="395.99" width="4.37" height="4.35" fill="#e3e3e3"/>
<rect x="581.74" y="399.75" width="4.37" height="4.35" fill="#e5e5e5"/>
<path d="M442.4 406.8C446.9 406.1 448.4 405.6 451.7 406.6C454.9 407.7 459.0 410.3 461.9 413.1C464.8 415.9 467.0 419.4 469.2 423.3C471.4 427.2 473.4 432.0 475.0 436.4C476.6 440.8 477.9 445.5 478.6 449.6C479.3 453.7 480.0 458.1 479.4 461.2C478.8 464.3 476.7 466.8 475.0 468.5C473.3 470.2 472.6 469.9 469.2 471.4C465.8 472.9 459.5 476.0 454.6 477.3C449.7 478.6 444.4 479.2 440.0 479.4C435.6 479.6 433.1 479.1 428.1 478.4C423.2 477.6 415.4 476.4 410.3 474.9C405.2 473.4 400.6 471.9 397.8 469.5C395.0 467.1 394.0 464.8 393.4 460.6C392.8 456.5 393.6 450.2 394.3 444.6C395.0 439.0 395.7 431.2 397.8 426.7C399.9 422.2 402.2 420.5 406.7 417.8C411.2 415.1 418.7 412.5 424.6 410.7C430.6 408.9 437.9 407.5 442.4 406.8Z" fill="none" stroke="#8000b0" stroke-width="2.2" stroke-linejoin="round"/>
<path d="M438.8 416.0C443.9 415.4 448.3 414.8 451.7 416.0C455.1 417.2 456.8 419.9 459.0 423.3C461.2 426.7 463.6 432.3 464.8 436.4C466.0 440.5 466.4 444.5 466.2 448.1C465.9 451.8 465.2 455.6 463.3 458.3C461.4 461.0 458.5 462.8 454.6 464.5C450.7 466.2 445.9 467.8 440.0 468.5C434.1 469.2 424.8 470.0 419.2 469.0C413.6 468.0 409.5 465.3 406.7 462.4C403.9 459.5 402.9 455.9 402.3 451.7C401.7 447.5 402.2 441.6 403.2 437.4C404.2 433.2 405.5 429.7 408.5 426.7C411.5 423.7 415.9 421.4 421.0 419.6C426.1 417.8 433.7 416.6 438.8 416.0Z" fill="none" stroke="#8000b0" stroke-width="2.2" stroke-linejoin="round"/>
<path d="M438.8 423.2C442.5 423.2 446.1 423.1 448.7 424.8C451.3 426.5 453.1 430.4 454.6 433.5C456.1 436.6 457.3 440.3 457.5 443.7C457.7 447.1 457.5 451.3 456.0 454.0C454.5 456.7 451.6 458.5 448.7 459.8C445.8 461.1 442.8 461.6 438.8 462.0C434.8 462.4 428.8 462.8 424.6 462.0C420.5 461.2 416.4 459.2 413.9 457.5C411.4 455.8 410.1 454.4 409.4 451.7C408.6 448.9 408.3 444.6 409.4 441.0C410.4 437.4 412.9 433.0 415.7 430.3C418.5 427.6 422.4 426.2 426.3 425.0C430.2 423.8 435.1 423.2 438.8 423.2Z" fill="none" stroke="#8000b0" stroke-width="2.2" stroke-linejoin="round"/>
<path d="M437.0 430.3C440.2 430.7 443.7 431.8 445.8 433.5C447.9 435.2 449.1 438.4 449.5 440.8C449.9 443.2 449.6 446.1 448.0 448.1C446.4 450.1 443.3 451.9 440.0 453.0C436.7 454.1 431.6 455.2 428.1 455.0C424.6 454.8 421.1 453.2 419.2 451.5C417.3 449.8 416.5 447.2 416.5 444.6C416.5 442.0 417.6 437.9 419.2 435.7C420.8 433.5 423.3 432.1 426.3 431.2C429.3 430.3 433.8 429.9 437.0 430.3Z" fill="none" stroke="#8000b0" stroke-width="2.2" stroke-linejoin="round"/>
<path d="M421.7 427.5C423.6 427.1 427.8 426.8 430.0 427.5C432.2 428.2 433.6 429.6 435.0 431.7C436.4 433.8 437.5 437.2 438.3 440.0C439.1 442.8 438.9 446.1 440.0 448.3C441.1 450.5 442.5 452.1 445.0 453.3C447.5 454.6 451.4 455.5 455.0 455.8C458.6 456.1 463.7 455.6 466.7 455.0C469.7 454.4 470.4 453.7 473.0 451.9C475.6 450.1 479.4 447.1 482.0 444.1C484.6 441.1 486.6 437.2 488.5 433.7C490.4 430.2 492.0 426.3 493.7 423.3C495.4 420.3 496.7 417.3 498.9 415.6C501.1 413.9 503.2 413.4 506.7 413.0C510.2 412.6 515.4 412.1 520.0 413.0C524.6 413.9 530.3 416.3 534.5 418.5C538.7 420.7 542.1 423.2 545.0 426.0C547.9 428.8 550.3 432.0 551.7 435.0C553.1 438.0 553.3 440.8 553.2 444.0C553.1 447.2 552.4 451.5 551.0 454.5C549.6 457.5 547.2 459.4 545.0 462.0C542.8 464.6 540.5 467.6 538.0 470.0C535.5 472.4 533.3 474.8 530.0 476.7C526.7 478.6 522.5 480.4 518.3 481.7C514.1 482.9 509.2 483.6 505.0 484.2C500.8 484.8 496.9 484.3 493.3 485.0C489.7 485.7 486.4 486.4 483.3 488.3C480.2 490.2 477.8 493.4 475.0 496.7C472.2 500.0 469.8 505.5 466.7 508.3C463.6 511.1 460.0 513.0 456.7 513.3C453.4 513.6 450.0 512.2 446.7 510.0C443.4 507.8 439.8 503.7 436.7 500.0C433.6 496.3 430.8 493.0 428.0 488.0C425.2 483.0 422.0 475.8 420.0 470.0C418.0 464.2 416.6 458.3 415.8 453.3C415.0 448.3 414.6 443.9 415.0 440.0C415.4 436.1 417.2 432.1 418.3 430.0C419.4 427.9 419.8 427.9 421.7 427.5Z" fill="none" stroke="#1e88e0" stroke-width="2.2" stroke-linejoin="round"/>
<path d="M476.9 462.3C478.1 459.6 480.1 455.6 482.0 451.9C483.9 448.2 486.6 444.1 488.5 440.2C490.4 436.3 491.8 431.5 493.7 428.5C495.6 425.5 497.6 423.4 500.2 422.0C502.8 420.6 506.0 420.4 509.3 420.1C512.6 419.8 517.0 419.9 520.0 420.1C523.0 420.3 524.1 420.3 527.0 421.5C529.9 422.7 534.5 425.2 537.5 427.5C540.5 429.8 543.5 432.2 545.0 435.0C546.5 437.8 546.8 440.8 546.5 444.0C546.2 447.2 545.5 451.5 543.5 454.5C541.5 457.5 537.6 459.6 534.5 462.0C531.4 464.4 528.5 466.8 525.0 469.0C521.5 471.2 518.0 474.0 513.3 475.0C508.6 476.0 501.4 475.6 496.7 475.0C492.0 474.4 488.6 472.8 485.0 471.7C481.4 470.6 476.4 469.9 475.0 468.3C473.6 466.7 475.7 465.0 476.9 462.3Z" fill="none" stroke="#1e88e0" stroke-width="2.2" stroke-linejoin="round"/>
<path d="M497.0 444.0C497.2 440.8 498.2 437.6 500.0 435.0C501.8 432.4 505.0 429.4 507.5 428.2C510.0 426.9 511.8 427.4 515.0 427.5C518.2 427.6 523.5 428.0 527.0 429.0C530.5 430.0 533.8 431.2 536.0 433.5C538.2 435.8 540.2 439.5 540.5 442.5C540.8 445.5 539.2 448.8 537.5 451.5C535.8 454.2 533.2 457.2 530.0 459.0C526.8 460.8 522.0 461.8 518.0 462.0C514.0 462.2 509.2 461.8 506.0 460.5C502.8 459.2 500.0 457.2 498.5 454.5C497.0 451.8 496.8 447.2 497.0 444.0Z" fill="none" stroke="#1e88e0" stroke-width="2.2" stroke-linejoin="round"/>
<path d="M501.5 450.0C501.2 447.8 501.8 444.8 503.0 442.5C504.2 440.2 506.5 437.8 509.0 436.5C511.5 435.2 514.8 435.1 518.0 435.0C521.2 434.9 526.0 434.8 528.5 435.8C531.0 436.8 532.5 438.9 533.0 441.0C533.5 443.1 532.8 446.2 531.5 448.5C530.2 450.8 528.5 453.0 525.5 454.5C522.5 456.0 517.0 457.2 513.5 457.5C510.0 457.8 506.5 457.2 504.5 456.0C502.5 454.8 501.8 452.2 501.5 450.0Z" fill="none" stroke="#1e88e0" stroke-width="2.2" stroke-linejoin="round"/>
<path d="M445.0 486.7C445.1 484.5 445.3 482.2 446.7 480.0C448.1 477.8 450.8 474.7 453.3 473.3C455.8 471.9 459.2 471.4 461.7 471.7C464.2 472.0 467.2 473.1 468.3 475.0C469.4 476.9 469.1 480.2 468.3 483.3C467.5 486.4 465.2 490.5 463.3 493.3C461.4 496.1 458.9 499.2 456.7 500.0C454.5 500.8 451.8 499.4 450.0 498.3C448.2 497.2 446.6 495.2 445.8 493.3C445.0 491.4 444.9 488.9 445.0 486.7Z" fill="none" stroke="#1e88e0" stroke-width="2.2" stroke-linejoin="round"/>
<ellipse cx="489" cy="469" rx="3" ry="2.5" fill="#8000b0"/>
<path d="M499 464 L505 460.5 L512 457 L519 453.5 L525 450 L531 446 L537 442 L542 437 L548 433 L553 430 L557 428 L562 426 L566 424.5" stroke="#e0501a" stroke-width="1.5" fill="none"/>
<path d="M498.2 463h5.6M501 460.2v5.6M502.2 460.5h5.6M505 457.7v5.6M506.2 458.5h5.6M509 455.7v5.6M510.2 456h5.6M513 453.2v5.6M514.2 454h5.6M517 451.2v5.6M518.2 451.5h5.6M521 448.7v5.6M532.2 444h5.6M535 441.2v5.6M536.2 441.5h5.6M539 438.7v5.6M540.2 438.5h5.6M543 435.7v5.6M550.2 430.5h5.6M553 427.7v5.6M554.2 429h5.6M557 426.2v5.6M558.2 427.5h5.6M561 424.7v5.6M561.7 426h5.6M564.5 423.2v5.6" stroke="#e0501a" stroke-width="1.4"/>
<path d="M519 466L497.5 485M501.5 476L497.5 485L507.5 481" stroke="#e0501a" stroke-width="2.6" fill="none"/>
<path d="M497.5 492L564.6 458.9M554.8 459.4L564.6 458.9L558 466.5" stroke="#e0501a" stroke-width="2.6" fill="none"/>
<path d="M549.9 376.1L564.5 424.7M487 402L520 443M546.2 503.8L542.5 449.5M440.4 518.7L499 463" stroke="#c05a28" stroke-width="1.2" fill="none"/>
</g>
<text x="376.37" y="365.40" font-size="15.3" textLength="18.89" lengthAdjust="spacingAndGlyphs" fill="#000"  stroke="#000" stroke-width="0.2">(d)</text>
<text x="453.23" y="372.80" font-size="14.5" textLength="141.94" lengthAdjust="spacingAndGlyphs" fill="#c05a28" >12:59:00−12:59:30</text>
<text x="399.42" y="399.00" font-size="14.5" textLength="142.50" lengthAdjust="spacingAndGlyphs" fill="#c05a28" >12:50:30−12:51:00</text>
<text x="452.93" y="518.50" font-size="13.4" textLength="141.43" lengthAdjust="spacingAndGlyphs" fill="#c05a28" >12:55:00−12:55:30</text>
<text x="384.78" y="533.50" font-size="13.2" textLength="202.18" lengthAdjust="spacingAndGlyphs" fill="#c05a28" >4−6keV:12:51:30−12:52:00</text>
<text x="370.14" y="549.00" font-size="14.8" textLength="221.17" lengthAdjust="spacingAndGlyphs" fill="#8000b0"  stroke="#8000b0" stroke-width="0.55">15−40keV:12:50:30−12:51:30</text>
<text x="370.14" y="564.00" font-size="14.5" textLength="221.47" lengthAdjust="spacingAndGlyphs" fill="#1e88e0"  stroke="#1e88e0" stroke-width="0.55">15−40keV:12:51:30−12:52:30</text>
<path d="M64.27 30.40v2.0M64.27 255.60v-2.0M68.03 30.40v2.0M68.03 255.60v-2.0M71.80 30.40v2.0M71.80 255.60v-2.0M75.57 30.40v2.0M75.57 255.60v-2.0M79.33 30.40v4.0M79.33 255.60v-4.0M83.10 30.40v2.0M83.10 255.60v-2.0M86.87 30.40v2.0M86.87 255.60v-2.0M90.63 30.40v2.0M90.63 255.60v-2.0M94.40 30.40v2.0M94.40 255.60v-2.0M98.17 30.40v2.0M98.17 255.60v-2.0M101.93 30.40v2.0M101.93 255.60v-2.0M105.70 30.40v2.0M105.70 255.60v-2.0M109.47 30.40v2.0M109.47 255.60v-2.0M113.23 30.40v2.0M113.23 255.60v-2.0M117.00 30.40v4.0M117.00 255.60v-4.0M120.77 30.40v2.0M120.77 255.60v-2.0M124.53 30.40v2.0M124.53 255.60v-2.0M128.30 30.40v2.0M128.30 255.60v-2.0M132.07 30.40v2.0M132.07 255.60v-2.0M135.83 30.40v2.0M135.83 255.60v-2.0M139.60 30.40v2.0M139.60 255.60v-2.0M143.37 30.40v2.0M143.37 255.60v-2.0M147.13 30.40v2.0M147.13 255.60v-2.0M150.90 30.40v2.0M150.90 255.60v-2.0M154.67 30.40v4.0M154.67 255.60v-4.0M158.43 30.40v2.0M158.43 255.60v-2.0M162.20 30.40v2.0M162.20 255.60v-2.0M165.97 30.40v2.0M165.97 255.60v-2.0M169.73 30.40v2.0M169.73 255.60v-2.0M173.50 30.40v2.0M173.50 255.60v-2.0M177.27 30.40v2.0M177.27 255.60v-2.0M181.03 30.40v2.0M181.03 255.60v-2.0M184.80 30.40v2.0M184.80 255.60v-2.0M188.57 30.40v2.0M188.57 255.60v-2.0M192.33 30.40v4.0M192.33 255.60v-4.0M196.10 30.40v2.0M196.10 255.60v-2.0M199.87 30.40v2.0M199.87 255.60v-2.0M203.63 30.40v2.0M203.63 255.60v-2.0M207.40 30.40v2.0M207.40 255.60v-2.0M211.17 30.40v2.0M211.17 255.60v-2.0M214.93 30.40v2.0M214.93 255.60v-2.0M218.70 30.40v2.0M218.70 255.60v-2.0M222.47 30.40v2.0M222.47 255.60v-2.0M226.23 30.40v2.0M226.23 255.60v-2.0M230.00 30.40v4.0M230.00 255.60v-4.0M233.77 30.40v2.0M233.77 255.60v-2.0M237.53 30.40v2.0M237.53 255.60v-2.0M241.30 30.40v2.0M241.30 255.60v-2.0M245.07 30.40v2.0M245.07 255.60v-2.0M248.83 30.40v2.0M248.83 255.60v-2.0M252.60 30.40v2.0M252.60 255.60v-2.0M256.37 30.40v2.0M256.37 255.60v-2.0M260.13 30.40v2.0M260.13 255.60v-2.0M263.90 30.40v2.0M263.90 255.60v-2.0M267.67 30.40v4.0M267.67 255.60v-4.0M271.43 30.40v2.0M271.43 255.60v-2.0M275.20 30.40v2.0M275.20 255.60v-2.0M278.97 30.40v2.0M278.97 255.60v-2.0M282.73 30.40v2.0M282.73 255.60v-2.0M60.50 251.85h2.0M286.50 251.85h-2.0M60.50 248.09h2.0M286.50 248.09h-2.0M60.50 244.34h2.0M286.50 244.34h-2.0M60.50 240.59h2.0M286.50 240.59h-2.0M60.50 236.83h2.0M286.50 236.83h-2.0M60.50 233.08h2.0M286.50 233.08h-2.0M60.50 229.33h2.0M286.50 229.33h-2.0M60.50 225.57h2.0M286.50 225.57h-2.0M60.50 221.82h2.0M286.50 221.82h-2.0M60.50 218.07h4.0M286.50 218.07h-4.0M60.50 214.31h2.0M286.50 214.31h-2.0M60.50 210.56h2.0M286.50 210.56h-2.0M60.50 206.81h2.0M286.50 206.81h-2.0M60.50 203.05h2.0M286.50 203.05h-2.0M60.50 199.30h2.0M286.50 199.30h-2.0M60.50 195.55h2.0M286.50 195.55h-2.0M60.50 191.79h2.0M286.50 191.79h-2.0M60.50 188.04h2.0M286.50 188.04h-2.0M60.50 184.29h2.0M286.50 184.29h-2.0M60.50 180.53h4.0M286.50 180.53h-4.0M60.50 176.78h2.0M286.50 176.78h-2.0M60.50 173.03h2.0M286.50 173.03h-2.0M60.50 169.27h2.0M286.50 169.27h-2.0M60.50 165.52h2.0M286.50 165.52h-2.0M60.50 161.77h2.0M286.50 161.77h-2.0M60.50 158.01h2.0M286.50 158.01h-2.0M60.50 154.26h2.0M286.50 154.26h-2.0M60.50 150.51h2.0M286.50 150.51h-2.0M60.50 146.75h2.0M286.50 146.75h-2.0M60.50 143.00h4.0M286.50 143.00h-4.0M60.50 139.25h2.0M286.50 139.25h-2.0M60.50 135.49h2.0M286.50 135.49h-2.0M60.50 131.74h2.0M286.50 131.74h-2.0M60.50 127.99h2.0M286.50 127.99h-2.0M60.50 124.23h2.0M286.50 124.23h-2.0M60.50 120.48h2.0M286.50 120.48h-2.0M60.50 116.73h2.0M286.50 116.73h-2.0M60.50 112.97h2.0M286.50 112.97h-2.0M60.50 109.22h2.0M286.50 109.22h-2.0M60.50 105.47h4.0M286.50 105.47h-4.0M60.50 101.71h2.0M286.50 101.71h-2.0M60.50 97.96h2.0M286.50 97.96h-2.0M60.50 94.21h2.0M286.50 94.21h-2.0M60.50 90.45h2.0M286.50 90.45h-2.0M60.50 86.70h2.0M286.50 86.70h-2.0M60.50 82.95h2.0M286.50 82.95h-2.0M60.50 79.19h2.0M286.50 79.19h-2.0M60.50 75.44h2.0M286.50 75.44h-2.0M60.50 71.69h2.0M286.50 71.69h-2.0M60.50 67.93h4.0M286.50 67.93h-4.0M60.50 64.18h2.0M286.50 64.18h-2.0M60.50 60.43h2.0M286.50 60.43h-2.0M60.50 56.67h2.0M286.50 56.67h-2.0M60.50 52.92h2.0M286.50 52.92h-2.0M60.50 49.17h2.0M286.50 49.17h-2.0M60.50 45.41h2.0M286.50 45.41h-2.0M60.50 41.66h2.0M286.50 41.66h-2.0M60.50 37.91h2.0M286.50 37.91h-2.0M60.50 34.15h2.0M286.50 34.15h-2.0" stroke="#000" stroke-width="1" fill="none"/>
<rect x="60.50" y="30.40" width="226.0" height="225.2" fill="none" stroke="#000" stroke-width="1.4"/>
<text x="67.81" y="274.40" font-size="18.6" textLength="23.42" lengthAdjust="spacingAndGlyphs" fill="#000"  stroke="#fff" stroke-width="0.3">40</text>
<text x="105.15" y="274.40" font-size="18.6" textLength="23.76" lengthAdjust="spacingAndGlyphs" fill="#000"  stroke="#fff" stroke-width="0.3">50</text>
<text x="142.59" y="274.40" font-size="18.6" textLength="23.99" lengthAdjust="spacingAndGlyphs" fill="#000"  stroke="#fff" stroke-width="0.3">60</text>
<text x="180.25" y="274.40" font-size="18.6" textLength="23.99" lengthAdjust="spacingAndGlyphs" fill="#000"  stroke="#fff" stroke-width="0.3">70</text>
<text x="218.03" y="274.40" font-size="18.6" textLength="23.87" lengthAdjust="spacingAndGlyphs" fill="#000"  stroke="#fff" stroke-width="0.3">80</text>
<text x="255.70" y="274.40" font-size="18.6" textLength="23.87" lengthAdjust="spacingAndGlyphs" fill="#000"  stroke="#fff" stroke-width="0.3">90</text>
<text x="30.95" y="256.50" font-size="18.6" textLength="23.65" lengthAdjust="spacingAndGlyphs" fill="#000"  stroke="#fff" stroke-width="0.3">30</text>
<text x="31.28" y="225.77" font-size="18.6" textLength="23.31" lengthAdjust="spacingAndGlyphs" fill="#000"  stroke="#fff" stroke-width="0.3">40</text>
<text x="30.95" y="188.23" font-size="18.6" textLength="23.65" lengthAdjust="spacingAndGlyphs" fill="#000"  stroke="#fff" stroke-width="0.3">50</text>
<text x="30.73" y="150.70" font-size="18.6" textLength="23.88" lengthAdjust="spacingAndGlyphs" fill="#000"  stroke="#fff" stroke-width="0.3">60</text>
<text x="30.73" y="113.17" font-size="18.6" textLength="23.88" lengthAdjust="spacingAndGlyphs" fill="#000"  stroke="#fff" stroke-width="0.3">70</text>
<text x="30.84" y="75.63" font-size="18.6" textLength="23.77" lengthAdjust="spacingAndGlyphs" fill="#000"  stroke="#fff" stroke-width="0.3">80</text>
<text x="30.84" y="43.50" font-size="18.6" textLength="23.77" lengthAdjust="spacingAndGlyphs" fill="#000"  stroke="#fff" stroke-width="0.3">90</text>
<text x="119.41" y="296.40" font-size="18.6" textLength="10.33" lengthAdjust="spacingAndGlyphs" fill="#000"  stroke="#fff" stroke-width="0.3">X</text>
<text x="140.25" y="296.40" font-size="18.6" textLength="85.42" lengthAdjust="spacingAndGlyphs" fill="#000"  stroke="#fff" stroke-width="0.3">(arcsecs)</text>
<text transform="rotate(-90)" x="-197.43" y="15.30" font-size="18.6" textLength="107.79" lengthAdjust="spacingAndGlyphs" fill="#000" stroke="#fff" stroke-width="0.3">Y (arcsecs)</text>
<path d="M372.97 30.30v2.0M372.97 255.50v-2.0M376.73 30.30v2.0M376.73 255.50v-2.0M380.50 30.30v2.0M380.50 255.50v-2.0M384.27 30.30v2.0M384.27 255.50v-2.0M388.03 30.30v4.0M388.03 255.50v-4.0M391.80 30.30v2.0M391.80 255.50v-2.0M395.57 30.30v2.0M395.57 255.50v-2.0M399.33 30.30v2.0M399.33 255.50v-2.0M403.10 30.30v2.0M403.10 255.50v-2.0M406.87 30.30v2.0M406.87 255.50v-2.0M410.63 30.30v2.0M410.63 255.50v-2.0M414.40 30.30v2.0M414.40 255.50v-2.0M418.17 30.30v2.0M418.17 255.50v-2.0M421.93 30.30v2.0M421.93 255.50v-2.0M425.70 30.30v4.0M425.70 255.50v-4.0M429.47 30.30v2.0M429.47 255.50v-2.0M433.23 30.30v2.0M433.23 255.50v-2.0M437.00 30.30v2.0M437.00 255.50v-2.0M440.77 30.30v2.0M440.77 255.50v-2.0M444.53 30.30v2.0M444.53 255.50v-2.0M448.30 30.30v2.0M448.30 255.50v-2.0M452.07 30.30v2.0M452.07 255.50v-2.0M455.83 30.30v2.0M455.83 255.50v-2.0M459.60 30.30v2.0M459.60 255.50v-2.0M463.37 30.30v4.0M463.37 255.50v-4.0M467.13 30.30v2.0M467.13 255.50v-2.0M470.90 30.30v2.0M470.90 255.50v-2.0M474.67 30.30v2.0M474.67 255.50v-2.0M478.43 30.30v2.0M478.43 255.50v-2.0M482.20 30.30v2.0M482.20 255.50v-2.0M485.97 30.30v2.0M485.97 255.50v-2.0M489.73 30.30v2.0M489.73 255.50v-2.0M493.50 30.30v2.0M493.50 255.50v-2.0M497.27 30.30v2.0M497.27 255.50v-2.0M501.03 30.30v4.0M501.03 255.50v-4.0M504.80 30.30v2.0M504.80 255.50v-2.0M508.57 30.30v2.0M508.57 255.50v-2.0M512.33 30.30v2.0M512.33 255.50v-2.0M516.10 30.30v2.0M516.10 255.50v-2.0M519.87 30.30v2.0M519.87 255.50v-2.0M523.63 30.30v2.0M523.63 255.50v-2.0M527.40 30.30v2.0M527.40 255.50v-2.0M531.17 30.30v2.0M531.17 255.50v-2.0M534.93 30.30v2.0M534.93 255.50v-2.0M538.70 30.30v4.0M538.70 255.50v-4.0M542.47 30.30v2.0M542.47 255.50v-2.0M546.23 30.30v2.0M546.23 255.50v-2.0M550.00 30.30v2.0M550.00 255.50v-2.0M553.77 30.30v2.0M553.77 255.50v-2.0M557.53 30.30v2.0M557.53 255.50v-2.0M561.30 30.30v2.0M561.30 255.50v-2.0M565.07 30.30v2.0M565.07 255.50v-2.0M568.83 30.30v2.0M568.83 255.50v-2.0M572.60 30.30v2.0M572.60 255.50v-2.0M576.37 30.30v4.0M576.37 255.50v-4.0M580.13 30.30v2.0M580.13 255.50v-2.0M583.90 30.30v2.0M583.90 255.50v-2.0M587.67 30.30v2.0M587.67 255.50v-2.0M591.43 30.30v2.0M591.43 255.50v-2.0M369.20 251.75h2.0M595.20 251.75h-2.0M369.20 247.99h2.0M595.20 247.99h-2.0M369.20 244.24h2.0M595.20 244.24h-2.0M369.20 240.49h2.0M595.20 240.49h-2.0M369.20 236.73h2.0M595.20 236.73h-2.0M369.20 232.98h2.0M595.20 232.98h-2.0M369.20 229.23h2.0M595.20 229.23h-2.0M369.20 225.47h2.0M595.20 225.47h-2.0M369.20 221.72h2.0M595.20 221.72h-2.0M369.20 217.97h4.0M595.20 217.97h-4.0M369.20 214.21h2.0M595.20 214.21h-2.0M369.20 210.46h2.0M595.20 210.46h-2.0M369.20 206.71h2.0M595.20 206.71h-2.0M369.20 202.95h2.0M595.20 202.95h-2.0M369.20 199.20h2.0M595.20 199.20h-2.0M369.20 195.45h2.0M595.20 195.45h-2.0M369.20 191.69h2.0M595.20 191.69h-2.0M369.20 187.94h2.0M595.20 187.94h-2.0M369.20 184.19h2.0M595.20 184.19h-2.0M369.20 180.43h4.0M595.20 180.43h-4.0M369.20 176.68h2.0M595.20 176.68h-2.0M369.20 172.93h2.0M595.20 172.93h-2.0M369.20 169.17h2.0M595.20 169.17h-2.0M369.20 165.42h2.0M595.20 165.42h-2.0M369.20 161.67h2.0M595.20 161.67h-2.0M369.20 157.91h2.0M595.20 157.91h-2.0M369.20 154.16h2.0M595.20 154.16h-2.0M369.20 150.41h2.0M595.20 150.41h-2.0M369.20 146.65h2.0M595.20 146.65h-2.0M369.20 142.90h4.0M595.20 142.90h-4.0M369.20 139.15h2.0M595.20 139.15h-2.0M369.20 135.39h2.0M595.20 135.39h-2.0M369.20 131.64h2.0M595.20 131.64h-2.0M369.20 127.89h2.0M595.20 127.89h-2.0M369.20 124.13h2.0M595.20 124.13h-2.0M369.20 120.38h2.0M595.20 120.38h-2.0M369.20 116.63h2.0M595.20 116.63h-2.0M369.20 112.87h2.0M595.20 112.87h-2.0M369.20 109.12h2.0M595.20 109.12h-2.0M369.20 105.37h4.0M595.20 105.37h-4.0M369.20 101.61h2.0M595.20 101.61h-2.0M369.20 97.86h2.0M595.20 97.86h-2.0M369.20 94.11h2.0M595.20 94.11h-2.0M369.20 90.35h2.0M595.20 90.35h-2.0M369.20 86.60h2.0M595.20 86.60h-2.0M369.20 82.85h2.0M595.20 82.85h-2.0M369.20 79.09h2.0M595.20 79.09h-2.0M369.20 75.34h2.0M595.20 75.34h-2.0M369.20 71.59h2.0M595.20 71.59h-2.0M369.20 67.83h4.0M595.20 67.83h-4.0M369.20 64.08h2.0M595.20 64.08h-2.0M369.20 60.33h2.0M595.20 60.33h-2.0M369.20 56.57h2.0M595.20 56.57h-2.0M369.20 52.82h2.0M595.20 52.82h-2.0M369.20 49.07h2.0M595.20 49.07h-2.0M369.20 45.31h2.0M595.20 45.31h-2.0M369.20 41.56h2.0M595.20 41.56h-2.0M369.20 37.81h2.0M595.20 37.81h-2.0M369.20 34.05h2.0M595.20 34.05h-2.0" stroke="#000" stroke-width="1" fill="none"/>
<rect x="369.20" y="30.30" width="226.0" height="225.2" fill="none" stroke="#000" stroke-width="1.4"/>
<text x="376.51" y="274.30" font-size="18.6" textLength="23.42" lengthAdjust="spacingAndGlyphs" fill="#000"  stroke="#fff" stroke-width="0.3">40</text>
<text x="413.85" y="274.30" font-size="18.6" textLength="23.76" lengthAdjust="spacingAndGlyphs" fill="#000"  stroke="#fff" stroke-width="0.3">50</text>
<text x="451.29" y="274.30" font-size="18.6" textLength="23.99" lengthAdjust="spacingAndGlyphs" fill="#000"  stroke="#fff" stroke-width="0.3">60</text>
<text x="488.95" y="274.30" font-size="18.6" textLength="23.99" lengthAdjust="spacingAndGlyphs" fill="#000"  stroke="#fff" stroke-width="0.3">70</text>
<text x="526.73" y="274.30" font-size="18.6" textLength="23.87" lengthAdjust="spacingAndGlyphs" fill="#000"  stroke="#fff" stroke-width="0.3">80</text>
<text x="564.40" y="274.30" font-size="18.6" textLength="23.87" lengthAdjust="spacingAndGlyphs" fill="#000"  stroke="#fff" stroke-width="0.3">90</text>
<text x="339.65" y="256.40" font-size="18.6" textLength="23.65" lengthAdjust="spacingAndGlyphs" fill="#000"  stroke="#fff" stroke-width="0.3">30</text>
<text x="339.98" y="225.67" font-size="18.6" textLength="23.31" lengthAdjust="spacingAndGlyphs" fill="#000"  stroke="#fff" stroke-width="0.3">40</text>
<text x="339.65" y="188.13" font-size="18.6" textLength="23.65" lengthAdjust="spacingAndGlyphs" fill="#000"  stroke="#fff" stroke-width="0.3">50</text>
<text x="339.43" y="150.60" font-size="18.6" textLength="23.88" lengthAdjust="spacingAndGlyphs" fill="#000"  stroke="#fff" stroke-width="0.3">60</text>
<text x="339.43" y="113.07" font-size="18.6" textLength="23.88" lengthAdjust="spacingAndGlyphs" fill="#000"  stroke="#fff" stroke-width="0.3">70</text>
<text x="339.54" y="75.53" font-size="18.6" textLength="23.77" lengthAdjust="spacingAndGlyphs" fill="#000"  stroke="#fff" stroke-width="0.3">80</text>
<text x="339.54" y="43.40" font-size="18.6" textLength="23.77" lengthAdjust="spacingAndGlyphs" fill="#000"  stroke="#fff" stroke-width="0.3">90</text>
<text x="428.11" y="296.30" font-size="18.6" textLength="10.33" lengthAdjust="spacingAndGlyphs" fill="#000"  stroke="#fff" stroke-width="0.3">X</text>
<text x="448.95" y="296.30" font-size="18.6" textLength="85.42" lengthAdjust="spacingAndGlyphs" fill="#000"  stroke="#fff" stroke-width="0.3">(arcsecs)</text>
<text transform="rotate(-90)" x="-197.33" y="324.00" font-size="18.6" textLength="107.79" lengthAdjust="spacingAndGlyphs" fill="#000" stroke="#fff" stroke-width="0.3">Y (arcsecs)</text>
<path d="M64.27 345.70v2.0M64.27 570.90v-2.0M68.03 345.70v2.0M68.03 570.90v-2.0M71.80 345.70v2.0M71.80 570.90v-2.0M75.57 345.70v2.0M75.57 570.90v-2.0M79.33 345.70v4.0M79.33 570.90v-4.0M83.10 345.70v2.0M83.10 570.90v-2.0M86.87 345.70v2.0M86.87 570.90v-2.0M90.63 345.70v2.0M90.63 570.90v-2.0M94.40 345.70v2.0M94.40 570.90v-2.0M98.17 345.70v2.0M98.17 570.90v-2.0M101.93 345.70v2.0M101.93 570.90v-2.0M105.70 345.70v2.0M105.70 570.90v-2.0M109.47 345.70v2.0M109.47 570.90v-2.0M113.23 345.70v2.0M113.23 570.90v-2.0M117.00 345.70v4.0M117.00 570.90v-4.0M120.77 345.70v2.0M120.77 570.90v-2.0M124.53 345.70v2.0M124.53 570.90v-2.0M128.30 345.70v2.0M128.30 570.90v-2.0M132.07 345.70v2.0M132.07 570.90v-2.0M135.83 345.70v2.0M135.83 570.90v-2.0M139.60 345.70v2.0M139.60 570.90v-2.0M143.37 345.70v2.0M143.37 570.90v-2.0M147.13 345.70v2.0M147.13 570.90v-2.0M150.90 345.70v2.0M150.90 570.90v-2.0M154.67 345.70v4.0M154.67 570.90v-4.0M158.43 345.70v2.0M158.43 570.90v-2.0M162.20 345.70v2.0M162.20 570.90v-2.0M165.97 345.70v2.0M165.97 570.90v-2.0M169.73 345.70v2.0M169.73 570.90v-2.0M173.50 345.70v2.0M173.50 570.90v-2.0M177.27 345.70v2.0M177.27 570.90v-2.0M181.03 345.70v2.0M181.03 570.90v-2.0M184.80 345.70v2.0M184.80 570.90v-2.0M188.57 345.70v2.0M188.57 570.90v-2.0M192.33 345.70v4.0M192.33 570.90v-4.0M196.10 345.70v2.0M196.10 570.90v-2.0M199.87 345.70v2.0M199.87 570.90v-2.0M203.63 345.70v2.0M203.63 570.90v-2.0M207.40 345.70v2.0M207.40 570.90v-2.0M211.17 345.70v2.0M211.17 570.90v-2.0M214.93 345.70v2.0M214.93 570.90v-2.0M218.70 345.70v2.0M218.70 570.90v-2.0M222.47 345.70v2.0M222.47 570.90v-2.0M226.23 345.70v2.0M226.23 570.90v-2.0M230.00 345.70v4.0M230.00 570.90v-4.0M233.77 345.70v2.0M233.77 570.90v-2.0M237.53 345.70v2.0M237.53 570.90v-2.0M241.30 345.70v2.0M241.30 570.90v-2.0M245.07 345.70v2.0M245.07 570.90v-2.0M248.83 345.70v2.0M248.83 570.90v-2.0M252.60 345.70v2.0M252.60 570.90v-2.0M256.37 345.70v2.0M256.37 570.90v-2.0M260.13 345.70v2.0M260.13 570.90v-2.0M263.90 345.70v2.0M263.90 570.90v-2.0M267.67 345.70v4.0M267.67 570.90v-4.0M271.43 345.70v2.0M271.43 570.90v-2.0M275.20 345.70v2.0M275.20 570.90v-2.0M278.97 345.70v2.0M278.97 570.90v-2.0M282.73 345.70v2.0M282.73 570.90v-2.0M60.50 567.15h2.0M286.50 567.15h-2.0M60.50 563.39h2.0M286.50 563.39h-2.0M60.50 559.64h2.0M286.50 559.64h-2.0M60.50 555.89h2.0M286.50 555.89h-2.0M60.50 552.13h2.0M286.50 552.13h-2.0M60.50 548.38h2.0M286.50 548.38h-2.0M60.50 544.63h2.0M286.50 544.63h-2.0M60.50 540.87h2.0M286.50 540.87h-2.0M60.50 537.12h2.0M286.50 537.12h-2.0M60.50 533.37h4.0M286.50 533.37h-4.0M60.50 529.61h2.0M286.50 529.61h-2.0M60.50 525.86h2.0M286.50 525.86h-2.0M60.50 522.11h2.0M286.50 522.11h-2.0M60.50 518.35h2.0M286.50 518.35h-2.0M60.50 514.60h2.0M286.50 514.60h-2.0M60.50 510.85h2.0M286.50 510.85h-2.0M60.50 507.09h2.0M286.50 507.09h-2.0M60.50 503.34h2.0M286.50 503.34h-2.0M60.50 499.59h2.0M286.50 499.59h-2.0M60.50 495.83h4.0M286.50 495.83h-4.0M60.50 492.08h2.0M286.50 492.08h-2.0M60.50 488.33h2.0M286.50 488.33h-2.0M60.50 484.57h2.0M286.50 484.57h-2.0M60.50 480.82h2.0M286.50 480.82h-2.0M60.50 477.07h2.0M286.50 477.07h-2.0M60.50 473.31h2.0M286.50 473.31h-2.0M60.50 469.56h2.0M286.50 469.56h-2.0M60.50 465.81h2.0M286.50 465.81h-2.0M60.50 462.05h2.0M286.50 462.05h-2.0M60.50 458.30h4.0M286.50 458.30h-4.0M60.50 454.55h2.0M286.50 454.55h-2.0M60.50 450.79h2.0M286.50 450.79h-2.0M60.50 447.04h2.0M286.50 447.04h-2.0M60.50 443.29h2.0M286.50 443.29h-2.0M60.50 439.53h2.0M286.50 439.53h-2.0M60.50 435.78h2.0M286.50 435.78h-2.0M60.50 432.03h2.0M286.50 432.03h-2.0M60.50 428.27h2.0M286.50 428.27h-2.0M60.50 424.52h2.0M286.50 424.52h-2.0M60.50 420.77h4.0M286.50 420.77h-4.0M60.50 417.01h2.0M286.50 417.01h-2.0M60.50 413.26h2.0M286.50 413.26h-2.0M60.50 409.51h2.0M286.50 409.51h-2.0M60.50 405.75h2.0M286.50 405.75h-2.0M60.50 402.00h2.0M286.50 402.00h-2.0M60.50 398.25h2.0M286.50 398.25h-2.0M60.50 394.49h2.0M286.50 394.49h-2.0M60.50 390.74h2.0M286.50 390.74h-2.0M60.50 386.99h2.0M286.50 386.99h-2.0M60.50 383.23h4.0M286.50 383.23h-4.0M60.50 379.48h2.0M286.50 379.48h-2.0M60.50 375.73h2.0M286.50 375.73h-2.0M60.50 371.97h2.0M286.50 371.97h-2.0M60.50 368.22h2.0M286.50 368.22h-2.0M60.50 364.47h2.0M286.50 364.47h-2.0M60.50 360.71h2.0M286.50 360.71h-2.0M60.50 356.96h2.0M286.50 356.96h-2.0M60.50 353.21h2.0M286.50 353.21h-2.0M60.50 349.45h2.0M286.50 349.45h-2.0" stroke="#000" stroke-width="1" fill="none"/>
<rect x="60.50" y="345.70" width="226.0" height="225.2" fill="none" stroke="#000" stroke-width="1.4"/>
<text x="67.81" y="589.70" font-size="18.6" textLength="23.42" lengthAdjust="spacingAndGlyphs" fill="#000"  stroke="#fff" stroke-width="0.3">40</text>
<text x="105.15" y="589.70" font-size="18.6" textLength="23.76" lengthAdjust="spacingAndGlyphs" fill="#000"  stroke="#fff" stroke-width="0.3">50</text>
<text x="142.59" y="589.70" font-size="18.6" textLength="23.99" lengthAdjust="spacingAndGlyphs" fill="#000"  stroke="#fff" stroke-width="0.3">60</text>
<text x="180.25" y="589.70" font-size="18.6" textLength="23.99" lengthAdjust="spacingAndGlyphs" fill="#000"  stroke="#fff" stroke-width="0.3">70</text>
<text x="218.03" y="589.70" font-size="18.6" textLength="23.87" lengthAdjust="spacingAndGlyphs" fill="#000"  stroke="#fff" stroke-width="0.3">80</text>
<text x="255.70" y="589.70" font-size="18.6" textLength="23.87" lengthAdjust="spacingAndGlyphs" fill="#000"  stroke="#fff" stroke-width="0.3">90</text>
<text x="30.95" y="571.80" font-size="18.6" textLength="23.65" lengthAdjust="spacingAndGlyphs" fill="#000"  stroke="#fff" stroke-width="0.3">30</text>
<text x="31.28" y="541.07" font-size="18.6" textLength="23.31" lengthAdjust="spacingAndGlyphs" fill="#000"  stroke="#fff" stroke-width="0.3">40</text>
<text x="30.95" y="503.53" font-size="18.6" textLength="23.65" lengthAdjust="spacingAndGlyphs" fill="#000"  stroke="#fff" stroke-width="0.3">50</text>
<text x="30.73" y="466.00" font-size="18.6" textLength="23.88" lengthAdjust="spacingAndGlyphs" fill="#000"  stroke="#fff" stroke-width="0.3">60</text>
<text x="30.73" y="428.47" font-size="18.6" textLength="23.88" lengthAdjust="spacingAndGlyphs" fill="#000"  stroke="#fff" stroke-width="0.3">70</text>
<text x="30.84" y="390.93" font-size="18.6" textLength="23.77" lengthAdjust="spacingAndGlyphs" fill="#000"  stroke="#fff" stroke-width="0.3">80</text>
<text x="30.84" y="358.80" font-size="18.6" textLength="23.77" lengthAdjust="spacingAndGlyphs" fill="#000"  stroke="#fff" stroke-width="0.3">90</text>
<text x="119.41" y="611.70" font-size="18.6" textLength="10.33" lengthAdjust="spacingAndGlyphs" fill="#000"  stroke="#fff" stroke-width="0.3">X</text>
<text x="140.25" y="611.70" font-size="18.6" textLength="85.42" lengthAdjust="spacingAndGlyphs" fill="#000"  stroke="#fff" stroke-width="0.3">(arcsecs)</text>
<text transform="rotate(-90)" x="-512.73" y="15.30" font-size="18.6" textLength="107.79" lengthAdjust="spacingAndGlyphs" fill="#000" stroke="#fff" stroke-width="0.3">Y (arcsecs)</text>
<path d="M373.07 345.70v2.0M373.07 570.90v-2.0M376.83 345.70v2.0M376.83 570.90v-2.0M380.60 345.70v2.0M380.60 570.90v-2.0M384.37 345.70v2.0M384.37 570.90v-2.0M388.13 345.70v4.0M388.13 570.90v-4.0M391.90 345.70v2.0M391.90 570.90v-2.0M395.67 345.70v2.0M395.67 570.90v-2.0M399.43 345.70v2.0M399.43 570.90v-2.0M403.20 345.70v2.0M403.20 570.90v-2.0M406.97 345.70v2.0M406.97 570.90v-2.0M410.73 345.70v2.0M410.73 570.90v-2.0M414.50 345.70v2.0M414.50 570.90v-2.0M418.27 345.70v2.0M418.27 570.90v-2.0M422.03 345.70v2.0M422.03 570.90v-2.0M425.80 345.70v4.0M425.80 570.90v-4.0M429.57 345.70v2.0M429.57 570.90v-2.0M433.33 345.70v2.0M433.33 570.90v-2.0M437.10 345.70v2.0M437.10 570.90v-2.0M440.87 345.70v2.0M440.87 570.90v-2.0M444.63 345.70v2.0M444.63 570.90v-2.0M448.40 345.70v2.0M448.40 570.90v-2.0M452.17 345.70v2.0M452.17 570.90v-2.0M455.93 345.70v2.0M455.93 570.90v-2.0M459.70 345.70v2.0M459.70 570.90v-2.0M463.47 345.70v4.0M463.47 570.90v-4.0M467.23 345.70v2.0M467.23 570.90v-2.0M471.00 345.70v2.0M471.00 570.90v-2.0M474.77 345.70v2.0M474.77 570.90v-2.0M478.53 345.70v2.0M478.53 570.90v-2.0M482.30 345.70v2.0M482.30 570.90v-2.0M486.07 345.70v2.0M486.07 570.90v-2.0M489.83 345.70v2.0M489.83 570.90v-2.0M493.60 345.70v2.0M493.60 570.90v-2.0M497.37 345.70v2.0M497.37 570.90v-2.0M501.13 345.70v4.0M501.13 570.90v-4.0M504.90 345.70v2.0M504.90 570.90v-2.0M508.67 345.70v2.0M508.67 570.90v-2.0M512.43 345.70v2.0M512.43 570.90v-2.0M516.20 345.70v2.0M516.20 570.90v-2.0M519.97 345.70v2.0M519.97 570.90v-2.0M523.73 345.70v2.0M523.73 570.90v-2.0M527.50 345.70v2.0M527.50 570.90v-2.0M531.27 345.70v2.0M531.27 570.90v-2.0M535.03 345.70v2.0M535.03 570.90v-2.0M538.80 345.70v4.0M538.80 570.90v-4.0M542.57 345.70v2.0M542.57 570.90v-2.0M546.33 345.70v2.0M546.33 570.90v-2.0M550.10 345.70v2.0M550.10 570.90v-2.0M553.87 345.70v2.0M553.87 570.90v-2.0M557.63 345.70v2.0M557.63 570.90v-2.0M561.40 345.70v2.0M561.40 570.90v-2.0M565.17 345.70v2.0M565.17 570.90v-2.0M568.93 345.70v2.0M568.93 570.90v-2.0M572.70 345.70v2.0M572.70 570.90v-2.0M576.47 345.70v4.0M576.47 570.90v-4.0M580.23 345.70v2.0M580.23 570.90v-2.0M584.00 345.70v2.0M584.00 570.90v-2.0M587.77 345.70v2.0M587.77 570.90v-2.0M591.53 345.70v2.0M591.53 570.90v-2.0M369.30 567.15h2.0M595.30 567.15h-2.0M369.30 563.39h2.0M595.30 563.39h-2.0M369.30 559.64h2.0M595.30 559.64h-2.0M369.30 555.89h2.0M595.30 555.89h-2.0M369.30 552.13h2.0M595.30 552.13h-2.0M369.30 548.38h2.0M595.30 548.38h-2.0M369.30 544.63h2.0M595.30 544.63h-2.0M369.30 540.87h2.0M595.30 540.87h-2.0M369.30 537.12h2.0M595.30 537.12h-2.0M369.30 533.37h4.0M595.30 533.37h-4.0M369.30 529.61h2.0M595.30 529.61h-2.0M369.30 525.86h2.0M595.30 525.86h-2.0M369.30 522.11h2.0M595.30 522.11h-2.0M369.30 518.35h2.0M595.30 518.35h-2.0M369.30 514.60h2.0M595.30 514.60h-2.0M369.30 510.85h2.0M595.30 510.85h-2.0M369.30 507.09h2.0M595.30 507.09h-2.0M369.30 503.34h2.0M595.30 503.34h-2.0M369.30 499.59h2.0M595.30 499.59h-2.0M369.30 495.83h4.0M595.30 495.83h-4.0M369.30 492.08h2.0M595.30 492.08h-2.0M369.30 488.33h2.0M595.30 488.33h-2.0M369.30 484.57h2.0M595.30 484.57h-2.0M369.30 480.82h2.0M595.30 480.82h-2.0M369.30 477.07h2.0M595.30 477.07h-2.0M369.30 473.31h2.0M595.30 473.31h-2.0M369.30 469.56h2.0M595.30 469.56h-2.0M369.30 465.81h2.0M595.30 465.81h-2.0M369.30 462.05h2.0M595.30 462.05h-2.0M369.30 458.30h4.0M595.30 458.30h-4.0M369.30 454.55h2.0M595.30 454.55h-2.0M369.30 450.79h2.0M595.30 450.79h-2.0M369.30 447.04h2.0M595.30 447.04h-2.0M369.30 443.29h2.0M595.30 443.29h-2.0M369.30 439.53h2.0M595.30 439.53h-2.0M369.30 435.78h2.0M595.30 435.78h-2.0M369.30 432.03h2.0M595.30 432.03h-2.0M369.30 428.27h2.0M595.30 428.27h-2.0M369.30 424.52h2.0M595.30 424.52h-2.0M369.30 420.77h4.0M595.30 420.77h-4.0M369.30 417.01h2.0M595.30 417.01h-2.0M369.30 413.26h2.0M595.30 413.26h-2.0M369.30 409.51h2.0M595.30 409.51h-2.0M369.30 405.75h2.0M595.30 405.75h-2.0M369.30 402.00h2.0M595.30 402.00h-2.0M369.30 398.25h2.0M595.30 398.25h-2.0M369.30 394.49h2.0M595.30 394.49h-2.0M369.30 390.74h2.0M595.30 390.74h-2.0M369.30 386.99h2.0M595.30 386.99h-2.0M369.30 383.23h4.0M595.30 383.23h-4.0M369.30 379.48h2.0M595.30 379.48h-2.0M369.30 375.73h2.0M595.30 375.73h-2.0M369.30 371.97h2.0M595.30 371.97h-2.0M369.30 368.22h2.0M595.30 368.22h-2.0M369.30 364.47h2.0M595.30 364.47h-2.0M369.30 360.71h2.0M595.30 360.71h-2.0M369.30 356.96h2.0M595.30 356.96h-2.0M369.30 353.21h2.0M595.30 353.21h-2.0M369.30 349.45h2.0M595.30 349.45h-2.0" stroke="#000" stroke-width="1" fill="none"/>
<rect x="369.30" y="345.70" width="226.0" height="225.2" fill="none" stroke="#000" stroke-width="1.4"/>
<text x="376.61" y="589.70" font-size="18.6" textLength="23.42" lengthAdjust="spacingAndGlyphs" fill="#000"  stroke="#fff" stroke-width="0.3">40</text>
<text x="413.95" y="589.70" font-size="18.6" textLength="23.76" lengthAdjust="spacingAndGlyphs" fill="#000"  stroke="#fff" stroke-width="0.3">50</text>
<text x="451.39" y="589.70" font-size="18.6" textLength="23.99" lengthAdjust="spacingAndGlyphs" fill="#000"  stroke="#fff" stroke-width="0.3">60</text>
<text x="489.05" y="589.70" font-size="18.6" textLength="23.99" lengthAdjust="spacingAndGlyphs" fill="#000"  stroke="#fff" stroke-width="0.3">70</text>
<text x="526.83" y="589.70" font-size="18.6" textLength="23.87" lengthAdjust="spacingAndGlyphs" fill="#000"  stroke="#fff" stroke-width="0.3">80</text>
<text x="564.50" y="589.70" font-size="18.6" textLength="23.87" lengthAdjust="spacingAndGlyphs" fill="#000"  stroke="#fff" stroke-width="0.3">90</text>
<text x="339.75" y="571.80" font-size="18.6" textLength="23.65" lengthAdjust="spacingAndGlyphs" fill="#000"  stroke="#fff" stroke-width="0.3">30</text>
<text x="340.08" y="541.07" font-size="18.6" textLength="23.31" lengthAdjust="spacingAndGlyphs" fill="#000"  stroke="#fff" stroke-width="0.3">40</text>
<text x="339.75" y="503.53" font-size="18.6" textLength="23.65" lengthAdjust="spacingAndGlyphs" fill="#000"  stroke="#fff" stroke-width="0.3">50</text>
<text x="339.53" y="466.00" font-size="18.6" textLength="23.88" lengthAdjust="spacingAndGlyphs" fill="#000"  stroke="#fff" stroke-width="0.3">60</text>
<text x="339.53" y="428.47" font-size="18.6" textLength="23.88" lengthAdjust="spacingAndGlyphs" fill="#000"  stroke="#fff" stroke-width="0.3">70</text>
<text x="339.64" y="390.93" font-size="18.6" textLength="23.77" lengthAdjust="spacingAndGlyphs" fill="#000"  stroke="#fff" stroke-width="0.3">80</text>
<text x="339.64" y="358.80" font-size="18.6" textLength="23.77" lengthAdjust="spacingAndGlyphs" fill="#000"  stroke="#fff" stroke-width="0.3">90</text>
<text x="428.21" y="611.70" font-size="18.6" textLength="10.33" lengthAdjust="spacingAndGlyphs" fill="#000"  stroke="#fff" stroke-width="0.3">X</text>
<text x="449.05" y="611.70" font-size="18.6" textLength="85.42" lengthAdjust="spacingAndGlyphs" fill="#000"  stroke="#fff" stroke-width="0.3">(arcsecs)</text>
<text transform="rotate(-90)" x="-512.73" y="324.10" font-size="18.6" textLength="107.79" lengthAdjust="spacingAndGlyphs" fill="#000" stroke="#fff" stroke-width="0.3">Y (arcsecs)</text>
</svg></body></html>
